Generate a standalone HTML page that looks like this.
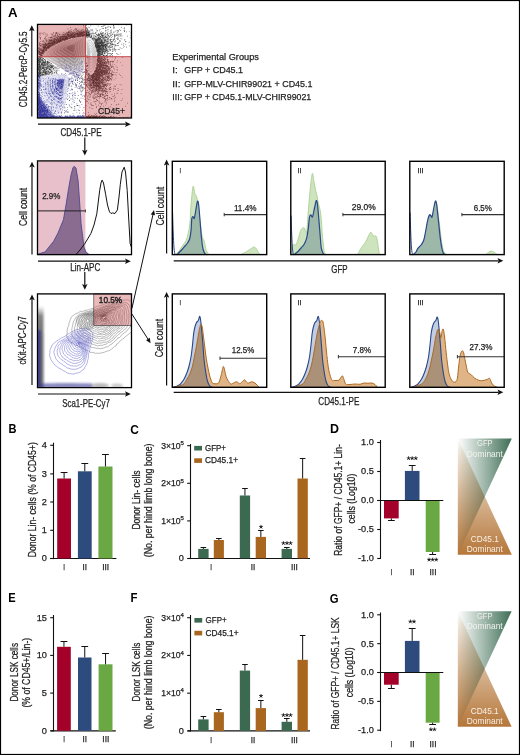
<!DOCTYPE html><html><head><meta charset="utf-8"><style>
html,body{margin:0;padding:0;background:#fff;}
svg{display:block;font-family:"Liberation Sans", sans-serif;}
</style></head><body>
<svg width="520" height="755" viewBox="0 0 520 755">
<defs>
<linearGradient id="gG" x1="0" y1="0" x2="1" y2="0"><stop offset="0" stop-color="#ffffff"/><stop offset="1" stop-color="#3e6e55"/></linearGradient>
<linearGradient id="gO" x1="0" y1="0" x2="0" y2="1"><stop offset="0" stop-color="#ffffff"/><stop offset="0.12" stop-color="#f3e9de"/><stop offset="1" stop-color="#b5773a"/></linearGradient>
<filter id="blur1" x="-20%" y="-20%" width="140%" height="140%"><feGaussianBlur stdDeviation="1.2"/></filter>
<filter id="blur2" x="-20%" y="-20%" width="140%" height="140%"><feGaussianBlur stdDeviation="2.5"/></filter>
</defs>
<rect x="0" y="0" width="520" height="755" fill="#fff"/>

<text x="8.0" y="17.4" font-size="13" text-anchor="start" fill="#000" font-weight="bold" textLength="9.6" lengthAdjust="spacingAndGlyphs" >A</text>
<text x="8.4" y="433.4" font-size="13" text-anchor="start" fill="#000" font-weight="bold" textLength="8.0" lengthAdjust="spacingAndGlyphs" >B</text>
<text x="130.3" y="433.6" font-size="13" text-anchor="start" fill="#000" font-weight="bold" textLength="8.6" lengthAdjust="spacingAndGlyphs" >C</text>
<text x="329.9" y="433.4" font-size="13" text-anchor="start" fill="#000" font-weight="bold" textLength="9.0" lengthAdjust="spacingAndGlyphs" >D</text>
<text x="8.3" y="602.3" font-size="13" text-anchor="start" fill="#000" font-weight="bold" textLength="7.4" lengthAdjust="spacingAndGlyphs" >E</text>
<text x="130.5" y="602.4" font-size="13" text-anchor="start" fill="#000" font-weight="bold" textLength="7.0" lengthAdjust="spacingAndGlyphs" >F</text>
<text x="329.8" y="602.5" font-size="13" text-anchor="start" fill="#000" font-weight="bold" textLength="8.8" lengthAdjust="spacingAndGlyphs" >G</text>
<clipPath id="scClip"><rect x="37.5" y="24.4" width="94.0" height="93.6"/></clipPath>
<g clip-path="url(#scClip)">
<rect x="37.5" y="24.4" width="94.0" height="93.6" fill="#fff"/>
<g filter="url(#blur2)">
<path d="M39,50 C45,40 58,34 75,32 C82,31 88,32 92,34 L88,40 C75,40 60,44 45,54 Z" fill="#000" opacity="0.45"/>
<ellipse cx="99" cy="47" rx="9" ry="8" fill="#000" opacity="0.35"/>
<ellipse cx="97" cy="80" rx="7" ry="11" fill="#000" opacity="0.35"/>
<ellipse cx="48" cy="66" rx="9" ry="6" fill="#000" opacity="0.25"/>
</g>
<radialGradient id="leafG" cx="0.62" cy="0.3" r="0.65"><stop offset="0" stop-color="#766e6e"/><stop offset="0.5" stop-color="#a89c9c"/><stop offset="1" stop-color="#e6e2e2"/></radialGradient>
<path d="M42.8,54.6 L43.7,53.4 L44.7,52.2 L45.7,51.1 L46.9,50.0 L48.1,49.0 L49.4,48.0 L50.8,47.1 L52.2,46.2 L53.8,45.3 L55.2,44.5 L56.8,43.7 L58.2,43.0 L59.8,42.3 L61.2,41.7 L62.8,41.1 L64.2,40.5 L65.8,40.0 L67.2,39.6 L68.8,39.1 L70.2,38.7 L71.8,38.4 L73.2,38.0 L74.8,37.7 L76.2,37.4 L77.8,37.2 L79.2,37.0 L80.6,36.8 L81.9,36.6 L83.1,36.5 L84.2,36.5 L85.0,36.7 L85.7,37.1 L86.1,37.7 L86.5,38.8 L86.7,40.5 L86.8,42.8 L86.8,45.7 L86.8,48.5 L86.6,51.2 L86.5,53.8 L86.3,56.2 L86.1,58.6 L85.8,60.9 L85.4,63.0 L85.1,65.0 L84.6,66.9 L84.1,68.8 L83.6,70.6 L82.9,72.4 L82.3,73.9 L81.6,75.3 L80.9,76.4 L80.1,77.4 L79.3,78.0 L78.5,78.4 L77.7,78.5 L76.8,78.3 L75.8,77.9 L74.7,77.4 L73.4,76.7 L72.1,75.8 L70.5,74.8 L68.8,73.8 L67.0,72.6 L65.0,71.4 L63.0,70.1 L61.0,68.9 L59.0,67.6 L57.0,66.4 L55.1,65.2 L53.2,64.1 L51.4,63.0 L49.6,62.0 L48.1,61.1 L46.7,60.3 L45.5,59.6 L44.5,58.9 L43.7,58.4 L43.0,57.9 L42.4,57.4 L42.1,57.1 L42.0,56.5 L42.2,55.7 Z" fill="url(#leafG)"/>
<path d="M46.0,53.7 L46.8,52.6 L47.7,51.5 L48.6,50.5 L49.6,49.6 L50.8,48.7 L51.9,47.8 L53.1,47.0 L54.4,46.2 L55.8,45.4 L57.1,44.7 L58.4,44.0 L59.8,43.3 L61.1,42.7 L62.4,42.2 L63.8,41.6 L65.1,41.1 L66.4,40.7 L67.8,40.3 L69.1,39.9 L70.4,39.5 L71.8,39.2 L73.1,38.9 L74.4,38.6 L75.8,38.4 L77.1,38.1 L78.4,38.0 L79.6,37.8 L80.8,37.6 L81.9,37.5 L82.8,37.6 L83.6,37.8 L84.2,38.1 L84.6,38.6 L84.9,39.6 L85.1,41.1 L85.2,43.2 L85.2,45.7 L85.1,48.2 L85.0,50.6 L84.9,52.9 L84.7,55.1 L84.5,57.2 L84.3,59.2 L84.0,61.1 L83.6,62.9 L83.2,64.6 L82.8,66.3 L82.3,67.9 L81.7,69.5 L81.2,70.9 L80.5,72.1 L79.9,73.1 L79.2,73.9 L78.5,74.5 L77.8,74.8 L77.1,74.9 L76.3,74.7 L75.4,74.4 L74.4,73.9 L73.3,73.3 L72.1,72.5 L70.7,71.7 L69.2,70.7 L67.5,69.7 L65.8,68.6 L64.0,67.5 L62.2,66.4 L60.4,65.2 L58.6,64.1 L56.9,63.1 L55.3,62.1 L53.6,61.1 L52.1,60.2 L50.7,59.4 L49.5,58.7 L48.4,58.1 L47.5,57.5 L46.8,57.0 L46.2,56.6 L45.7,56.2 L45.4,55.8 L45.3,55.3 L45.5,54.6 Z" fill="none" stroke="#fff" stroke-width="0.5" opacity="0.8"/>
<path d="M49.2,52.7 L49.9,51.8 L50.7,50.8 L51.5,49.9 L52.4,49.1 L53.4,48.3 L54.4,47.6 L55.5,46.9 L56.6,46.1 L57.8,45.5 L58.9,44.8 L60.1,44.2 L61.3,43.7 L62.4,43.1 L63.6,42.6 L64.8,42.2 L66.0,41.7 L67.1,41.4 L68.3,41.0 L69.5,40.7 L70.6,40.3 L71.8,40.0 L73.0,39.8 L74.1,39.5 L75.3,39.3 L76.5,39.1 L77.6,38.9 L78.7,38.8 L79.7,38.7 L80.7,38.6 L81.5,38.6 L82.2,38.8 L82.7,39.1 L83.0,39.5 L83.3,40.4 L83.5,41.7 L83.5,43.5 L83.5,45.8 L83.5,47.9 L83.4,50.0 L83.3,52.0 L83.2,54.0 L83.0,55.8 L82.7,57.6 L82.5,59.3 L82.2,60.8 L81.8,62.3 L81.5,63.8 L81.0,65.2 L80.5,66.6 L80.0,67.8 L79.5,68.8 L78.9,69.7 L78.3,70.5 L77.7,71.0 L77.1,71.3 L76.4,71.3 L75.8,71.2 L75.0,70.9 L74.1,70.5 L73.1,69.9 L72.0,69.3 L70.9,68.5 L69.5,67.7 L68.1,66.8 L66.5,65.8 L65.0,64.8 L63.4,63.8 L61.9,62.9 L60.3,61.9 L58.8,61.0 L57.3,60.1 L55.9,59.3 L54.5,58.5 L53.3,57.8 L52.3,57.1 L51.3,56.6 L50.5,56.1 L49.9,55.7 L49.4,55.3 L48.9,54.9 L48.6,54.6 L48.6,54.2 L48.8,53.5 Z" fill="none" stroke="#fff" stroke-width="0.5" opacity="0.8"/>
<path d="M52.4,51.8 L53.0,50.9 L53.7,50.1 L54.4,49.4 L55.2,48.7 L56.0,48.0 L56.9,47.4 L57.8,46.7 L58.8,46.1 L59.8,45.5 L60.8,45.0 L61.8,44.5 L62.8,44.0 L63.8,43.5 L64.8,43.1 L65.8,42.7 L66.8,42.3 L67.8,42.0 L68.8,41.7 L69.8,41.4 L70.8,41.1 L71.8,40.9 L72.8,40.7 L73.8,40.4 L74.8,40.3 L75.9,40.1 L76.8,39.9 L77.7,39.8 L78.6,39.7 L79.5,39.6 L80.2,39.7 L80.7,39.8 L81.2,40.1 L81.5,40.4 L81.7,41.2 L81.8,42.3 L81.9,43.9 L81.9,45.8 L81.9,47.7 L81.8,49.5 L81.7,51.2 L81.6,52.9 L81.4,54.5 L81.2,56.0 L81.0,57.4 L80.8,58.7 L80.5,60.0 L80.1,61.3 L79.7,62.5 L79.3,63.7 L78.9,64.7 L78.4,65.6 L77.9,66.4 L77.4,67.0 L76.9,67.5 L76.4,67.7 L75.8,67.8 L75.2,67.6 L74.6,67.4 L73.8,67.0 L73.0,66.6 L72.0,66.0 L71.0,65.3 L69.9,64.6 L68.7,63.8 L67.3,63.0 L66.0,62.2 L64.6,61.3 L63.3,60.5 L62.0,59.7 L60.7,58.9 L59.4,58.1 L58.2,57.4 L57.0,56.7 L56.0,56.1 L55.0,55.6 L54.2,55.1 L53.6,54.7 L53.0,54.3 L52.5,54.0 L52.2,53.7 L51.9,53.4 L51.9,53.0 L52.1,52.5 Z" fill="none" stroke="#fff" stroke-width="0.5" opacity="0.8"/>
<path d="M55.7,50.8 L56.1,50.1 L56.7,49.5 L57.3,48.8 L57.9,48.2 L58.6,47.7 L59.4,47.1 L60.1,46.6 L60.9,46.1 L61.8,45.6 L62.6,45.2 L63.5,44.7 L64.3,44.3 L65.1,43.9 L66.0,43.6 L66.8,43.3 L67.7,42.9 L68.5,42.7 L69.3,42.4 L70.2,42.2 L71.0,41.9 L71.9,41.7 L72.7,41.5 L73.5,41.4 L74.4,41.2 L75.2,41.1 L76.0,40.9 L76.8,40.8 L77.5,40.7 L78.2,40.7 L78.8,40.7 L79.3,40.8 L79.7,41.0 L79.9,41.3 L80.1,42.0 L80.2,42.9 L80.3,44.2 L80.3,45.8 L80.3,47.4 L80.2,48.9 L80.1,50.3 L80.0,51.7 L79.9,53.1 L79.7,54.3 L79.5,55.5 L79.3,56.6 L79.1,57.7 L78.8,58.8 L78.5,59.8 L78.1,60.8 L77.8,61.6 L77.4,62.4 L77.0,63.0 L76.5,63.6 L76.1,63.9 L75.7,64.2 L75.2,64.2 L74.7,64.1 L74.1,63.9 L73.5,63.6 L72.8,63.2 L72.0,62.7 L71.2,62.2 L70.2,61.6 L69.2,60.9 L68.1,60.2 L67.0,59.5 L65.8,58.8 L64.7,58.1 L63.6,57.4 L62.5,56.7 L61.5,56.1 L60.5,55.5 L59.5,55.0 L58.6,54.5 L57.8,54.0 L57.2,53.6 L56.6,53.2 L56.1,52.9 L55.7,52.6 L55.4,52.4 L55.2,52.2 L55.2,51.9 L55.3,51.4 Z" fill="none" stroke="#fff" stroke-width="0.5" opacity="0.8"/>
<path d="M58.9,49.9 L59.3,49.3 L59.7,48.8 L60.2,48.3 L60.7,47.8 L61.3,47.4 L61.8,46.9 L62.5,46.5 L63.1,46.1 L63.8,45.7 L64.5,45.3 L65.1,45.0 L65.8,44.6 L66.5,44.3 L67.2,44.1 L67.8,43.8 L68.5,43.5 L69.2,43.3 L69.9,43.1 L70.5,42.9 L71.2,42.7 L71.9,42.6 L72.6,42.4 L73.2,42.3 L73.9,42.1 L74.6,42.0 L75.2,41.9 L75.9,41.8 L76.4,41.8 L77.0,41.7 L77.5,41.7 L77.9,41.8 L78.2,42.0 L78.4,42.3 L78.5,42.8 L78.6,43.5 L78.7,44.6 L78.7,45.9 L78.6,47.1 L78.6,48.3 L78.5,49.5 L78.4,50.6 L78.3,51.7 L78.2,52.7 L78.0,53.6 L77.9,54.5 L77.7,55.4 L77.5,56.3 L77.2,57.1 L76.9,57.9 L76.6,58.6 L76.3,59.2 L76.0,59.7 L75.7,60.1 L75.3,60.4 L74.9,60.6 L74.6,60.6 L74.2,60.5 L73.7,60.4 L73.2,60.1 L72.6,59.8 L72.0,59.4 L71.3,59.0 L70.6,58.5 L69.8,58.0 L68.8,57.4 L68.0,56.9 L67.0,56.3 L66.2,55.7 L65.2,55.2 L64.4,54.6 L63.5,54.1 L62.7,53.6 L61.9,53.2 L61.2,52.8 L60.6,52.4 L60.1,52.1 L59.6,51.8 L59.2,51.6 L58.9,51.3 L58.7,51.1 L58.5,51.0 L58.5,50.7 L58.6,50.3 Z" fill="none" stroke="#fff" stroke-width="0.5" opacity="0.8"/>
<path d="M62.1,48.9 L62.4,48.5 L62.7,48.1 L63.1,47.7 L63.5,47.4 L63.9,47.0 L64.3,46.7 L64.8,46.4 L65.3,46.1 L65.8,45.8 L66.3,45.5 L66.8,45.2 L67.3,45.0 L67.8,44.7 L68.3,44.5 L68.9,44.3 L69.4,44.1 L69.9,44.0 L70.4,43.8 L70.9,43.7 L71.4,43.5 L71.9,43.4 L72.4,43.3 L72.9,43.2 L73.4,43.1 L74.0,43.0 L74.4,42.9 L74.9,42.9 L75.4,42.8 L75.8,42.8 L76.1,42.8 L76.4,42.9 L76.6,43.0 L76.8,43.2 L76.9,43.6 L77.0,44.1 L77.0,44.9 L77.0,45.9 L77.0,46.8 L77.0,47.8 L76.9,48.6 L76.9,49.5 L76.8,50.3 L76.7,51.1 L76.6,51.8 L76.4,52.5 L76.3,53.1 L76.1,53.8 L75.9,54.4 L75.7,55.0 L75.5,55.5 L75.3,56.0 L75.0,56.3 L74.8,56.7 L74.5,56.9 L74.2,57.0 L73.9,57.0 L73.6,57.0 L73.3,56.9 L72.9,56.7 L72.5,56.4 L72.0,56.1 L71.5,55.8 L70.9,55.4 L70.3,55.1 L69.6,54.6 L68.9,54.2 L68.3,53.8 L67.6,53.4 L66.9,52.9 L66.2,52.5 L65.6,52.1 L65.0,51.8 L64.4,51.4 L63.9,51.1 L63.4,50.9 L63.0,50.6 L62.6,50.4 L62.4,50.2 L62.1,50.0 L61.9,49.9 L61.8,49.8 L61.8,49.6 L61.9,49.3 Z" fill="none" stroke="#fff" stroke-width="0.5" opacity="0.8"/>
<path d="M65.3,48.0 L65.5,47.7 L65.7,47.4 L66.0,47.2 L66.2,46.9 L66.5,46.7 L66.8,46.5 L67.1,46.3 L67.5,46.0 L67.8,45.8 L68.1,45.7 L68.5,45.5 L68.8,45.3 L69.2,45.2 L69.5,45.0 L69.9,44.9 L70.2,44.7 L70.6,44.6 L70.9,44.5 L71.3,44.4 L71.6,44.3 L71.9,44.2 L72.3,44.2 L72.6,44.1 L73.0,44.0 L73.3,44.0 L73.7,43.9 L74.0,43.9 L74.3,43.8 L74.6,43.8 L74.8,43.8 L75.0,43.9 L75.1,44.0 L75.2,44.1 L75.3,44.3 L75.4,44.7 L75.4,45.3 L75.4,45.9 L75.4,46.6 L75.4,47.2 L75.3,47.8 L75.3,48.4 L75.2,48.9 L75.2,49.4 L75.1,49.9 L75.0,50.4 L74.9,50.8 L74.8,51.2 L74.7,51.7 L74.5,52.1 L74.4,52.4 L74.2,52.7 L74.0,53.0 L73.9,53.2 L73.7,53.4 L73.5,53.5 L73.3,53.5 L73.1,53.4 L72.9,53.3 L72.6,53.2 L72.3,53.1 L72.0,52.9 L71.7,52.6 L71.3,52.4 L70.8,52.1 L70.4,51.8 L69.9,51.5 L69.5,51.3 L69.0,51.0 L68.5,50.7 L68.1,50.4 L67.7,50.2 L67.3,49.9 L66.9,49.7 L66.5,49.5 L66.2,49.3 L65.9,49.1 L65.7,49.0 L65.5,48.8 L65.3,48.7 L65.2,48.6 L65.1,48.5 L65.1,48.4 L65.2,48.2 Z" fill="none" stroke="#fff" stroke-width="0.5" opacity="0.8"/>
<path d="M42.8,54.6 L43.7,53.4 L44.7,52.2 L45.7,51.1 L46.9,50.0 L48.1,49.0 L49.4,48.0 L50.8,47.1 L52.2,46.2 L53.8,45.3 L55.2,44.5 L56.8,43.7 L58.2,43.0 L59.8,42.3 L61.2,41.7 L62.8,41.1 L64.2,40.5 L65.8,40.0 L67.2,39.6 L68.8,39.1 L70.2,38.7 L71.8,38.4 L73.2,38.0 L74.8,37.7 L76.2,37.4 L77.8,37.2 L79.2,37.0 L80.6,36.8 L81.9,36.6 L83.1,36.5 L84.2,36.5 L85.0,36.7 L85.7,37.1 L86.1,37.7 L86.5,38.8 L86.7,40.5 L86.8,42.8 L86.8,45.7 L86.8,48.5 L86.6,51.2 L86.5,53.8 L86.3,56.2 L86.1,58.6 L85.8,60.9 L85.4,63.0 L85.1,65.0 L84.6,66.9 L84.1,68.8 L83.6,70.6 L82.9,72.4 L82.3,73.9 L81.6,75.3 L80.9,76.4 L80.1,77.4 L79.3,78.0 L78.5,78.4 L77.7,78.5 L76.8,78.3 L75.8,77.9 L74.7,77.4 L73.4,76.7 L72.1,75.8 L70.5,74.8 L68.8,73.8 L67.0,72.6 L65.0,71.4 L63.0,70.1 L61.0,68.9 L59.0,67.6 L57.0,66.4 L55.1,65.2 L53.2,64.1 L51.4,63.0 L49.6,62.0 L48.1,61.1 L46.7,60.3 L45.5,59.6 L44.5,58.9 L43.7,58.4 L43.0,57.9 L42.4,57.4 L42.1,57.1 L42.0,56.5 L42.2,55.7 Z" fill="none" stroke="#fff" stroke-width="1.1"/>
<path d="M87.8,37.6 L88.5,37.5 L89.2,37.6 L89.9,37.8 L90.6,38.3 L91.4,39.0 L92.1,39.8 L92.8,40.8 L93.4,41.9 L94.1,43.1 L94.6,44.4 L95.1,45.8 L95.6,47.2 L95.9,48.8 L96.2,50.3 L96.5,51.9 L96.7,53.6 L96.8,55.4 L96.9,57.1 L96.8,58.9 L96.7,60.6 L96.6,62.4 L96.3,64.1 L96.0,65.7 L95.6,67.2 L95.2,68.8 L94.7,70.1 L94.2,71.3 L93.7,72.3 L93.1,73.2 L92.6,73.9 L92.0,74.4 L91.4,74.7 L90.7,74.8 L90.2,74.7 L89.6,74.2 L89.1,73.5 L88.7,72.5 L88.3,71.2 L88.0,69.8 L87.7,68.0 L87.5,66.0 L87.3,63.8 L87.2,61.4 L87.0,58.9 L87.0,56.1 L86.9,53.2 L86.8,50.0 L86.8,46.7 L86.8,43.1 L87.0,40.4 L87.3,38.6 Z" fill="#f4f4f4"/>
<path d="M88.3,40.2 L88.9,40.1 L89.5,40.2 L90.1,40.4 L90.7,40.8 L91.3,41.4 L91.9,42.1 L92.5,42.9 L93.1,43.8 L93.6,44.9 L94.1,46.0 L94.5,47.2 L94.9,48.4 L95.2,49.7 L95.5,51.0 L95.7,52.4 L95.8,53.8 L95.9,55.3 L96.0,56.8 L96.0,58.3 L95.9,59.8 L95.7,61.3 L95.5,62.7 L95.3,64.1 L94.9,65.4 L94.5,66.7 L94.1,67.8 L93.7,68.8 L93.3,69.7 L92.8,70.5 L92.3,71.0 L91.8,71.5 L91.3,71.7 L90.8,71.8 L90.3,71.7 L89.8,71.3 L89.4,70.7 L89.0,69.9 L88.7,68.8 L88.4,67.5 L88.2,66.0 L88.0,64.3 L87.9,62.5 L87.7,60.5 L87.6,58.3 L87.6,56.0 L87.5,53.4 L87.5,50.8 L87.4,47.9 L87.4,44.9 L87.6,42.6 L87.9,41.1 Z" fill="none" stroke="#999" stroke-width="0.45"/>
<path d="M88.8,42.8 L89.2,42.7 L89.7,42.8 L90.2,43.0 L90.7,43.3 L91.3,43.8 L91.8,44.4 L92.2,45.0 L92.7,45.8 L93.1,46.7 L93.5,47.6 L93.9,48.6 L94.2,49.6 L94.5,50.6 L94.7,51.7 L94.8,52.9 L95.0,54.0 L95.1,55.3 L95.1,56.5 L95.1,57.7 L95.0,58.9 L94.9,60.2 L94.7,61.3 L94.5,62.5 L94.2,63.6 L93.9,64.6 L93.6,65.6 L93.2,66.4 L92.9,67.1 L92.5,67.7 L92.1,68.2 L91.7,68.6 L91.3,68.8 L90.8,68.9 L90.4,68.8 L90.0,68.5 L89.7,68.0 L89.4,67.2 L89.1,66.4 L88.9,65.3 L88.7,64.1 L88.6,62.7 L88.4,61.2 L88.3,59.5 L88.2,57.7 L88.2,55.8 L88.1,53.7 L88.1,51.5 L88.1,49.2 L88.1,46.7 L88.2,44.8 L88.4,43.5 Z" fill="none" stroke="#999" stroke-width="0.45"/>
<path d="M89.2,45.4 L89.6,45.4 L90.0,45.4 L90.4,45.6 L90.8,45.8 L91.2,46.2 L91.6,46.6 L92.0,47.2 L92.3,47.8 L92.7,48.5 L93.0,49.2 L93.3,49.9 L93.5,50.7 L93.7,51.6 L93.9,52.4 L94.0,53.3 L94.1,54.2 L94.2,55.2 L94.2,56.2 L94.2,57.1 L94.2,58.1 L94.1,59.1 L93.9,60.0 L93.8,60.9 L93.5,61.7 L93.3,62.6 L93.0,63.3 L92.8,64.0 L92.5,64.5 L92.2,65.0 L91.9,65.4 L91.5,65.7 L91.2,65.8 L90.9,65.9 L90.5,65.8 L90.2,65.6 L90.0,65.2 L89.7,64.6 L89.5,63.9 L89.3,63.1 L89.2,62.1 L89.1,61.0 L89.0,59.8 L88.9,58.5 L88.8,57.1 L88.8,55.6 L88.7,54.0 L88.7,52.3 L88.7,50.4 L88.7,48.5 L88.8,47.0 L89.0,46.0 Z" fill="none" stroke="#999" stroke-width="0.45"/>
<path d="M89.7,48.0 L90.0,48.0 L90.3,48.0 L90.6,48.1 L90.8,48.3 L91.2,48.6 L91.4,48.9 L91.7,49.3 L92.0,49.8 L92.2,50.2 L92.5,50.8 L92.7,51.3 L92.8,51.9 L93.0,52.5 L93.1,53.1 L93.2,53.8 L93.3,54.5 L93.3,55.1 L93.3,55.9 L93.3,56.5 L93.3,57.2 L93.2,58.0 L93.1,58.6 L93.0,59.3 L92.8,59.9 L92.7,60.5 L92.5,61.0 L92.3,61.5 L92.1,61.9 L91.8,62.3 L91.6,62.5 L91.4,62.8 L91.1,62.9 L90.9,62.9 L90.7,62.9 L90.4,62.7 L90.2,62.4 L90.1,62.0 L89.9,61.5 L89.8,60.9 L89.7,60.2 L89.6,59.4 L89.5,58.5 L89.5,57.6 L89.4,56.5 L89.4,55.5 L89.3,54.3 L89.3,53.0 L89.3,51.7 L89.3,50.2 L89.4,49.2 L89.5,48.4 Z" fill="none" stroke="#999" stroke-width="0.45"/>
<path d="M90.2,50.7 L90.4,50.6 L90.5,50.6 L90.7,50.7 L90.9,50.8 L91.1,51.0 L91.3,51.2 L91.4,51.4 L91.6,51.7 L91.8,52.0 L91.9,52.4 L92.0,52.7 L92.1,53.1 L92.2,53.4 L92.3,53.8 L92.4,54.2 L92.4,54.7 L92.5,55.1 L92.5,55.5 L92.5,56.0 L92.4,56.4 L92.4,56.8 L92.3,57.3 L92.3,57.7 L92.2,58.1 L92.0,58.4 L91.9,58.8 L91.8,59.1 L91.7,59.3 L91.5,59.5 L91.4,59.7 L91.2,59.8 L91.1,59.9 L90.9,60.0 L90.8,59.9 L90.7,59.8 L90.5,59.6 L90.4,59.4 L90.3,59.1 L90.2,58.7 L90.2,58.2 L90.1,57.8 L90.1,57.2 L90.0,56.6 L90.0,56.0 L90.0,55.3 L90.0,54.5 L90.0,53.8 L90.0,52.9 L90.0,52.0 L90.0,51.4 L90.1,50.9 Z" fill="none" stroke="#999" stroke-width="0.45"/>
<radialGradient id="tdG" cx="0.7" cy="0.25" r="0.75"><stop offset="0" stop-color="#2a2a9a" stop-opacity="0.5"/><stop offset="0.6" stop-color="#4a4ab0" stop-opacity="0.3"/><stop offset="1" stop-color="#8888cc" stop-opacity="0.12"/></radialGradient>
<path d="M41.5,75.8 L44.5,75.2 L47.5,75.0 L50.5,74.8 L53.5,74.7 L56.5,74.6 L59.5,74.5 L62.5,74.5 L65.2,75.1 L67.8,76.4 L68.9,78.2 L68.6,80.8 L68.4,83.5 L68.1,86.5 L67.8,89.2 L67.2,91.8 L66.8,94.2 L66.2,96.8 L65.8,99.2 L65.2,101.8 L64.8,104.2 L64.2,106.8 L63.6,109.0 L62.9,111.0 L62.1,112.6 L61.4,113.9 L60.2,114.5 L58.8,114.5 L57.0,114.1 L55.0,113.4 L53.0,112.2 L51.0,110.8 L49.0,109.0 L47.0,107.0 L45.2,105.0 L43.8,103.0 L42.5,101.0 L41.5,99.0 L40.8,96.0 L40.2,92.0 L40.0,86.5 L40.0,79.5 Z" fill="url(#tdG)"/>
<g filter="url(#blur1)"><path d="M38.5,98 C44,104 50,110 56,117.5 L38.5,117.5 Z" fill="#2a2a9a" opacity="0.55"/></g>
<path transform="scale(0.1)" d="M734 366h7v7h-7zM851 290h7v7h-7zM556 423h7v7h-7zM450 456h7v7h-7zM590 409h7v7h-7zM747 365h7v7h-7zM511 451h7v7h-7zM648 391h7v7h-7zM575 415h7v7h-7zM398 502h7v7h-7zM697 352h7v7h-7zM598 407h7v7h-7zM631 359h7v7h-7zM645 360h7v7h-7zM536 424h7v7h-7zM416 489h7v7h-7zM698 359h7v7h-7zM802 340h7v7h-7zM433 497h7v7h-7zM814 322h7v7h-7zM426 496h7v7h-7zM799 361h7v7h-7zM564 392h7v7h-7zM485 394h7v7h-7zM795 358h7v7h-7zM717 360h7v7h-7zM458 502h7v7h-7zM843 347h7v7h-7zM511 429h7v7h-7zM513 404h7v7h-7zM867 346h7v7h-7zM740 351h7v7h-7zM496 456h7v7h-7zM504 412h7v7h-7zM479 464h7v7h-7zM662 359h7v7h-7zM464 446h7v7h-7zM818 325h7v7h-7zM636 384h7v7h-7zM606 392h7v7h-7zM882 359h7v7h-7zM485 482h7v7h-7zM521 452h7v7h-7zM872 348h7v7h-7zM589 392h7v7h-7zM546 377h7v7h-7zM421 507h7v7h-7zM676 286h7v7h-7zM679 356h7v7h-7zM670 332h7v7h-7zM392 513h7v7h-7zM476 458h7v7h-7zM583 398h7v7h-7zM668 335h7v7h-7zM811 307h7v7h-7zM534 395h7v7h-7zM843 319h7v7h-7zM834 334h7v7h-7zM482 455h7v7h-7zM449 463h7v7h-7zM608 407h7v7h-7zM643 396h7v7h-7zM877 306h7v7h-7zM716 342h7v7h-7zM865 322h7v7h-7zM859 286h7v7h-7zM530 447h7v7h-7zM516 448h7v7h-7zM709 339h7v7h-7zM479 459h7v7h-7zM402 494h7v7h-7zM445 468h7v7h-7zM864 352h7v7h-7zM831 360h7v7h-7zM666 372h7v7h-7zM807 335h7v7h-7zM468 467h7v7h-7zM658 377h7v7h-7zM661 319h7v7h-7zM583 359h7v7h-7zM549 427h7v7h-7zM796 333h7v7h-7zM696 383h7v7h-7zM864 349h7v7h-7zM875 347h7v7h-7zM609 389h7v7h-7zM431 501h7v7h-7zM773 327h7v7h-7zM738 332h7v7h-7zM674 337h7v7h-7zM793 364h7v7h-7zM454 431h7v7h-7zM458 498h7v7h-7zM865 316h7v7h-7zM431 533h7v7h-7zM506 432h7v7h-7zM652 388h7v7h-7zM479 428h7v7h-7zM402 553h7v7h-7zM594 421h7v7h-7zM763 296h7v7h-7zM866 353h7v7h-7zM595 401h7v7h-7zM786 296h7v7h-7zM409 553h7v7h-7zM488 454h7v7h-7zM880 355h7v7h-7zM621 397h7v7h-7zM868 286h7v7h-7zM565 394h7v7h-7zM808 347h7v7h-7zM406 548h7v7h-7zM420 530h7v7h-7zM438 442h7v7h-7zM778 358h7v7h-7zM658 388h7v7h-7zM866 353h7v7h-7zM545 438h7v7h-7zM383 480h7v7h-7zM545 388h7v7h-7zM459 488h7v7h-7zM414 518h7v7h-7zM855 300h7v7h-7zM811 337h7v7h-7zM558 408h7v7h-7zM737 348h7v7h-7zM424 524h7v7h-7zM495 432h7v7h-7zM486 448h7v7h-7zM470 473h7v7h-7zM866 299h7v7h-7zM860 275h7v7h-7zM394 521h7v7h-7zM850 298h7v7h-7zM546 388h7v7h-7zM668 347h7v7h-7zM865 333h7v7h-7zM843 351h7v7h-7zM428 505h7v7h-7zM518 445h7v7h-7zM669 388h7v7h-7zM494 472h7v7h-7zM625 372h7v7h-7zM451 477h7v7h-7zM384 514h7v7h-7zM516 459h7v7h-7zM596 407h7v7h-7zM389 487h7v7h-7zM870 357h7v7h-7zM759 368h7v7h-7zM632 362h7v7h-7zM521 440h7v7h-7zM647 398h7v7h-7zM743 364h7v7h-7zM887 335h7v7h-7zM735 355h7v7h-7zM570 410h7v7h-7zM699 383h7v7h-7zM415 504h7v7h-7zM867 351h7v7h-7zM811 344h7v7h-7zM862 342h7v7h-7zM465 500h7v7h-7zM827 336h7v7h-7zM377 518h7v7h-7zM846 345h7v7h-7zM885 333h7v7h-7zM434 459h7v7h-7zM481 467h7v7h-7zM803 363h7v7h-7zM485 424h7v7h-7zM662 360h7v7h-7zM780 356h7v7h-7zM892 350h7v7h-7zM407 549h7v7h-7zM706 349h7v7h-7zM577 388h7v7h-7zM623 383h7v7h-7zM748 368h7v7h-7zM685 354h7v7h-7zM760 367h7v7h-7zM655 371h7v7h-7zM569 417h7v7h-7zM567 417h7v7h-7zM823 328h7v7h-7zM431 501h7v7h-7zM544 407h7v7h-7zM378 516h7v7h-7zM702 297h7v7h-7zM679 361h7v7h-7zM795 345h7v7h-7zM735 358h7v7h-7zM438 458h7v7h-7zM469 487h7v7h-7zM665 382h7v7h-7zM804 325h7v7h-7zM698 376h7v7h-7zM746 346h7v7h-7zM733 299h7v7h-7zM618 362h7v7h-7zM681 338h7v7h-7zM643 365h7v7h-7zM606 406h7v7h-7zM451 507h7v7h-7zM847 338h7v7h-7zM787 337h7v7h-7zM426 518h7v7h-7zM530 437h7v7h-7zM714 342h7v7h-7zM786 366h7v7h-7zM411 523h7v7h-7zM787 337h7v7h-7zM405 429h7v7h-7zM809 336h7v7h-7zM584 388h7v7h-7zM485 474h7v7h-7zM637 400h7v7h-7zM572 428h7v7h-7zM550 346h7v7h-7zM869 350h7v7h-7zM849 326h7v7h-7zM604 405h7v7h-7zM620 360h7v7h-7zM600 365h7v7h-7zM821 352h7v7h-7zM379 527h7v7h-7zM559 430h7v7h-7zM607 400h7v7h-7zM420 502h7v7h-7zM611 368h7v7h-7zM802 334h7v7h-7zM857 308h7v7h-7zM779 342h7v7h-7zM628 347h7v7h-7zM690 323h7v7h-7zM714 351h7v7h-7zM421 531h7v7h-7zM445 472h7v7h-7zM497 450h7v7h-7zM737 348h7v7h-7zM860 347h7v7h-7zM540 411h7v7h-7zM572 423h7v7h-7zM806 322h7v7h-7zM455 437h7v7h-7zM515 422h7v7h-7zM607 404h7v7h-7zM796 346h7v7h-7zM496 452h7v7h-7zM413 499h7v7h-7zM673 351h7v7h-7zM658 386h7v7h-7zM774 331h7v7h-7zM379 532h7v7h-7zM831 352h7v7h-7zM542 433h7v7h-7zM699 351h7v7h-7zM878 341h7v7h-7zM722 365h7v7h-7zM880 324h7v7h-7zM395 483h7v7h-7zM430 471h7v7h-7zM533 443h7v7h-7zM719 379h7v7h-7zM665 365h7v7h-7zM815 359h7v7h-7zM703 372h7v7h-7zM652 379h7v7h-7zM608 359h7v7h-7zM728 334h7v7h-7zM414 447h7v7h-7zM683 339h7v7h-7zM695 362h7v7h-7zM397 525h7v7h-7zM719 377h7v7h-7zM645 359h7v7h-7zM417 547h7v7h-7zM389 537h7v7h-7zM871 352h7v7h-7zM491 439h7v7h-7zM482 455h7v7h-7zM791 316h7v7h-7zM643 400h7v7h-7zM884 321h7v7h-7zM890 359h7v7h-7zM396 540h7v7h-7zM500 468h7v7h-7zM881 348h7v7h-7zM876 308h7v7h-7zM507 413h7v7h-7zM828 291h7v7h-7zM799 351h7v7h-7zM451 492h7v7h-7zM666 390h7v7h-7zM760 284h7v7h-7zM648 373h7v7h-7zM854 357h7v7h-7zM610 410h7v7h-7zM769 365h7v7h-7zM863 330h7v7h-7zM414 533h7v7h-7zM658 358h7v7h-7zM498 451h7v7h-7zM516 454h7v7h-7zM410 547h7v7h-7zM459 448h7v7h-7zM678 344h7v7h-7zM482 475h7v7h-7zM747 368h7v7h-7zM400 483h7v7h-7zM473 463h7v7h-7zM438 496h7v7h-7zM636 396h7v7h-7zM658 335h7v7h-7zM713 345h7v7h-7zM645 362h7v7h-7zM768 336h7v7h-7zM428 524h7v7h-7zM475 481h7v7h-7zM844 351h7v7h-7zM392 513h7v7h-7zM511 372h7v7h-7zM860 331h7v7h-7zM616 408h7v7h-7zM442 456h7v7h-7zM468 469h7v7h-7zM787 364h7v7h-7zM420 533h7v7h-7zM880 305h7v7h-7zM605 380h7v7h-7zM418 535h7v7h-7zM829 359h7v7h-7zM837 359h7v7h-7zM699 362h7v7h-7zM564 427h7v7h-7zM511 397h7v7h-7zM876 351h7v7h-7zM674 387h7v7h-7zM452 494h7v7h-7zM657 373h7v7h-7zM438 477h7v7h-7zM407 530h7v7h-7zM890 358h7v7h-7zM644 350h7v7h-7zM770 323h7v7h-7zM572 379h7v7h-7zM584 395h7v7h-7zM678 362h7v7h-7zM593 404h7v7h-7zM667 385h7v7h-7zM755 330h7v7h-7zM721 346h7v7h-7zM435 494h7v7h-7zM577 387h7v7h-7zM858 353h7v7h-7zM698 309h7v7h-7zM616 393h7v7h-7zM455 452h7v7h-7zM634 399h7v7h-7zM782 328h7v7h-7zM626 395h7v7h-7zM893 269h7v7h-7zM812 320h7v7h-7zM575 401h7v7h-7zM490 422h7v7h-7zM771 357h7v7h-7zM515 390h7v7h-7zM569 411h7v7h-7zM770 303h7v7h-7zM630 385h7v7h-7zM812 327h7v7h-7zM690 375h7v7h-7zM451 437h7v7h-7zM521 429h7v7h-7zM399 531h7v7h-7zM465 477h7v7h-7zM821 317h7v7h-7zM854 321h7v7h-7zM444 446h7v7h-7zM619 390h7v7h-7zM833 347h7v7h-7zM753 345h7v7h-7zM387 507h7v7h-7zM557 359h7v7h-7zM405 535h7v7h-7zM826 341h7v7h-7zM794 354h7v7h-7zM706 332h7v7h-7zM722 343h7v7h-7zM488 461h7v7h-7zM676 370h7v7h-7zM871 335h7v7h-7zM685 321h7v7h-7zM629 371h7v7h-7zM669 378h7v7h-7zM841 344h7v7h-7zM621 392h7v7h-7zM396 518h7v7h-7zM419 534h7v7h-7zM819 326h7v7h-7zM871 322h7v7h-7zM440 487h7v7h-7zM503 464h7v7h-7zM477 460h7v7h-7zM530 421h7v7h-7zM627 398h7v7h-7zM375 494h7v7h-7zM765 334h7v7h-7zM520 442h7v7h-7zM810 359h7v7h-7zM443 480h7v7h-7zM669 392h7v7h-7zM539 404h7v7h-7zM523 408h7v7h-7zM818 336h7v7h-7zM432 521h7v7h-7zM461 481h7v7h-7zM837 325h7v7h-7zM829 314h7v7h-7zM440 473h7v7h-7zM761 362h7v7h-7zM655 367h7v7h-7zM396 506h7v7h-7zM730 375h7v7h-7zM532 438h7v7h-7zM566 408h7v7h-7zM606 414h7v7h-7zM630 361h7v7h-7zM392 515h7v7h-7zM487 428h7v7h-7zM816 323h7v7h-7zM739 371h7v7h-7zM564 397h7v7h-7zM611 407h7v7h-7zM762 314h7v7h-7zM411 449h7v7h-7zM864 335h7v7h-7zM567 409h7v7h-7zM710 342h7v7h-7zM491 430h7v7h-7zM457 485h7v7h-7zM713 356h7v7h-7zM408 540h7v7h-7zM838 342h7v7h-7zM623 345h7v7h-7zM502 442h7v7h-7zM516 450h7v7h-7zM713 294h7v7h-7zM449 436h7v7h-7zM427 464h7v7h-7zM867 339h7v7h-7zM618 407h7v7h-7zM664 350h7v7h-7zM395 482h7v7h-7zM805 326h7v7h-7zM599 404h7v7h-7zM459 473h7v7h-7zM707 369h7v7h-7zM533 412h7v7h-7zM598 380h7v7h-7zM454 435h7v7h-7zM501 375h7v7h-7zM781 338h7v7h-7zM700 382h7v7h-7zM688 384h7v7h-7zM830 316h7v7h-7zM644 400h7v7h-7zM637 382h7v7h-7zM701 362h7v7h-7zM850 316h7v7h-7zM585 412h7v7h-7zM607 386h7v7h-7zM606 389h7v7h-7zM495 465h7v7h-7zM393 511h7v7h-7zM792 342h7v7h-7zM502 428h7v7h-7zM650 383h7v7h-7zM601 412h7v7h-7zM478 470h7v7h-7zM483 427h7v7h-7zM593 417h7v7h-7zM864 357h7v7h-7zM681 345h7v7h-7zM803 312h7v7h-7zM552 438h7v7h-7zM671 375h7v7h-7zM435 495h7v7h-7zM713 346h7v7h-7zM391 516h7v7h-7zM819 317h7v7h-7zM390 520h7v7h-7zM603 372h7v7h-7zM862 328h7v7h-7zM473 469h7v7h-7zM826 359h7v7h-7zM453 471h7v7h-7zM541 383h7v7h-7zM530 394h7v7h-7zM773 360h7v7h-7zM431 513h7v7h-7zM710 353h7v7h-7zM724 370h7v7h-7zM852 345h7v7h-7zM776 350h7v7h-7zM484 435h7v7h-7zM397 527h7v7h-7zM818 333h7v7h-7zM395 545h7v7h-7zM654 393h7v7h-7zM435 472h7v7h-7zM414 533h7v7h-7zM398 448h7v7h-7zM595 340h7v7h-7zM806 343h7v7h-7zM780 359h7v7h-7zM866 306h7v7h-7zM597 403h7v7h-7zM848 346h7v7h-7zM619 397h7v7h-7zM865 354h7v7h-7zM680 357h7v7h-7zM717 359h7v7h-7zM608 365h7v7h-7zM699 350h7v7h-7zM810 358h7v7h-7zM515 448h7v7h-7zM571 383h7v7h-7zM847 308h7v7h-7zM804 328h7v7h-7zM511 431h7v7h-7zM878 267h7v7h-7zM505 443h7v7h-7zM444 466h7v7h-7zM692 350h7v7h-7zM768 308h7v7h-7zM823 348h7v7h-7zM517 440h7v7h-7zM681 347h7v7h-7zM679 317h7v7h-7zM420 554h7v7h-7zM665 384h7v7h-7zM760 315h7v7h-7zM760 317h7v7h-7zM839 339h7v7h-7zM435 454h7v7h-7zM529 405h7v7h-7zM830 321h7v7h-7zM884 331h7v7h-7zM727 355h7v7h-7zM478 478h7v7h-7zM888 342h7v7h-7zM671 373h7v7h-7zM739 339h7v7h-7zM697 342h7v7h-7zM730 318h7v7h-7zM860 335h7v7h-7zM429 518h7v7h-7zM867 307h7v7h-7zM889 327h7v7h-7zM427 472h7v7h-7zM404 540h7v7h-7zM828 356h7v7h-7zM420 515h7v7h-7zM577 414h7v7h-7zM482 467h7v7h-7zM582 415h7v7h-7zM766 331h7v7h-7zM543 356h7v7h-7zM484 414h7v7h-7zM653 399h7v7h-7zM437 467h7v7h-7zM569 383h7v7h-7zM441 521h7v7h-7zM684 311h7v7h-7zM771 335h7v7h-7zM740 318h7v7h-7zM789 349h7v7h-7zM581 404h7v7h-7zM657 385h7v7h-7zM508 461h7v7h-7zM501 397h7v7h-7zM560 400h7v7h-7zM770 341h7v7h-7zM829 355h7v7h-7zM530 396h7v7h-7zM829 342h7v7h-7zM857 346h7v7h-7zM849 324h7v7h-7zM737 369h7v7h-7zM411 528h7v7h-7zM571 419h7v7h-7zM879 340h7v7h-7zM561 425h7v7h-7zM536 419h7v7h-7zM826 307h7v7h-7zM550 425h7v7h-7zM720 321h7v7h-7zM806 343h7v7h-7zM426 458h7v7h-7zM597 408h7v7h-7zM520 455h7v7h-7zM375 496h7v7h-7zM586 415h7v7h-7zM761 293h7v7h-7zM482 474h7v7h-7zM400 488h7v7h-7zM587 389h7v7h-7zM716 331h7v7h-7zM793 345h7v7h-7zM853 323h7v7h-7zM709 374h7v7h-7zM820 350h7v7h-7zM878 353h7v7h-7zM544 417h7v7h-7zM626 375h7v7h-7zM592 421h7v7h-7zM693 342h7v7h-7zM491 454h7v7h-7zM578 366h7v7h-7zM548 423h7v7h-7zM538 448h7v7h-7zM470 488h7v7h-7zM505 399h7v7h-7zM566 425h7v7h-7zM548 413h7v7h-7zM472 470h7v7h-7zM697 356h7v7h-7zM859 247h7v7h-7zM788 343h7v7h-7zM613 370h7v7h-7zM603 401h7v7h-7zM434 440h7v7h-7zM645 346h7v7h-7zM422 512h7v7h-7zM515 372h7v7h-7zM496 462h7v7h-7zM693 363h7v7h-7zM565 396h7v7h-7zM620 361h7v7h-7zM785 325h7v7h-7zM831 311h7v7h-7zM455 504h7v7h-7zM739 336h7v7h-7zM569 424h7v7h-7zM874 348h7v7h-7zM877 350h7v7h-7zM397 505h7v7h-7zM488 402h7v7h-7zM703 337h7v7h-7zM870 282h7v7h-7zM530 395h7v7h-7zM423 509h7v7h-7zM788 313h7v7h-7zM653 344h7v7h-7zM562 427h7v7h-7zM525 419h7v7h-7zM765 368h7v7h-7zM624 376h7v7h-7zM890 348h7v7h-7zM433 483h7v7h-7zM595 415h7v7h-7zM456 451h7v7h-7zM776 361h7v7h-7zM864 346h7v7h-7zM451 454h7v7h-7zM841 342h7v7h-7zM588 418h7v7h-7zM418 533h7v7h-7zM582 411h7v7h-7zM453 461h7v7h-7zM684 385h7v7h-7zM424 505h7v7h-7zM886 359h7v7h-7zM667 327h7v7h-7zM433 492h7v7h-7zM678 323h7v7h-7zM803 346h7v7h-7zM619 378h7v7h-7zM783 342h7v7h-7zM665 359h7v7h-7zM522 446h7v7h-7zM379 531h7v7h-7zM779 312h7v7h-7zM810 327h7v7h-7zM445 473h7v7h-7zM523 432h7v7h-7zM722 359h7v7h-7zM697 363h7v7h-7zM521 342h7v7h-7zM428 527h7v7h-7zM751 343h7v7h-7zM881 324h7v7h-7zM889 341h7v7h-7zM770 345h7v7h-7zM673 388h7v7h-7zM536 430h7v7h-7zM700 360h7v7h-7zM886 332h7v7h-7zM724 367h7v7h-7zM598 395h7v7h-7zM543 411h7v7h-7zM806 350h7v7h-7zM447 502h7v7h-7zM876 346h7v7h-7zM586 402h7v7h-7zM735 336h7v7h-7zM768 307h7v7h-7zM735 371h7v7h-7zM421 512h7v7h-7zM406 535h7v7h-7zM663 378h7v7h-7zM435 506h7v7h-7zM715 350h7v7h-7zM415 515h7v7h-7zM722 336h7v7h-7zM672 345h7v7h-7zM470 470h7v7h-7zM753 365h7v7h-7zM709 368h7v7h-7zM682 362h7v7h-7zM888 304h7v7h-7zM745 340h7v7h-7zM521 426h7v7h-7zM664 384h7v7h-7zM638 345h7v7h-7zM863 274h7v7h-7zM504 449h7v7h-7zM678 362h7v7h-7zM484 464h7v7h-7zM870 338h7v7h-7zM703 320h7v7h-7zM519 424h7v7h-7zM843 308h7v7h-7zM730 357h7v7h-7zM412 551h7v7h-7zM780 352h7v7h-7zM745 295h7v7h-7zM538 384h7v7h-7zM573 414h7v7h-7zM628 379h7v7h-7zM494 406h7v7h-7zM548 437h7v7h-7zM847 359h7v7h-7zM807 303h7v7h-7zM675 382h7v7h-7zM786 335h7v7h-7zM412 493h7v7h-7zM542 410h7v7h-7zM464 454h7v7h-7zM747 321h7v7h-7zM732 349h7v7h-7zM392 539h7v7h-7zM779 365h7v7h-7zM674 320h7v7h-7zM516 431h7v7h-7zM850 356h7v7h-7zM433 453h7v7h-7zM464 481h7v7h-7zM604 413h7v7h-7zM626 381h7v7h-7zM399 519h7v7h-7zM394 519h7v7h-7zM626 362h7v7h-7zM642 386h7v7h-7zM510 433h7v7h-7zM540 424h7v7h-7zM894 359h7v7h-7zM788 340h7v7h-7zM468 465h7v7h-7zM383 507h7v7h-7zM835 322h7v7h-7zM404 521h7v7h-7zM708 354h7v7h-7zM751 281h7v7h-7zM647 383h7v7h-7zM875 305h7v7h-7zM656 337h7v7h-7zM465 441h7v7h-7zM864 323h7v7h-7zM523 399h7v7h-7zM394 514h7v7h-7zM747 357h7v7h-7zM446 479h7v7h-7zM638 370h7v7h-7zM832 321h7v7h-7zM533 417h7v7h-7zM695 355h7v7h-7zM864 354h7v7h-7zM563 433h7v7h-7zM664 390h7v7h-7zM559 392h7v7h-7zM846 348h7v7h-7zM654 389h7v7h-7zM814 304h7v7h-7zM759 348h7v7h-7zM546 360h7v7h-7zM600 384h7v7h-7zM478 480h7v7h-7zM813 320h7v7h-7zM753 296h7v7h-7zM821 322h7v7h-7zM428 526h7v7h-7zM441 510h7v7h-7zM784 347h7v7h-7zM450 456h7v7h-7zM573 374h7v7h-7zM697 331h7v7h-7zM790 342h7v7h-7zM430 506h7v7h-7zM896 343h7v7h-7zM864 348h7v7h-7zM639 362h7v7h-7zM427 543h7v7h-7zM793 364h7v7h-7zM838 308h7v7h-7zM678 347h7v7h-7zM426 516h7v7h-7zM684 381h7v7h-7zM588 402h7v7h-7zM816 358h7v7h-7zM545 391h7v7h-7zM801 322h7v7h-7zM508 432h7v7h-7zM659 373h7v7h-7zM580 400h7v7h-7zM470 438h7v7h-7zM651 361h7v7h-7zM435 507h7v7h-7zM820 357h7v7h-7zM715 372h7v7h-7zM632 392h7v7h-7zM568 394h7v7h-7zM626 390h7v7h-7zM809 350h7v7h-7zM742 364h7v7h-7zM599 372h7v7h-7zM629 340h7v7h-7zM458 499h7v7h-7zM886 348h7v7h-7zM593 407h7v7h-7zM475 435h7v7h-7zM620 389h7v7h-7zM575 417h7v7h-7zM659 386h7v7h-7zM859 340h7v7h-7zM400 546h7v7h-7zM517 450h7v7h-7zM513 451h7v7h-7zM414 501h7v7h-7zM505 444h7v7h-7zM518 439h7v7h-7zM810 353h7v7h-7zM641 390h7v7h-7zM593 365h7v7h-7zM869 355h7v7h-7zM413 528h7v7h-7zM558 404h7v7h-7zM415 530h7v7h-7zM435 490h7v7h-7zM881 335h7v7h-7zM728 327h7v7h-7zM536 412h7v7h-7zM831 348h7v7h-7zM778 304h7v7h-7zM534 438h7v7h-7zM730 354h7v7h-7zM721 376h7v7h-7zM797 332h7v7h-7zM472 469h7v7h-7zM436 517h7v7h-7zM705 366h7v7h-7zM792 323h7v7h-7zM404 504h7v7h-7zM501 431h7v7h-7zM862 316h7v7h-7zM433 498h7v7h-7zM553 393h7v7h-7zM817 292h7v7h-7zM406 531h7v7h-7zM726 364h7v7h-7zM708 348h7v7h-7zM617 402h7v7h-7zM469 448h7v7h-7zM645 387h7v7h-7zM700 374h7v7h-7zM690 380h7v7h-7zM816 336h7v7h-7zM575 358h7v7h-7zM518 449h7v7h-7zM487 430h7v7h-7zM762 340h7v7h-7zM594 381h7v7h-7zM391 533h7v7h-7zM817 328h7v7h-7zM484 467h7v7h-7zM743 372h7v7h-7zM735 345h7v7h-7zM625 376h7v7h-7zM793 360h7v7h-7zM823 359h7v7h-7zM442 445h7v7h-7zM540 446h7v7h-7zM688 299h7v7h-7zM611 368h7v7h-7zM435 499h7v7h-7zM663 393h7v7h-7zM384 506h7v7h-7zM762 335h7v7h-7zM626 382h7v7h-7zM432 514h7v7h-7zM885 332h7v7h-7zM858 354h7v7h-7zM670 384h7v7h-7zM494 434h7v7h-7zM728 331h7v7h-7zM694 315h7v7h-7zM608 364h7v7h-7zM879 320h7v7h-7zM685 380h7v7h-7zM885 348h7v7h-7zM751 332h7v7h-7zM664 365h7v7h-7zM390 542h7v7h-7zM710 317h7v7h-7zM470 445h7v7h-7zM774 346h7v7h-7zM510 405h7v7h-7zM451 428h7v7h-7zM695 351h7v7h-7zM528 415h7v7h-7zM775 351h7v7h-7zM716 367h7v7h-7zM417 504h7v7h-7zM742 363h7v7h-7zM485 441h7v7h-7zM856 357h7v7h-7zM791 327h7v7h-7zM777 365h7v7h-7zM864 353h7v7h-7zM418 444h7v7h-7zM460 494h7v7h-7zM680 328h7v7h-7zM811 326h7v7h-7zM877 316h7v7h-7zM811 355h7v7h-7zM730 349h7v7h-7zM892 343h7v7h-7zM881 356h7v7h-7zM872 296h7v7h-7zM649 364h7v7h-7zM894 316h7v7h-7zM414 502h7v7h-7zM617 389h7v7h-7zM839 322h7v7h-7zM578 414h7v7h-7zM647 329h7v7h-7zM420 526h7v7h-7zM605 398h7v7h-7zM635 321h7v7h-7zM413 553h7v7h-7zM863 346h7v7h-7zM739 370h7v7h-7zM536 440h7v7h-7zM842 321h7v7h-7zM702 272h7v7h-7zM712 313h7v7h-7zM534 418h7v7h-7zM752 371h7v7h-7zM557 330h7v7h-7zM782 363h7v7h-7zM743 348h7v7h-7zM869 292h7v7h-7zM428 436h7v7h-7zM884 340h7v7h-7zM888 309h7v7h-7zM559 427h7v7h-7zM405 459h7v7h-7zM814 317h7v7h-7zM829 308h7v7h-7zM795 321h7v7h-7zM573 350h7v7h-7zM487 436h7v7h-7zM604 412h7v7h-7zM594 418h7v7h-7zM492 475h7v7h-7zM813 358h7v7h-7zM588 375h7v7h-7zM507 419h7v7h-7zM389 432h7v7h-7zM401 354h7v7h-7zM496 467h7v7h-7zM451 442h7v7h-7zM590 411h7v7h-7zM573 337h7v7h-7zM386 475h7v7h-7zM398 454h7v7h-7zM480 480h7v7h-7zM503 370h7v7h-7zM421 441h7v7h-7zM564 370h7v7h-7zM514 340h7v7h-7zM399 377h7v7h-7zM399 385h7v7h-7zM448 390h7v7h-7zM488 458h7v7h-7zM453 366h7v7h-7zM397 330h7v7h-7zM427 412h7v7h-7zM506 370h7v7h-7zM397 325h7v7h-7zM392 495h7v7h-7zM527 352h7v7h-7zM392 468h7v7h-7zM444 381h7v7h-7zM409 509h7v7h-7zM566 326h7v7h-7zM464 358h7v7h-7zM415 547h7v7h-7zM524 433h7v7h-7zM545 398h7v7h-7zM556 323h7v7h-7zM498 401h7v7h-7zM499 405h7v7h-7zM559 320h7v7h-7zM549 377h7v7h-7zM455 339h7v7h-7zM415 328h7v7h-7zM567 422h7v7h-7zM454 335h7v7h-7zM406 429h7v7h-7zM426 332h7v7h-7zM525 378h7v7h-7zM427 501h7v7h-7zM474 348h7v7h-7zM515 359h7v7h-7zM588 388h7v7h-7zM466 402h7v7h-7zM591 342h7v7h-7zM542 354h7v7h-7zM395 336h7v7h-7zM466 338h7v7h-7zM540 448h7v7h-7zM396 337h7v7h-7zM522 442h7v7h-7zM436 414h7v7h-7zM533 361h7v7h-7zM569 430h7v7h-7zM450 369h7v7h-7zM403 370h7v7h-7zM457 400h7v7h-7zM395 341h7v7h-7zM448 383h7v7h-7zM390 435h7v7h-7zM564 333h7v7h-7zM435 341h7v7h-7zM508 334h7v7h-7zM445 384h7v7h-7zM458 450h7v7h-7zM418 408h7v7h-7zM542 408h7v7h-7zM416 479h7v7h-7zM416 502h7v7h-7zM585 327h7v7h-7zM432 534h7v7h-7zM437 321h7v7h-7zM401 410h7v7h-7zM461 387h7v7h-7zM483 436h7v7h-7zM404 453h7v7h-7zM488 417h7v7h-7zM580 422h7v7h-7zM393 365h7v7h-7zM438 426h7v7h-7zM432 401h7v7h-7zM392 442h7v7h-7zM486 371h7v7h-7zM584 410h7v7h-7zM393 423h7v7h-7zM392 445h7v7h-7zM492 395h7v7h-7zM402 434h7v7h-7zM552 351h7v7h-7zM401 387h7v7h-7zM553 336h7v7h-7zM534 433h7v7h-7zM436 442h7v7h-7zM531 327h7v7h-7zM526 353h7v7h-7zM460 412h7v7h-7zM575 397h7v7h-7zM389 525h7v7h-7zM533 323h7v7h-7zM564 393h7v7h-7zM449 367h7v7h-7zM988 460h7v7h-7zM1024 502h7v7h-7zM934 357h7v7h-7zM1053 592h7v7h-7zM1023 521h7v7h-7zM995 659h7v7h-7zM965 441h7v7h-7zM1024 511h7v7h-7zM918 382h7v7h-7zM962 405h7v7h-7zM984 416h7v7h-7zM986 355h7v7h-7zM1013 443h7v7h-7zM1029 508h7v7h-7zM1117 473h7v7h-7zM970 402h7v7h-7zM1073 524h7v7h-7zM1087 391h7v7h-7zM1052 475h7v7h-7zM1011 260h7v7h-7zM990 435h7v7h-7zM958 416h7v7h-7zM996 473h7v7h-7zM987 529h7v7h-7zM1058 276h7v7h-7zM1025 423h7v7h-7zM996 341h7v7h-7zM1094 454h7v7h-7zM1004 514h7v7h-7zM1035 394h7v7h-7zM1120 359h7v7h-7zM1177 343h7v7h-7zM1178 491h7v7h-7zM1083 513h7v7h-7zM838 711h7v7h-7zM1057 487h7v7h-7zM1034 364h7v7h-7zM956 397h7v7h-7zM987 342h7v7h-7zM876 374h7v7h-7zM997 553h7v7h-7zM960 389h7v7h-7zM1014 352h7v7h-7zM991 476h7v7h-7zM966 437h7v7h-7zM1039 371h7v7h-7zM1117 429h7v7h-7zM980 428h7v7h-7zM982 503h7v7h-7zM1086 564h7v7h-7zM968 405h7v7h-7zM1004 452h7v7h-7zM1022 467h7v7h-7zM926 318h7v7h-7zM980 516h7v7h-7zM996 459h7v7h-7zM1010 438h7v7h-7zM1005 395h7v7h-7zM983 333h7v7h-7zM996 381h7v7h-7zM969 473h7v7h-7zM965 489h7v7h-7zM1080 530h7v7h-7zM988 353h7v7h-7zM990 374h7v7h-7zM959 468h7v7h-7zM1015 421h7v7h-7zM998 376h7v7h-7zM946 377h7v7h-7zM1029 457h7v7h-7zM1068 436h7v7h-7zM1031 556h7v7h-7zM1118 612h7v7h-7zM1139 391h7v7h-7zM994 471h7v7h-7zM906 371h7v7h-7zM892 355h7v7h-7zM1046 528h7v7h-7zM975 477h7v7h-7zM898 333h7v7h-7zM965 490h7v7h-7zM979 368h7v7h-7zM1039 403h7v7h-7zM918 387h7v7h-7zM962 340h7v7h-7zM965 484h7v7h-7zM965 428h7v7h-7zM1002 428h7v7h-7zM1053 284h7v7h-7zM956 446h7v7h-7zM898 370h7v7h-7zM963 442h7v7h-7zM1054 366h7v7h-7zM994 527h7v7h-7zM984 340h7v7h-7zM1156 491h7v7h-7zM1076 374h7v7h-7zM1061 555h7v7h-7zM954 388h7v7h-7zM1045 561h7v7h-7zM924 304h7v7h-7zM1068 439h7v7h-7zM990 342h7v7h-7zM1075 404h7v7h-7zM1015 347h7v7h-7zM949 445h7v7h-7zM1028 438h7v7h-7zM975 480h7v7h-7zM1256 415h7v7h-7zM996 517h7v7h-7zM1080 289h7v7h-7zM980 451h7v7h-7zM957 365h7v7h-7zM1075 345h7v7h-7zM948 448h7v7h-7zM999 418h7v7h-7zM1023 493h7v7h-7zM1009 567h7v7h-7zM951 444h7v7h-7zM1001 419h7v7h-7zM1055 277h7v7h-7zM1022 371h7v7h-7zM1071 348h7v7h-7zM1045 251h7v7h-7zM1047 401h7v7h-7zM1009 338h7v7h-7zM1121 512h7v7h-7zM982 445h7v7h-7zM1020 355h7v7h-7zM1032 370h7v7h-7zM1011 336h7v7h-7zM989 435h7v7h-7zM959 467h7v7h-7zM1021 425h7v7h-7zM1020 534h7v7h-7zM1062 375h7v7h-7zM1024 354h7v7h-7zM952 459h7v7h-7zM1222 572h7v7h-7zM1011 503h7v7h-7zM1105 491h7v7h-7zM954 420h7v7h-7zM1064 419h7v7h-7zM1057 411h7v7h-7zM967 449h7v7h-7zM1025 362h7v7h-7zM1001 420h7v7h-7zM1088 427h7v7h-7zM991 425h7v7h-7zM1067 454h7v7h-7zM1074 332h7v7h-7zM911 362h7v7h-7zM1011 528h7v7h-7zM1012 488h7v7h-7zM1036 503h7v7h-7zM1014 451h7v7h-7zM989 506h7v7h-7zM955 327h7v7h-7zM1002 421h7v7h-7zM966 367h7v7h-7zM1023 582h7v7h-7zM987 501h7v7h-7zM1082 265h7v7h-7zM953 429h7v7h-7zM1039 577h7v7h-7zM965 462h7v7h-7zM1050 315h7v7h-7zM1036 375h7v7h-7zM1008 493h7v7h-7zM856 246h7v7h-7zM1032 591h7v7h-7zM1014 331h7v7h-7zM977 549h7v7h-7zM1007 461h7v7h-7zM944 399h7v7h-7zM890 347h7v7h-7zM999 364h7v7h-7zM1114 440h7v7h-7zM912 368h7v7h-7zM1067 391h7v7h-7zM1058 520h7v7h-7zM968 453h7v7h-7zM1032 573h7v7h-7zM1047 512h7v7h-7zM1116 531h7v7h-7zM1075 404h7v7h-7zM979 377h7v7h-7zM978 549h7v7h-7zM1073 433h7v7h-7zM971 393h7v7h-7zM1003 432h7v7h-7zM994 557h7v7h-7zM1116 419h7v7h-7zM1118 462h7v7h-7zM959 455h7v7h-7zM1010 404h7v7h-7zM1034 558h7v7h-7zM1027 490h7v7h-7zM1007 527h7v7h-7zM1160 531h7v7h-7zM996 429h7v7h-7zM1052 506h7v7h-7zM1100 389h7v7h-7zM1091 533h7v7h-7zM1066 446h7v7h-7zM938 391h7v7h-7zM997 486h7v7h-7zM967 491h7v7h-7zM986 472h7v7h-7zM1033 511h7v7h-7zM1019 473h7v7h-7zM992 488h7v7h-7zM1000 394h7v7h-7zM852 356h7v7h-7zM1092 555h7v7h-7zM973 354h7v7h-7zM966 365h7v7h-7zM977 448h7v7h-7zM955 471h7v7h-7zM1114 446h7v7h-7zM941 428h7v7h-7zM1065 367h7v7h-7zM1098 355h7v7h-7zM1017 512h7v7h-7zM1015 436h7v7h-7zM1003 416h7v7h-7zM1024 437h7v7h-7zM1076 422h7v7h-7zM1057 450h7v7h-7zM1052 468h7v7h-7zM966 454h7v7h-7zM1053 333h7v7h-7zM1056 468h7v7h-7zM959 479h7v7h-7zM989 396h7v7h-7zM1032 460h7v7h-7zM967 409h7v7h-7zM978 566h7v7h-7zM856 317h7v7h-7zM1126 443h7v7h-7zM979 396h7v7h-7zM907 301h7v7h-7zM996 403h7v7h-7zM1003 452h7v7h-7zM972 303h7v7h-7zM1019 543h7v7h-7zM987 431h7v7h-7zM968 604h7v7h-7zM978 503h7v7h-7zM1009 414h7v7h-7zM994 407h7v7h-7zM975 485h7v7h-7zM1170 606h7v7h-7zM948 701h7v7h-7zM1050 459h7v7h-7zM1009 523h7v7h-7zM1050 458h7v7h-7zM988 546h7v7h-7zM1033 482h7v7h-7zM1078 309h7v7h-7zM1029 386h7v7h-7zM1053 388h7v7h-7zM1059 479h7v7h-7zM1037 423h7v7h-7zM1057 409h7v7h-7zM972 526h7v7h-7zM961 395h7v7h-7zM956 285h7v7h-7zM1012 422h7v7h-7zM1076 390h7v7h-7zM1005 491h7v7h-7zM1009 505h7v7h-7zM908 365h7v7h-7zM985 483h7v7h-7zM956 408h7v7h-7zM1031 477h7v7h-7zM1020 471h7v7h-7zM1001 657h7v7h-7zM1033 468h7v7h-7zM1048 357h7v7h-7zM921 385h7v7h-7zM1037 526h7v7h-7zM1140 383h7v7h-7zM992 504h7v7h-7zM1065 495h7v7h-7zM907 290h7v7h-7zM988 452h7v7h-7zM1029 379h7v7h-7zM989 455h7v7h-7zM1056 454h7v7h-7zM1123 531h7v7h-7zM1003 485h7v7h-7zM1102 498h7v7h-7zM1030 484h7v7h-7zM937 347h7v7h-7zM984 496h7v7h-7zM976 453h7v7h-7zM1018 397h7v7h-7zM954 320h7v7h-7zM1207 333h7v7h-7zM1214 438h7v7h-7zM977 478h7v7h-7zM1011 421h7v7h-7zM995 583h7v7h-7zM953 395h7v7h-7zM1103 471h7v7h-7zM1109 468h7v7h-7zM1028 510h7v7h-7zM1000 433h7v7h-7zM1098 403h7v7h-7zM925 333h7v7h-7zM970 398h7v7h-7zM995 456h7v7h-7zM1018 515h7v7h-7zM990 504h7v7h-7zM987 538h7v7h-7zM997 536h7v7h-7zM906 374h7v7h-7zM1048 477h7v7h-7zM1055 446h7v7h-7zM980 431h7v7h-7zM997 463h7v7h-7zM1006 502h7v7h-7zM1144 497h7v7h-7zM1078 459h7v7h-7zM995 424h7v7h-7zM1057 461h7v7h-7zM956 450h7v7h-7zM1115 611h7v7h-7zM908 348h7v7h-7zM970 430h7v7h-7zM974 403h7v7h-7zM1053 614h7v7h-7zM976 504h7v7h-7zM991 382h7v7h-7zM981 414h7v7h-7zM1056 499h7v7h-7zM1051 366h7v7h-7zM977 495h7v7h-7zM974 426h7v7h-7zM989 496h7v7h-7zM987 430h7v7h-7zM1018 335h7v7h-7zM966 316h7v7h-7zM1037 554h7v7h-7zM1035 487h7v7h-7zM984 466h7v7h-7zM1038 451h7v7h-7zM1071 495h7v7h-7zM1021 370h7v7h-7zM975 440h7v7h-7zM984 522h7v7h-7zM1027 345h7v7h-7zM864 551h7v7h-7zM986 527h7v7h-7zM1072 431h7v7h-7zM1068 323h7v7h-7zM913 356h7v7h-7zM993 484h7v7h-7zM1065 579h7v7h-7zM1013 454h7v7h-7zM1029 420h7v7h-7zM1005 483h7v7h-7zM1020 451h7v7h-7zM1056 454h7v7h-7zM1079 529h7v7h-7zM980 547h7v7h-7zM1206 364h7v7h-7zM1047 424h7v7h-7zM1056 551h7v7h-7zM956 427h7v7h-7zM1100 437h7v7h-7zM1023 538h7v7h-7zM1090 485h7v7h-7zM992 404h7v7h-7zM993 424h7v7h-7zM983 427h7v7h-7zM980 449h7v7h-7zM997 518h7v7h-7zM1005 556h7v7h-7zM927 390h7v7h-7zM1090 424h7v7h-7zM1043 526h7v7h-7zM1119 567h7v7h-7zM1099 394h7v7h-7zM920 295h7v7h-7zM1007 399h7v7h-7zM1032 350h7v7h-7zM1146 463h7v7h-7zM974 465h7v7h-7zM1025 404h7v7h-7zM1063 480h7v7h-7zM1030 479h7v7h-7zM983 584h7v7h-7zM996 388h7v7h-7zM1081 407h7v7h-7zM1070 510h7v7h-7zM1013 473h7v7h-7zM1145 417h7v7h-7zM972 465h7v7h-7zM1022 439h7v7h-7zM979 503h7v7h-7zM944 424h7v7h-7zM1079 348h7v7h-7zM1049 457h7v7h-7zM1012 399h7v7h-7zM1004 491h7v7h-7zM983 370h7v7h-7zM896 360h7v7h-7zM969 553h7v7h-7zM911 358h7v7h-7zM1029 477h7v7h-7zM965 510h7v7h-7zM1103 387h7v7h-7zM1097 358h7v7h-7zM1007 373h7v7h-7zM1161 454h7v7h-7zM1081 470h7v7h-7zM973 430h7v7h-7zM1104 303h7v7h-7zM1083 433h7v7h-7zM982 487h7v7h-7zM990 376h7v7h-7zM986 502h7v7h-7zM1100 428h7v7h-7zM1097 449h7v7h-7zM958 431h7v7h-7zM1076 610h7v7h-7zM961 460h7v7h-7zM1037 457h7v7h-7zM1019 280h7v7h-7zM997 510h7v7h-7zM1054 401h7v7h-7zM1028 487h7v7h-7zM1006 455h7v7h-7zM948 330h7v7h-7zM929 399h7v7h-7zM1039 510h7v7h-7zM1104 315h7v7h-7zM1073 530h7v7h-7zM1021 430h7v7h-7zM1070 385h7v7h-7zM996 550h7v7h-7zM1011 408h7v7h-7zM974 560h7v7h-7zM993 394h7v7h-7zM989 305h7v7h-7zM1055 502h7v7h-7zM943 424h7v7h-7zM1054 372h7v7h-7zM1206 340h7v7h-7zM1050 315h7v7h-7zM1120 343h7v7h-7zM1199 529h7v7h-7zM1008 541h7v7h-7zM991 458h7v7h-7zM1235 432h7v7h-7zM1118 342h7v7h-7zM1012 391h7v7h-7zM995 345h7v7h-7zM1169 299h7v7h-7zM1212 272h7v7h-7zM1182 423h7v7h-7zM969 348h7v7h-7zM1148 356h7v7h-7zM1047 445h7v7h-7zM1136 445h7v7h-7zM1076 565h7v7h-7zM1093 365h7v7h-7zM1106 448h7v7h-7zM1071 573h7v7h-7zM1073 458h7v7h-7zM1095 461h7v7h-7zM1169 305h7v7h-7zM1230 448h7v7h-7zM1164 380h7v7h-7zM1018 483h7v7h-7zM996 414h7v7h-7zM1009 316h7v7h-7zM1045 578h7v7h-7zM1264 245h7v7h-7zM1089 424h7v7h-7zM1143 596h7v7h-7zM1019 417h7v7h-7zM977 257h7v7h-7zM1065 409h7v7h-7zM1072 506h7v7h-7zM1122 434h7v7h-7zM1140 359h7v7h-7zM1073 406h7v7h-7zM1046 495h7v7h-7zM1052 301h7v7h-7zM1085 431h7v7h-7zM1126 395h7v7h-7zM1176 387h7v7h-7zM1131 250h7v7h-7zM1107 424h7v7h-7zM832 251h7v7h-7zM1016 570h7v7h-7zM1242 275h7v7h-7zM952 357h7v7h-7zM1178 434h7v7h-7zM950 451h7v7h-7zM1294 456h7v7h-7zM1021 460h7v7h-7zM974 510h7v7h-7zM930 382h7v7h-7zM1058 611h7v7h-7zM1148 450h7v7h-7zM992 375h7v7h-7zM1021 386h7v7h-7zM1136 438h7v7h-7zM1112 350h7v7h-7zM1129 387h7v7h-7zM946 357h7v7h-7zM1252 439h7v7h-7zM962 499h7v7h-7zM1103 403h7v7h-7zM1140 275h7v7h-7zM1043 391h7v7h-7zM1002 655h7v7h-7zM960 654h7v7h-7zM1065 434h7v7h-7zM1176 429h7v7h-7zM1004 397h7v7h-7zM1036 347h7v7h-7zM1057 398h7v7h-7zM977 455h7v7h-7zM1026 415h7v7h-7zM971 427h7v7h-7zM1008 481h7v7h-7zM1129 318h7v7h-7zM1047 474h7v7h-7zM1203 303h7v7h-7zM946 376h7v7h-7zM1087 493h7v7h-7zM1180 451h7v7h-7zM1231 467h7v7h-7zM1172 375h7v7h-7zM1047 329h7v7h-7zM1020 452h7v7h-7zM1020 358h7v7h-7zM1104 337h7v7h-7zM987 344h7v7h-7zM1195 338h7v7h-7zM1048 355h7v7h-7zM1002 325h7v7h-7zM1177 356h7v7h-7zM1013 345h7v7h-7zM985 486h7v7h-7zM1171 453h7v7h-7zM999 524h7v7h-7zM1128 392h7v7h-7zM1060 373h7v7h-7zM1011 403h7v7h-7zM1183 302h7v7h-7zM999 532h7v7h-7zM1140 483h7v7h-7zM1102 427h7v7h-7zM1194 292h7v7h-7zM1013 414h7v7h-7zM1068 440h7v7h-7zM1153 569h7v7h-7zM1160 353h7v7h-7zM953 462h7v7h-7zM936 331h7v7h-7zM1006 462h7v7h-7zM968 381h7v7h-7zM1190 415h7v7h-7zM1089 427h7v7h-7zM1052 398h7v7h-7zM937 378h7v7h-7zM866 374h7v7h-7zM1012 427h7v7h-7zM972 455h7v7h-7zM1107 423h7v7h-7zM1289 314h7v7h-7zM1023 348h7v7h-7zM1007 447h7v7h-7zM1035 547h7v7h-7zM1215 386h7v7h-7zM1046 410h7v7h-7zM1074 550h7v7h-7zM1167 346h7v7h-7zM1060 500h7v7h-7zM950 428h7v7h-7zM1240 280h7v7h-7zM1106 430h7v7h-7zM1071 267h7v7h-7zM1057 348h7v7h-7zM1125 514h7v7h-7zM1120 461h7v7h-7zM1060 304h7v7h-7zM1299 376h7v7h-7zM1096 366h7v7h-7zM1037 425h7v7h-7zM1073 295h7v7h-7zM1154 408h7v7h-7zM1104 413h7v7h-7zM987 474h7v7h-7zM995 360h7v7h-7zM1312 388h7v7h-7zM1113 390h7v7h-7zM1110 297h7v7h-7zM1142 639h7v7h-7zM1307 353h7v7h-7zM1041 442h7v7h-7zM1004 479h7v7h-7zM1243 313h7v7h-7zM1123 410h7v7h-7zM1003 336h7v7h-7zM1272 358h7v7h-7zM1138 317h7v7h-7zM981 374h7v7h-7zM933 372h7v7h-7zM1216 356h7v7h-7zM1169 319h7v7h-7zM1024 426h7v7h-7zM967 349h7v7h-7zM1177 392h7v7h-7zM1101 560h7v7h-7zM1133 256h7v7h-7zM975 346h7v7h-7zM1198 476h7v7h-7zM993 611h7v7h-7zM1175 389h7v7h-7zM1045 367h7v7h-7zM1033 280h7v7h-7zM1088 330h7v7h-7zM1140 350h7v7h-7zM1064 550h7v7h-7zM1100 269h7v7h-7zM1216 481h7v7h-7zM1103 354h7v7h-7zM1146 362h7v7h-7zM1176 350h7v7h-7zM978 513h7v7h-7zM1091 367h7v7h-7zM1244 464h7v7h-7zM1307 325h7v7h-7zM997 291h7v7h-7zM1058 437h7v7h-7zM1046 404h7v7h-7zM1261 468h7v7h-7zM1138 443h7v7h-7zM1112 371h7v7h-7zM1159 337h7v7h-7zM1141 345h7v7h-7zM1142 372h7v7h-7zM1154 504h7v7h-7zM1027 449h7v7h-7zM1021 331h7v7h-7zM1136 266h7v7h-7zM1147 491h7v7h-7zM1032 453h7v7h-7zM1071 385h7v7h-7zM1136 338h7v7h-7zM1075 411h7v7h-7zM992 561h7v7h-7zM1238 281h7v7h-7zM1131 277h7v7h-7zM1030 430h7v7h-7zM1018 453h7v7h-7zM1153 577h7v7h-7zM1029 443h7v7h-7zM1042 421h7v7h-7zM1237 303h7v7h-7zM1169 430h7v7h-7zM1128 498h7v7h-7zM978 466h7v7h-7zM970 460h7v7h-7zM1194 400h7v7h-7zM1064 448h7v7h-7zM960 477h7v7h-7zM1173 538h7v7h-7zM1108 316h7v7h-7zM1042 385h7v7h-7zM1111 411h7v7h-7zM961 472h7v7h-7zM959 443h7v7h-7zM1101 531h7v7h-7zM989 346h7v7h-7zM1084 407h7v7h-7zM1187 345h7v7h-7zM983 343h7v7h-7zM1071 365h7v7h-7zM1025 450h7v7h-7zM1026 442h7v7h-7zM978 585h7v7h-7zM1022 596h7v7h-7zM1104 273h7v7h-7zM952 361h7v7h-7zM1122 446h7v7h-7zM1058 407h7v7h-7zM1025 262h7v7h-7zM1057 517h7v7h-7zM1168 302h7v7h-7zM1054 270h7v7h-7zM1058 371h7v7h-7zM835 268h7v7h-7zM1050 466h7v7h-7zM1028 326h7v7h-7zM971 472h7v7h-7zM1095 471h7v7h-7zM1229 448h7v7h-7zM997 328h7v7h-7zM1020 370h7v7h-7zM980 356h7v7h-7zM1187 359h7v7h-7zM1076 376h7v7h-7zM964 298h7v7h-7zM1174 394h7v7h-7zM1153 405h7v7h-7zM978 434h7v7h-7zM1179 312h7v7h-7zM1252 410h7v7h-7zM1118 441h7v7h-7zM1137 409h7v7h-7zM1037 452h7v7h-7zM1022 503h7v7h-7zM1114 414h7v7h-7zM971 595h7v7h-7zM1065 505h7v7h-7zM1189 491h7v7h-7zM1083 350h7v7h-7zM1031 255h7v7h-7zM1083 365h7v7h-7zM1042 493h7v7h-7zM1067 469h7v7h-7zM1135 274h7v7h-7zM1073 413h7v7h-7zM1033 326h7v7h-7zM1002 361h7v7h-7zM1095 455h7v7h-7zM977 348h7v7h-7zM968 448h7v7h-7zM1288 420h7v7h-7zM923 378h7v7h-7zM961 344h7v7h-7zM951 444h7v7h-7zM983 334h7v7h-7zM1166 619h7v7h-7zM984 570h7v7h-7zM1046 340h7v7h-7zM1055 362h7v7h-7zM914 332h7v7h-7zM1049 512h7v7h-7zM1185 544h7v7h-7zM1200 352h7v7h-7zM1179 377h7v7h-7zM1147 347h7v7h-7zM1154 449h7v7h-7zM1054 493h7v7h-7zM818 364h7v7h-7zM1013 565h7v7h-7zM1096 259h7v7h-7zM1176 328h7v7h-7zM905 256h7v7h-7zM1068 340h7v7h-7zM1106 546h7v7h-7zM1107 323h7v7h-7zM973 557h7v7h-7zM1021 361h7v7h-7zM1154 440h7v7h-7zM1008 360h7v7h-7zM953 437h7v7h-7zM1313 428h7v7h-7zM965 438h7v7h-7zM1200 384h7v7h-7zM1013 373h7v7h-7zM1138 476h7v7h-7zM1156 339h7v7h-7zM1070 540h7v7h-7zM1088 464h7v7h-7zM1081 459h7v7h-7zM1017 413h7v7h-7zM1020 324h7v7h-7zM1154 308h7v7h-7zM1245 392h7v7h-7zM1097 502h7v7h-7zM1043 416h7v7h-7zM1051 441h7v7h-7zM999 511h7v7h-7zM1242 309h7v7h-7zM1012 417h7v7h-7zM1007 477h7v7h-7zM986 391h7v7h-7zM1200 408h7v7h-7zM1097 334h7v7h-7zM1083 380h7v7h-7zM1124 486h7v7h-7zM1260 315h7v7h-7zM1112 540h7v7h-7zM1044 455h7v7h-7zM1136 488h7v7h-7zM1008 357h7v7h-7zM1129 403h7v7h-7zM982 413h7v7h-7zM926 335h7v7h-7zM987 447h7v7h-7zM1117 336h7v7h-7zM1115 442h7v7h-7zM991 528h7v7h-7zM1153 509h7v7h-7zM1244 397h7v7h-7zM1140 392h7v7h-7zM943 428h7v7h-7zM1244 297h7v7h-7zM1074 602h7v7h-7zM982 570h7v7h-7zM995 454h7v7h-7zM976 690h7v7h-7zM987 608h7v7h-7zM980 622h7v7h-7zM1000 510h7v7h-7zM953 703h7v7h-7zM994 562h7v7h-7zM950 735h7v7h-7zM977 685h7v7h-7zM969 694h7v7h-7zM984 657h7v7h-7zM980 442h7v7h-7zM960 695h7v7h-7zM995 561h7v7h-7zM968 410h7v7h-7zM988 421h7v7h-7zM968 415h7v7h-7zM967 686h7v7h-7zM982 566h7v7h-7zM985 429h7v7h-7zM985 462h7v7h-7zM974 396h7v7h-7zM990 551h7v7h-7zM958 693h7v7h-7zM953 455h7v7h-7zM984 526h7v7h-7zM955 431h7v7h-7zM966 625h7v7h-7zM975 395h7v7h-7zM988 580h7v7h-7zM987 705h7v7h-7zM974 643h7v7h-7zM983 649h7v7h-7zM980 588h7v7h-7zM974 433h7v7h-7zM976 476h7v7h-7zM956 382h7v7h-7zM965 399h7v7h-7zM979 498h7v7h-7zM976 466h7v7h-7zM976 566h7v7h-7zM980 474h7v7h-7zM969 487h7v7h-7zM972 496h7v7h-7zM965 421h7v7h-7zM975 423h7v7h-7zM963 393h7v7h-7zM968 398h7v7h-7zM997 635h7v7h-7zM957 707h7v7h-7zM976 707h7v7h-7zM1007 541h7v7h-7zM1000 677h7v7h-7zM986 422h7v7h-7zM1004 664h7v7h-7zM967 511h7v7h-7zM1004 633h7v7h-7zM1013 662h7v7h-7zM976 457h7v7h-7zM968 588h7v7h-7zM1002 663h7v7h-7zM966 426h7v7h-7zM997 630h7v7h-7zM985 561h7v7h-7zM1001 638h7v7h-7zM984 538h7v7h-7zM984 458h7v7h-7zM980 600h7v7h-7zM974 684h7v7h-7zM953 728h7v7h-7zM1009 641h7v7h-7zM983 386h7v7h-7zM989 470h7v7h-7zM981 560h7v7h-7zM964 683h7v7h-7zM983 453h7v7h-7zM967 690h7v7h-7zM969 732h7v7h-7zM1000 476h7v7h-7zM972 540h7v7h-7zM975 641h7v7h-7zM1001 456h7v7h-7zM970 598h7v7h-7zM967 695h7v7h-7zM994 641h7v7h-7zM1006 489h7v7h-7zM985 687h7v7h-7zM982 511h7v7h-7zM982 397h7v7h-7zM958 443h7v7h-7zM968 709h7v7h-7zM979 733h7v7h-7zM1000 677h7v7h-7zM994 739h7v7h-7zM957 674h7v7h-7zM974 429h7v7h-7zM1009 611h7v7h-7zM978 475h7v7h-7zM982 622h7v7h-7zM962 726h7v7h-7zM983 412h7v7h-7zM992 559h7v7h-7zM1012 595h7v7h-7zM976 663h7v7h-7zM981 623h7v7h-7zM976 648h7v7h-7zM974 583h7v7h-7zM954 388h7v7h-7zM988 583h7v7h-7zM979 606h7v7h-7zM982 691h7v7h-7zM1001 575h7v7h-7zM990 489h7v7h-7zM972 736h7v7h-7zM964 660h7v7h-7zM973 648h7v7h-7zM984 722h7v7h-7zM965 635h7v7h-7zM979 496h7v7h-7zM1000 464h7v7h-7zM992 660h7v7h-7zM992 586h7v7h-7zM976 615h7v7h-7zM993 605h7v7h-7zM993 691h7v7h-7zM977 486h7v7h-7zM999 587h7v7h-7zM959 391h7v7h-7zM975 512h7v7h-7zM971 722h7v7h-7zM976 530h7v7h-7zM979 514h7v7h-7zM957 411h7v7h-7zM948 389h7v7h-7zM977 401h7v7h-7zM989 675h7v7h-7zM993 692h7v7h-7zM973 436h7v7h-7zM963 701h7v7h-7zM966 486h7v7h-7zM962 443h7v7h-7zM983 444h7v7h-7zM990 489h7v7h-7zM990 466h7v7h-7zM988 513h7v7h-7zM984 544h7v7h-7zM973 650h7v7h-7zM991 599h7v7h-7zM987 691h7v7h-7zM978 386h7v7h-7zM978 717h7v7h-7zM995 531h7v7h-7zM968 399h7v7h-7zM979 649h7v7h-7zM990 505h7v7h-7zM998 614h7v7h-7zM975 614h7v7h-7zM964 395h7v7h-7zM996 416h7v7h-7zM1004 493h7v7h-7zM993 571h7v7h-7zM970 626h7v7h-7zM999 592h7v7h-7zM988 541h7v7h-7zM980 692h7v7h-7zM976 606h7v7h-7zM982 394h7v7h-7zM968 710h7v7h-7zM994 445h7v7h-7zM966 427h7v7h-7zM964 469h7v7h-7zM984 604h7v7h-7zM979 465h7v7h-7zM975 461h7v7h-7zM948 714h7v7h-7zM990 515h7v7h-7zM970 686h7v7h-7zM977 688h7v7h-7zM951 728h7v7h-7zM1007 671h7v7h-7zM980 463h7v7h-7zM964 712h7v7h-7zM964 392h7v7h-7zM986 604h7v7h-7zM958 426h7v7h-7zM970 499h7v7h-7zM973 614h7v7h-7zM982 578h7v7h-7zM984 552h7v7h-7zM962 678h7v7h-7zM982 389h7v7h-7zM999 557h7v7h-7zM965 411h7v7h-7zM986 524h7v7h-7zM1005 613h7v7h-7zM966 715h7v7h-7zM981 555h7v7h-7zM987 685h7v7h-7zM983 535h7v7h-7zM983 575h7v7h-7zM968 711h7v7h-7zM971 465h7v7h-7zM972 466h7v7h-7zM994 483h7v7h-7zM941 385h7v7h-7zM995 663h7v7h-7zM980 520h7v7h-7zM991 607h7v7h-7zM990 688h7v7h-7zM1014 524h7v7h-7zM1003 496h7v7h-7zM980 609h7v7h-7zM981 640h7v7h-7zM980 715h7v7h-7zM975 512h7v7h-7zM973 600h7v7h-7zM976 589h7v7h-7zM954 709h7v7h-7zM988 720h7v7h-7zM963 698h7v7h-7zM999 673h7v7h-7zM977 431h7v7h-7zM973 685h7v7h-7zM992 492h7v7h-7zM978 459h7v7h-7zM979 457h7v7h-7zM983 527h7v7h-7zM998 572h7v7h-7zM950 407h7v7h-7zM978 610h7v7h-7zM951 406h7v7h-7zM975 517h7v7h-7zM1005 587h7v7h-7zM969 504h7v7h-7zM970 388h7v7h-7zM974 397h7v7h-7zM955 401h7v7h-7zM978 545h7v7h-7zM974 593h7v7h-7zM996 471h7v7h-7zM998 415h7v7h-7zM972 662h7v7h-7zM966 685h7v7h-7zM981 444h7v7h-7zM994 637h7v7h-7zM984 470h7v7h-7zM961 410h7v7h-7zM942 732h7v7h-7zM964 400h7v7h-7zM985 667h7v7h-7zM972 526h7v7h-7zM974 684h7v7h-7zM992 625h7v7h-7zM970 676h7v7h-7zM982 539h7v7h-7zM974 593h7v7h-7zM999 734h7v7h-7zM987 495h7v7h-7zM971 401h7v7h-7zM986 418h7v7h-7zM1004 542h7v7h-7zM971 462h7v7h-7zM996 462h7v7h-7zM986 420h7v7h-7zM1019 536h7v7h-7zM977 666h7v7h-7zM992 549h7v7h-7zM997 541h7v7h-7zM982 572h7v7h-7zM978 582h7v7h-7zM994 557h7v7h-7zM983 666h7v7h-7zM996 687h7v7h-7zM995 528h7v7h-7zM965 731h7v7h-7zM981 691h7v7h-7zM996 558h7v7h-7zM969 414h7v7h-7zM1045 716h7v7h-7zM1024 726h7v7h-7zM1060 564h7v7h-7zM1042 700h7v7h-7zM1042 620h7v7h-7zM1042 679h7v7h-7zM1043 727h7v7h-7zM1120 665h7v7h-7zM970 656h7v7h-7zM1074 836h7v7h-7zM1044 655h7v7h-7zM1021 605h7v7h-7zM1004 691h7v7h-7zM1000 622h7v7h-7zM1050 652h7v7h-7zM1117 607h7v7h-7zM1099 656h7v7h-7zM1029 645h7v7h-7zM1015 650h7v7h-7zM987 508h7v7h-7zM1146 721h7v7h-7zM1113 669h7v7h-7zM1018 603h7v7h-7zM1024 652h7v7h-7zM973 583h7v7h-7zM1071 770h7v7h-7zM1007 590h7v7h-7zM1056 620h7v7h-7zM995 775h7v7h-7zM1105 697h7v7h-7zM1068 703h7v7h-7zM1033 592h7v7h-7zM1074 593h7v7h-7zM1107 753h7v7h-7zM1014 717h7v7h-7zM1064 621h7v7h-7zM991 677h7v7h-7zM993 576h7v7h-7zM997 585h7v7h-7zM975 499h7v7h-7zM992 636h7v7h-7zM1015 653h7v7h-7zM1036 703h7v7h-7zM1100 870h7v7h-7zM943 711h7v7h-7zM978 720h7v7h-7zM1033 712h7v7h-7zM1053 671h7v7h-7zM1053 665h7v7h-7zM1021 677h7v7h-7zM993 702h7v7h-7zM1034 802h7v7h-7zM1003 672h7v7h-7zM1069 720h7v7h-7zM1085 727h7v7h-7zM1033 667h7v7h-7zM1093 770h7v7h-7zM987 671h7v7h-7zM979 718h7v7h-7zM990 707h7v7h-7zM1074 675h7v7h-7zM1074 660h7v7h-7zM1041 633h7v7h-7zM1025 712h7v7h-7zM1081 628h7v7h-7zM1013 583h7v7h-7zM1017 636h7v7h-7zM1101 679h7v7h-7zM1035 694h7v7h-7zM973 631h7v7h-7zM1044 604h7v7h-7zM1049 585h7v7h-7zM1036 639h7v7h-7zM1016 712h7v7h-7zM1055 727h7v7h-7zM995 727h7v7h-7zM982 574h7v7h-7zM1069 707h7v7h-7zM993 655h7v7h-7zM1071 652h7v7h-7zM1025 661h7v7h-7zM1045 736h7v7h-7zM1045 743h7v7h-7zM1042 597h7v7h-7zM1001 621h7v7h-7zM989 770h7v7h-7zM1060 715h7v7h-7zM1068 725h7v7h-7zM1134 667h7v7h-7zM1059 665h7v7h-7zM1036 722h7v7h-7zM1058 713h7v7h-7zM1019 721h7v7h-7zM965 677h7v7h-7zM1072 777h7v7h-7zM1063 744h7v7h-7zM1074 757h7v7h-7zM967 468h7v7h-7zM1028 699h7v7h-7zM976 689h7v7h-7zM1004 606h7v7h-7zM1125 745h7v7h-7zM1094 692h7v7h-7zM1020 631h7v7h-7zM939 738h7v7h-7zM963 711h7v7h-7zM1096 681h7v7h-7zM1059 749h7v7h-7zM1095 624h7v7h-7zM1033 655h7v7h-7zM1009 695h7v7h-7zM1045 719h7v7h-7zM1064 638h7v7h-7zM1098 729h7v7h-7zM986 674h7v7h-7zM978 797h7v7h-7zM995 536h7v7h-7zM1015 641h7v7h-7zM1002 625h7v7h-7zM1041 622h7v7h-7zM1000 655h7v7h-7zM1059 628h7v7h-7zM1076 664h7v7h-7zM1012 711h7v7h-7zM979 602h7v7h-7zM1005 637h7v7h-7zM1000 679h7v7h-7zM1027 610h7v7h-7zM961 685h7v7h-7zM1032 632h7v7h-7zM1126 664h7v7h-7zM1027 715h7v7h-7zM1063 729h7v7h-7zM967 607h7v7h-7zM1084 699h7v7h-7zM1038 627h7v7h-7zM990 562h7v7h-7zM1149 893h7v7h-7zM1001 712h7v7h-7zM971 649h7v7h-7zM986 648h7v7h-7zM983 644h7v7h-7zM988 654h7v7h-7zM1017 583h7v7h-7zM1073 653h7v7h-7zM1121 553h7v7h-7zM1019 682h7v7h-7zM1022 633h7v7h-7zM984 651h7v7h-7zM1110 745h7v7h-7zM953 726h7v7h-7zM1042 650h7v7h-7zM1057 589h7v7h-7zM1037 732h7v7h-7zM991 625h7v7h-7zM1019 666h7v7h-7zM955 698h7v7h-7zM1014 615h7v7h-7zM1043 627h7v7h-7zM1052 700h7v7h-7zM1042 630h7v7h-7zM977 581h7v7h-7zM1126 615h7v7h-7zM1024 667h7v7h-7zM1042 768h7v7h-7zM997 693h7v7h-7zM1034 656h7v7h-7zM997 714h7v7h-7zM1024 707h7v7h-7zM1068 761h7v7h-7zM1037 644h7v7h-7zM1022 822h7v7h-7zM1041 784h7v7h-7zM1041 711h7v7h-7zM998 705h7v7h-7zM1032 695h7v7h-7zM1068 657h7v7h-7zM1028 594h7v7h-7zM1039 675h7v7h-7zM1049 667h7v7h-7zM1018 631h7v7h-7zM1024 714h7v7h-7zM970 560h7v7h-7zM1079 661h7v7h-7zM1083 732h7v7h-7zM1030 635h7v7h-7zM963 639h7v7h-7zM1017 545h7v7h-7zM1057 700h7v7h-7zM1063 704h7v7h-7zM1000 691h7v7h-7zM1063 688h7v7h-7zM977 714h7v7h-7zM1050 563h7v7h-7zM1055 658h7v7h-7zM985 652h7v7h-7zM1018 654h7v7h-7zM1076 753h7v7h-7zM973 505h7v7h-7zM1047 685h7v7h-7zM989 632h7v7h-7zM1039 652h7v7h-7zM1000 692h7v7h-7zM1113 674h7v7h-7zM1033 700h7v7h-7zM967 678h7v7h-7zM1042 673h7v7h-7zM1026 679h7v7h-7zM1017 609h7v7h-7zM1014 600h7v7h-7zM974 686h7v7h-7zM1127 718h7v7h-7zM1069 702h7v7h-7zM1090 713h7v7h-7zM972 659h7v7h-7zM978 609h7v7h-7zM1110 724h7v7h-7zM1013 653h7v7h-7zM1079 775h7v7h-7zM1015 732h7v7h-7zM1038 651h7v7h-7zM1039 686h7v7h-7zM1118 711h7v7h-7zM951 712h7v7h-7zM1022 714h7v7h-7zM1047 706h7v7h-7zM999 601h7v7h-7zM995 727h7v7h-7zM1011 647h7v7h-7zM1051 635h7v7h-7zM991 619h7v7h-7zM1005 711h7v7h-7zM1022 686h7v7h-7zM1064 721h7v7h-7zM1046 628h7v7h-7zM984 594h7v7h-7zM1011 662h7v7h-7zM1012 669h7v7h-7zM1134 742h7v7h-7zM985 682h7v7h-7zM1040 659h7v7h-7zM1082 687h7v7h-7zM996 688h7v7h-7zM1046 718h7v7h-7zM985 691h7v7h-7zM1075 726h7v7h-7zM1067 690h7v7h-7zM1010 655h7v7h-7zM1047 712h7v7h-7zM1010 633h7v7h-7zM1025 622h7v7h-7zM1122 496h7v7h-7zM1129 612h7v7h-7zM1059 663h7v7h-7zM1069 659h7v7h-7zM1005 621h7v7h-7zM978 620h7v7h-7zM1106 781h7v7h-7zM1069 589h7v7h-7zM985 615h7v7h-7zM1022 527h7v7h-7zM1083 623h7v7h-7zM1097 612h7v7h-7zM1025 694h7v7h-7zM1089 745h7v7h-7zM977 618h7v7h-7zM924 769h7v7h-7zM972 763h7v7h-7zM1042 556h7v7h-7zM1016 625h7v7h-7zM982 637h7v7h-7zM1009 697h7v7h-7zM998 723h7v7h-7zM1042 709h7v7h-7zM988 694h7v7h-7zM1024 593h7v7h-7zM1114 733h7v7h-7zM1004 633h7v7h-7zM1043 686h7v7h-7zM1063 672h7v7h-7zM1142 696h7v7h-7zM1037 741h7v7h-7zM1070 705h7v7h-7zM998 610h7v7h-7zM1089 753h7v7h-7zM1048 610h7v7h-7zM1104 790h7v7h-7zM978 572h7v7h-7zM991 682h7v7h-7zM1000 652h7v7h-7zM980 698h7v7h-7zM1022 725h7v7h-7zM1042 689h7v7h-7zM1092 673h7v7h-7zM994 757h7v7h-7zM1068 574h7v7h-7zM1021 669h7v7h-7zM976 702h7v7h-7zM1025 583h7v7h-7zM1014 722h7v7h-7zM965 639h7v7h-7zM1038 673h7v7h-7zM1030 680h7v7h-7zM974 545h7v7h-7zM1025 641h7v7h-7zM1089 692h7v7h-7zM1005 603h7v7h-7zM993 627h7v7h-7zM1053 699h7v7h-7zM995 644h7v7h-7zM983 659h7v7h-7zM1114 654h7v7h-7zM1073 604h7v7h-7zM989 624h7v7h-7zM988 566h7v7h-7zM1053 841h7v7h-7zM1002 708h7v7h-7zM1031 607h7v7h-7zM986 638h7v7h-7zM1034 589h7v7h-7zM1011 578h7v7h-7zM987 652h7v7h-7zM1009 587h7v7h-7zM1028 662h7v7h-7zM989 631h7v7h-7zM994 717h7v7h-7zM993 648h7v7h-7zM1052 626h7v7h-7zM1044 653h7v7h-7zM1000 684h7v7h-7zM1106 665h7v7h-7zM1071 704h7v7h-7zM1018 619h7v7h-7zM1072 697h7v7h-7zM1011 579h7v7h-7zM1090 848h7v7h-7zM1007 673h7v7h-7zM1045 789h7v7h-7zM947 416h7v7h-7zM1036 735h7v7h-7zM1063 704h7v7h-7zM1069 691h7v7h-7zM1101 618h7v7h-7zM981 490h7v7h-7zM996 652h7v7h-7zM978 743h7v7h-7zM1030 646h7v7h-7zM1041 533h7v7h-7zM1036 716h7v7h-7zM966 736h7v7h-7zM1069 803h7v7h-7zM1050 648h7v7h-7zM995 645h7v7h-7zM1066 631h7v7h-7zM990 610h7v7h-7zM1030 741h7v7h-7zM977 713h7v7h-7zM1071 665h7v7h-7zM1003 721h7v7h-7zM979 715h7v7h-7zM1083 613h7v7h-7zM1029 777h7v7h-7zM1049 560h7v7h-7zM1018 558h7v7h-7zM1036 676h7v7h-7zM1026 587h7v7h-7zM1013 541h7v7h-7zM1034 680h7v7h-7zM1005 668h7v7h-7zM1055 641h7v7h-7zM1172 697h7v7h-7zM1118 705h7v7h-7zM1115 737h7v7h-7zM1023 719h7v7h-7zM1074 662h7v7h-7zM1046 723h7v7h-7zM1040 635h7v7h-7zM990 686h7v7h-7zM1014 710h7v7h-7zM1062 733h7v7h-7zM991 590h7v7h-7zM1031 710h7v7h-7zM960 676h7v7h-7zM1030 551h7v7h-7zM1011 643h7v7h-7zM1104 736h7v7h-7zM1067 759h7v7h-7zM1047 680h7v7h-7zM1097 642h7v7h-7zM991 603h7v7h-7zM987 647h7v7h-7zM1053 682h7v7h-7zM1058 726h7v7h-7zM1082 669h7v7h-7zM982 704h7v7h-7zM960 794h7v7h-7zM1016 642h7v7h-7zM997 582h7v7h-7zM960 703h7v7h-7zM1030 650h7v7h-7zM1100 645h7v7h-7zM973 561h7v7h-7zM1035 656h7v7h-7zM989 585h7v7h-7zM1085 768h7v7h-7zM1079 672h7v7h-7zM947 711h7v7h-7zM1042 820h7v7h-7zM1068 724h7v7h-7zM991 666h7v7h-7zM1116 564h7v7h-7zM1047 809h7v7h-7zM1042 681h7v7h-7zM1037 588h7v7h-7zM1005 659h7v7h-7zM972 662h7v7h-7zM999 656h7v7h-7zM961 677h7v7h-7zM1005 659h7v7h-7zM979 699h7v7h-7zM1024 731h7v7h-7zM1043 678h7v7h-7zM1057 729h7v7h-7zM1077 683h7v7h-7zM972 590h7v7h-7zM1057 650h7v7h-7zM994 623h7v7h-7zM1056 664h7v7h-7zM971 600h7v7h-7zM1029 674h7v7h-7zM1001 640h7v7h-7zM960 714h7v7h-7zM1098 635h7v7h-7zM1066 683h7v7h-7zM1017 630h7v7h-7zM992 670h7v7h-7zM1051 756h7v7h-7zM1029 599h7v7h-7zM1004 636h7v7h-7zM971 651h7v7h-7zM972 598h7v7h-7zM1022 568h7v7h-7zM981 614h7v7h-7zM987 658h7v7h-7zM1054 723h7v7h-7zM1038 744h7v7h-7zM1056 665h7v7h-7zM1011 657h7v7h-7zM968 671h7v7h-7zM1072 597h7v7h-7zM1024 620h7v7h-7zM969 730h7v7h-7zM1012 692h7v7h-7zM1039 654h7v7h-7zM949 746h7v7h-7zM1043 685h7v7h-7zM986 729h7v7h-7zM1087 879h7v7h-7zM1076 733h7v7h-7zM1087 685h7v7h-7zM1038 604h7v7h-7zM1056 765h7v7h-7zM969 633h7v7h-7zM1090 731h7v7h-7zM1055 730h7v7h-7zM1154 739h7v7h-7zM1025 590h7v7h-7zM1028 654h7v7h-7zM1001 650h7v7h-7zM1033 620h7v7h-7zM1089 723h7v7h-7zM1052 725h7v7h-7zM1022 652h7v7h-7zM1009 561h7v7h-7zM1033 681h7v7h-7zM1014 638h7v7h-7zM1033 708h7v7h-7zM1008 617h7v7h-7zM996 718h7v7h-7zM1057 718h7v7h-7zM1086 747h7v7h-7zM1000 652h7v7h-7zM1001 655h7v7h-7zM1027 750h7v7h-7zM1039 700h7v7h-7zM1077 744h7v7h-7zM1014 669h7v7h-7zM1063 696h7v7h-7zM1063 650h7v7h-7zM993 690h7v7h-7zM932 773h7v7h-7zM1125 625h7v7h-7zM1017 701h7v7h-7zM1057 567h7v7h-7zM1074 765h7v7h-7zM1017 684h7v7h-7zM1080 680h7v7h-7zM1049 667h7v7h-7zM1085 630h7v7h-7zM990 653h7v7h-7zM1019 654h7v7h-7zM1058 661h7v7h-7zM1022 501h7v7h-7zM1008 542h7v7h-7zM983 502h7v7h-7zM991 663h7v7h-7zM993 652h7v7h-7zM1017 688h7v7h-7zM1011 664h7v7h-7zM1032 620h7v7h-7zM1081 692h7v7h-7zM1036 721h7v7h-7zM1125 646h7v7h-7zM1062 660h7v7h-7zM1050 732h7v7h-7zM1087 663h7v7h-7zM1075 656h7v7h-7zM1044 713h7v7h-7zM1016 682h7v7h-7zM999 624h7v7h-7zM1004 717h7v7h-7zM1009 674h7v7h-7zM1007 720h7v7h-7zM1044 708h7v7h-7zM977 612h7v7h-7zM1061 724h7v7h-7zM963 672h7v7h-7zM1015 666h7v7h-7zM1088 730h7v7h-7zM1002 667h7v7h-7zM1042 595h7v7h-7zM1021 565h7v7h-7zM1074 564h7v7h-7zM1017 642h7v7h-7zM1052 692h7v7h-7zM1042 632h7v7h-7zM1079 596h7v7h-7zM991 665h7v7h-7zM1113 760h7v7h-7zM1075 713h7v7h-7zM1075 736h7v7h-7zM1011 756h7v7h-7zM974 728h7v7h-7zM1071 595h7v7h-7zM1005 646h7v7h-7zM986 620h7v7h-7zM1093 681h7v7h-7zM1100 556h7v7h-7zM1085 615h7v7h-7zM1075 739h7v7h-7zM1079 641h7v7h-7zM1115 660h7v7h-7zM1008 712h7v7h-7zM1012 602h7v7h-7zM1022 632h7v7h-7zM1067 620h7v7h-7zM1062 658h7v7h-7zM1081 759h7v7h-7zM998 593h7v7h-7zM998 779h7v7h-7zM979 591h7v7h-7zM1056 678h7v7h-7zM1017 648h7v7h-7zM1056 610h7v7h-7zM1002 699h7v7h-7zM1050 842h7v7h-7zM1046 603h7v7h-7zM1044 652h7v7h-7zM988 535h7v7h-7zM1071 623h7v7h-7zM972 605h7v7h-7zM1025 743h7v7h-7zM1058 710h7v7h-7zM995 657h7v7h-7zM1002 678h7v7h-7zM1048 581h7v7h-7zM974 614h7v7h-7zM1042 570h7v7h-7zM1003 721h7v7h-7zM829 870h7v7h-7zM816 913h7v7h-7zM980 848h7v7h-7zM976 897h7v7h-7zM951 828h7v7h-7zM977 663h7v7h-7zM886 830h7v7h-7zM969 713h7v7h-7zM862 701h7v7h-7zM949 723h7v7h-7zM1079 660h7v7h-7zM948 760h7v7h-7zM972 767h7v7h-7zM865 801h7v7h-7zM913 789h7v7h-7zM988 1019h7v7h-7zM911 762h7v7h-7zM927 865h7v7h-7zM961 679h7v7h-7zM990 665h7v7h-7zM1044 913h7v7h-7zM889 866h7v7h-7zM903 794h7v7h-7zM981 736h7v7h-7zM1004 806h7v7h-7zM1031 709h7v7h-7zM860 735h7v7h-7zM951 769h7v7h-7zM936 939h7v7h-7zM979 921h7v7h-7zM955 861h7v7h-7zM1080 803h7v7h-7zM997 783h7v7h-7zM1059 892h7v7h-7zM960 690h7v7h-7zM995 490h7v7h-7zM979 831h7v7h-7zM1059 882h7v7h-7zM964 740h7v7h-7zM980 766h7v7h-7zM967 794h7v7h-7zM942 719h7v7h-7zM956 755h7v7h-7zM926 954h7v7h-7zM954 732h7v7h-7zM889 845h7v7h-7zM985 622h7v7h-7zM978 801h7v7h-7zM967 631h7v7h-7zM950 700h7v7h-7zM1000 786h7v7h-7zM898 756h7v7h-7zM920 765h7v7h-7zM978 644h7v7h-7zM977 731h7v7h-7zM808 850h7v7h-7zM1109 799h7v7h-7zM981 877h7v7h-7zM983 944h7v7h-7zM1071 835h7v7h-7zM967 697h7v7h-7zM929 747h7v7h-7zM960 806h7v7h-7zM1008 713h7v7h-7zM1036 709h7v7h-7zM928 751h7v7h-7zM963 742h7v7h-7zM1002 952h7v7h-7zM943 809h7v7h-7zM865 625h7v7h-7zM1002 878h7v7h-7zM1048 962h7v7h-7zM944 929h7v7h-7zM965 629h7v7h-7zM1168 671h7v7h-7zM934 848h7v7h-7zM1004 757h7v7h-7zM1097 893h7v7h-7zM902 939h7v7h-7zM935 910h7v7h-7zM1051 883h7v7h-7zM1019 701h7v7h-7zM1026 705h7v7h-7zM848 693h7v7h-7zM1008 960h7v7h-7zM989 844h7v7h-7zM992 763h7v7h-7zM882 846h7v7h-7zM960 722h7v7h-7zM982 787h7v7h-7zM990 745h7v7h-7zM1033 779h7v7h-7zM935 819h7v7h-7zM961 789h7v7h-7zM871 656h7v7h-7zM986 600h7v7h-7zM935 729h7v7h-7zM1014 796h7v7h-7zM959 881h7v7h-7zM996 742h7v7h-7zM1021 799h7v7h-7zM935 742h7v7h-7zM866 846h7v7h-7zM974 801h7v7h-7zM987 651h7v7h-7zM943 855h7v7h-7zM975 769h7v7h-7zM964 891h7v7h-7zM1005 756h7v7h-7zM982 747h7v7h-7zM1072 610h7v7h-7zM1000 829h7v7h-7zM1107 732h7v7h-7zM1029 840h7v7h-7zM962 742h7v7h-7zM987 905h7v7h-7zM930 829h7v7h-7zM964 764h7v7h-7zM896 814h7v7h-7zM805 851h7v7h-7zM930 808h7v7h-7zM976 850h7v7h-7zM1093 726h7v7h-7zM860 654h7v7h-7zM1016 729h7v7h-7zM1057 688h7v7h-7zM949 758h7v7h-7zM987 728h7v7h-7zM992 692h7v7h-7zM999 751h7v7h-7zM951 702h7v7h-7zM1006 688h7v7h-7zM890 798h7v7h-7zM1024 935h7v7h-7zM861 919h7v7h-7zM965 675h7v7h-7zM946 780h7v7h-7zM973 895h7v7h-7zM941 717h7v7h-7zM1079 699h7v7h-7zM883 877h7v7h-7zM951 892h7v7h-7zM960 849h7v7h-7zM975 646h7v7h-7zM963 718h7v7h-7zM957 671h7v7h-7zM915 751h7v7h-7zM1021 676h7v7h-7zM973 831h7v7h-7zM930 837h7v7h-7zM1080 770h7v7h-7zM857 818h7v7h-7zM1038 855h7v7h-7zM903 850h7v7h-7zM910 776h7v7h-7zM929 797h7v7h-7zM981 600h7v7h-7zM922 872h7v7h-7zM872 986h7v7h-7zM1031 864h7v7h-7zM936 812h7v7h-7zM862 654h7v7h-7zM957 940h7v7h-7zM982 867h7v7h-7zM853 820h7v7h-7zM1018 900h7v7h-7zM1059 743h7v7h-7zM989 780h7v7h-7zM867 780h7v7h-7zM1005 764h7v7h-7zM813 763h7v7h-7zM978 714h7v7h-7zM1088 877h7v7h-7zM960 758h7v7h-7zM976 735h7v7h-7zM975 772h7v7h-7zM954 825h7v7h-7zM1019 735h7v7h-7zM1090 803h7v7h-7zM927 817h7v7h-7zM914 850h7v7h-7zM949 724h7v7h-7zM956 795h7v7h-7zM933 797h7v7h-7zM946 759h7v7h-7zM1004 847h7v7h-7zM924 829h7v7h-7zM943 786h7v7h-7zM877 845h7v7h-7zM977 838h7v7h-7zM992 864h7v7h-7zM1041 849h7v7h-7zM1021 749h7v7h-7zM1068 1000h7v7h-7zM997 872h7v7h-7zM1036 887h7v7h-7zM1059 909h7v7h-7zM923 767h7v7h-7zM997 748h7v7h-7zM950 818h7v7h-7zM1021 759h7v7h-7zM885 746h7v7h-7zM893 814h7v7h-7zM933 815h7v7h-7zM986 602h7v7h-7zM1020 920h7v7h-7zM923 773h7v7h-7zM989 825h7v7h-7zM804 857h7v7h-7zM994 797h7v7h-7zM952 733h7v7h-7zM1004 676h7v7h-7zM926 895h7v7h-7zM990 777h7v7h-7zM967 598h7v7h-7zM889 823h7v7h-7zM900 758h7v7h-7zM958 805h7v7h-7zM1037 980h7v7h-7zM945 898h7v7h-7zM975 691h7v7h-7zM989 968h7v7h-7zM945 791h7v7h-7zM980 826h7v7h-7zM1043 958h7v7h-7zM931 831h7v7h-7zM985 832h7v7h-7zM933 844h7v7h-7zM947 741h7v7h-7zM872 739h7v7h-7zM919 749h7v7h-7zM873 649h7v7h-7zM984 767h7v7h-7zM914 762h7v7h-7zM930 824h7v7h-7zM890 826h7v7h-7zM932 758h7v7h-7zM1031 823h7v7h-7zM988 854h7v7h-7zM916 819h7v7h-7zM840 717h7v7h-7zM1045 785h7v7h-7zM1018 794h7v7h-7zM921 754h7v7h-7zM962 873h7v7h-7zM1038 854h7v7h-7zM1017 736h7v7h-7zM962 779h7v7h-7zM928 969h7v7h-7zM1078 1089h7v7h-7zM1070 850h7v7h-7zM994 826h7v7h-7zM1006 763h7v7h-7zM947 800h7v7h-7zM976 673h7v7h-7zM965 699h7v7h-7zM848 757h7v7h-7zM1022 937h7v7h-7zM959 805h7v7h-7zM947 916h7v7h-7zM984 689h7v7h-7zM875 867h7v7h-7zM1052 992h7v7h-7zM978 850h7v7h-7zM916 908h7v7h-7zM964 785h7v7h-7zM907 766h7v7h-7zM1061 805h7v7h-7zM897 893h7v7h-7zM998 881h7v7h-7zM988 860h7v7h-7zM924 869h7v7h-7zM876 751h7v7h-7zM977 913h7v7h-7zM957 751h7v7h-7zM1070 951h7v7h-7zM1035 623h7v7h-7zM864 657h7v7h-7zM939 872h7v7h-7zM1050 712h7v7h-7zM967 856h7v7h-7zM940 772h7v7h-7zM875 777h7v7h-7zM980 886h7v7h-7zM1021 948h7v7h-7zM1059 766h7v7h-7zM976 667h7v7h-7zM910 751h7v7h-7zM956 789h7v7h-7zM1015 615h7v7h-7zM869 647h7v7h-7zM989 815h7v7h-7zM950 777h7v7h-7zM992 805h7v7h-7zM895 747h7v7h-7zM820 792h7v7h-7zM958 942h7v7h-7zM922 968h7v7h-7zM978 823h7v7h-7zM1048 876h7v7h-7zM878 727h7v7h-7zM985 750h7v7h-7zM1002 574h7v7h-7zM978 602h7v7h-7zM1007 864h7v7h-7zM857 726h7v7h-7zM951 789h7v7h-7zM1045 841h7v7h-7zM991 749h7v7h-7zM934 732h7v7h-7zM889 794h7v7h-7zM886 800h7v7h-7zM928 810h7v7h-7zM923 783h7v7h-7zM971 712h7v7h-7zM1060 789h7v7h-7zM993 677h7v7h-7zM963 827h7v7h-7zM1038 898h7v7h-7zM937 836h7v7h-7zM1015 666h7v7h-7zM934 763h7v7h-7zM1001 815h7v7h-7zM972 645h7v7h-7zM938 856h7v7h-7zM926 751h7v7h-7zM984 697h7v7h-7zM930 820h7v7h-7zM970 802h7v7h-7zM877 825h7v7h-7zM1065 713h7v7h-7zM966 745h7v7h-7zM1101 705h7v7h-7zM904 768h7v7h-7zM1092 792h7v7h-7zM988 567h7v7h-7zM924 824h7v7h-7zM1043 632h7v7h-7zM1070 909h7v7h-7zM960 809h7v7h-7zM960 903h7v7h-7zM993 677h7v7h-7zM1066 744h7v7h-7zM1000 747h7v7h-7zM1042 722h7v7h-7zM850 736h7v7h-7zM854 696h7v7h-7zM1024 767h7v7h-7zM1010 705h7v7h-7zM934 912h7v7h-7zM1099 762h7v7h-7zM955 962h7v7h-7zM1080 678h7v7h-7zM971 738h7v7h-7zM1051 745h7v7h-7zM790 782h7v7h-7zM1021 863h7v7h-7zM987 961h7v7h-7zM1058 900h7v7h-7zM980 748h7v7h-7zM1039 836h7v7h-7zM980 710h7v7h-7zM996 943h7v7h-7zM981 796h7v7h-7zM976 921h7v7h-7zM935 731h7v7h-7zM1034 712h7v7h-7zM880 848h7v7h-7zM1050 907h7v7h-7zM1006 764h7v7h-7zM916 847h7v7h-7zM1019 652h7v7h-7zM881 874h7v7h-7zM1071 804h7v7h-7zM1165 721h7v7h-7zM965 717h7v7h-7zM986 754h7v7h-7zM1001 646h7v7h-7zM1121 744h7v7h-7zM995 833h7v7h-7zM964 742h7v7h-7zM923 752h7v7h-7zM981 782h7v7h-7zM952 879h7v7h-7zM988 748h7v7h-7zM977 909h7v7h-7zM958 802h7v7h-7zM856 708h7v7h-7zM933 917h7v7h-7zM1039 964h7v7h-7zM874 730h7v7h-7zM1008 809h7v7h-7zM958 711h7v7h-7zM933 826h7v7h-7zM1074 956h7v7h-7zM830 788h7v7h-7zM989 688h7v7h-7zM1003 936h7v7h-7zM913 797h7v7h-7zM982 695h7v7h-7zM924 796h7v7h-7zM971 568h7v7h-7zM1086 832h7v7h-7zM1023 724h7v7h-7zM908 856h7v7h-7zM1107 886h7v7h-7zM949 785h7v7h-7zM1031 973h7v7h-7zM942 876h7v7h-7zM907 927h7v7h-7zM1063 912h7v7h-7zM1056 853h7v7h-7zM1000 689h7v7h-7zM997 729h7v7h-7zM977 887h7v7h-7zM1043 617h7v7h-7zM1016 801h7v7h-7zM1048 1005h7v7h-7zM960 775h7v7h-7zM863 841h7v7h-7zM1017 836h7v7h-7zM1022 883h7v7h-7zM1078 772h7v7h-7zM861 661h7v7h-7zM890 866h7v7h-7zM926 763h7v7h-7zM1051 986h7v7h-7zM982 701h7v7h-7zM877 799h7v7h-7zM971 794h7v7h-7zM946 781h7v7h-7zM865 792h7v7h-7zM999 872h7v7h-7zM988 931h7v7h-7zM858 850h7v7h-7zM863 856h7v7h-7zM1102 635h7v7h-7zM1030 726h7v7h-7zM972 610h7v7h-7zM897 807h7v7h-7zM843 820h7v7h-7zM912 798h7v7h-7zM963 709h7v7h-7zM951 851h7v7h-7zM1028 784h7v7h-7zM972 848h7v7h-7zM895 747h7v7h-7zM957 680h7v7h-7zM982 879h7v7h-7zM951 774h7v7h-7zM1010 824h7v7h-7zM926 826h7v7h-7zM1066 922h7v7h-7zM967 690h7v7h-7zM1052 1002h7v7h-7zM1037 711h7v7h-7zM901 840h7v7h-7zM1052 948h7v7h-7zM1076 780h7v7h-7zM898 788h7v7h-7zM1021 654h7v7h-7zM1031 704h7v7h-7zM999 889h7v7h-7zM1047 841h7v7h-7zM1027 951h7v7h-7zM1038 872h7v7h-7zM951 848h7v7h-7zM945 976h7v7h-7zM980 815h7v7h-7zM850 817h7v7h-7zM992 770h7v7h-7zM1062 811h7v7h-7zM991 673h7v7h-7zM966 638h7v7h-7zM936 791h7v7h-7zM987 844h7v7h-7zM828 738h7v7h-7zM1022 845h7v7h-7zM972 854h7v7h-7zM896 748h7v7h-7zM977 510h7v7h-7zM953 894h7v7h-7zM961 771h7v7h-7zM1018 755h7v7h-7zM1046 899h7v7h-7zM928 823h7v7h-7zM968 793h7v7h-7zM1051 881h7v7h-7zM960 830h7v7h-7zM989 765h7v7h-7zM1038 686h7v7h-7zM918 760h7v7h-7zM947 913h7v7h-7zM970 822h7v7h-7zM971 749h7v7h-7zM994 681h7v7h-7zM984 781h7v7h-7zM950 831h7v7h-7zM1007 543h7v7h-7zM992 944h7v7h-7zM984 927h7v7h-7zM972 683h7v7h-7zM1126 961h7v7h-7zM879 763h7v7h-7zM934 848h7v7h-7zM847 778h7v7h-7zM1018 831h7v7h-7zM890 796h7v7h-7zM899 808h7v7h-7zM873 799h7v7h-7zM934 805h7v7h-7zM843 791h7v7h-7zM967 756h7v7h-7zM912 794h7v7h-7zM1075 798h7v7h-7zM878 730h7v7h-7zM928 872h7v7h-7zM939 765h7v7h-7zM971 803h7v7h-7zM1010 699h7v7h-7zM894 779h7v7h-7zM1003 627h7v7h-7zM1017 789h7v7h-7zM963 757h7v7h-7zM1053 796h7v7h-7zM999 721h7v7h-7zM976 793h7v7h-7zM985 656h7v7h-7zM1008 817h7v7h-7zM952 713h7v7h-7zM950 826h7v7h-7zM964 843h7v7h-7zM1044 902h7v7h-7zM1021 896h7v7h-7zM976 911h7v7h-7zM946 783h7v7h-7zM904 867h7v7h-7zM906 795h7v7h-7zM963 901h7v7h-7zM999 695h7v7h-7zM989 874h7v7h-7zM858 704h7v7h-7zM896 787h7v7h-7zM1057 787h7v7h-7zM919 744h7v7h-7zM926 796h7v7h-7zM1049 888h7v7h-7zM962 832h7v7h-7zM929 784h7v7h-7zM1027 862h7v7h-7zM944 732h7v7h-7zM914 775h7v7h-7zM1029 904h7v7h-7zM1006 803h7v7h-7zM1015 790h7v7h-7zM937 845h7v7h-7zM970 853h7v7h-7zM1000 859h7v7h-7zM1018 764h7v7h-7zM986 771h7v7h-7zM890 777h7v7h-7zM1040 718h7v7h-7zM854 748h7v7h-7zM861 738h7v7h-7zM1022 826h7v7h-7zM959 867h7v7h-7zM1053 790h7v7h-7zM914 775h7v7h-7zM999 644h7v7h-7zM915 1084h7v7h-7zM919 759h7v7h-7zM1018 818h7v7h-7zM1021 736h7v7h-7zM974 792h7v7h-7zM1002 816h7v7h-7zM966 630h7v7h-7zM975 743h7v7h-7zM940 760h7v7h-7zM982 861h7v7h-7zM844 767h7v7h-7zM847 768h7v7h-7zM924 774h7v7h-7zM977 716h7v7h-7zM967 744h7v7h-7zM934 889h7v7h-7zM938 753h7v7h-7zM875 967h7v7h-7zM1002 679h7v7h-7zM968 803h7v7h-7zM970 950h7v7h-7zM963 714h7v7h-7zM1041 904h7v7h-7zM944 930h7v7h-7zM918 772h7v7h-7zM1026 883h7v7h-7zM993 802h7v7h-7zM1015 878h7v7h-7zM985 830h7v7h-7zM935 768h7v7h-7zM848 880h7v7h-7zM995 740h7v7h-7zM943 712h7v7h-7zM866 948h7v7h-7zM1055 842h7v7h-7zM1049 770h7v7h-7zM930 870h7v7h-7zM868 716h7v7h-7zM1004 934h7v7h-7zM1001 745h7v7h-7zM838 806h7v7h-7zM971 866h7v7h-7zM1019 730h7v7h-7zM854 933h7v7h-7zM914 883h7v7h-7zM920 808h7v7h-7zM872 787h7v7h-7zM981 654h7v7h-7zM958 976h7v7h-7zM1010 732h7v7h-7zM876 920h7v7h-7zM1022 778h7v7h-7zM1124 739h7v7h-7zM994 871h7v7h-7zM854 707h7v7h-7zM1060 984h7v7h-7zM983 763h7v7h-7zM939 751h7v7h-7zM954 706h7v7h-7zM921 819h7v7h-7zM981 720h7v7h-7zM928 851h7v7h-7zM807 768h7v7h-7zM958 780h7v7h-7zM860 693h7v7h-7zM894 774h7v7h-7zM939 813h7v7h-7zM890 797h7v7h-7zM927 803h7v7h-7zM1011 792h7v7h-7zM908 841h7v7h-7zM996 750h7v7h-7zM813 780h7v7h-7zM996 645h7v7h-7zM859 705h7v7h-7zM958 688h7v7h-7zM941 876h7v7h-7zM955 738h7v7h-7zM958 896h7v7h-7zM913 919h7v7h-7zM983 878h7v7h-7zM923 782h7v7h-7zM984 691h7v7h-7zM997 818h7v7h-7zM980 865h7v7h-7zM961 845h7v7h-7zM960 688h7v7h-7zM1030 796h7v7h-7zM993 871h7v7h-7zM911 753h7v7h-7zM984 962h7v7h-7zM1051 914h7v7h-7zM872 682h7v7h-7zM942 798h7v7h-7zM964 883h7v7h-7zM881 741h7v7h-7zM982 867h7v7h-7zM951 782h7v7h-7zM995 1059h7v7h-7zM905 800h7v7h-7zM921 754h7v7h-7zM997 827h7v7h-7zM969 507h7v7h-7zM900 786h7v7h-7zM959 799h7v7h-7zM985 624h7v7h-7zM945 859h7v7h-7zM991 746h7v7h-7zM964 862h7v7h-7zM957 783h7v7h-7zM1035 834h7v7h-7zM997 902h7v7h-7zM990 882h7v7h-7zM973 749h7v7h-7zM940 761h7v7h-7zM1067 849h7v7h-7zM929 777h7v7h-7zM879 805h7v7h-7zM1066 833h7v7h-7zM929 813h7v7h-7zM992 679h7v7h-7zM982 814h7v7h-7zM864 793h7v7h-7zM936 806h7v7h-7zM951 793h7v7h-7zM979 721h7v7h-7zM957 682h7v7h-7zM882 735h7v7h-7zM951 712h7v7h-7zM861 818h7v7h-7zM954 793h7v7h-7zM901 759h7v7h-7zM971 652h7v7h-7zM1032 859h7v7h-7zM902 809h7v7h-7zM1027 848h7v7h-7zM971 757h7v7h-7zM943 715h7v7h-7zM870 865h7v7h-7zM996 729h7v7h-7zM907 904h7v7h-7zM929 778h7v7h-7zM918 795h7v7h-7zM919 912h7v7h-7zM1011 732h7v7h-7zM901 866h7v7h-7zM861 821h7v7h-7zM891 735h7v7h-7zM976 848h7v7h-7zM924 863h7v7h-7zM1079 797h7v7h-7zM901 796h7v7h-7zM957 927h7v7h-7zM927 794h7v7h-7zM977 612h7v7h-7zM895 885h7v7h-7zM1007 743h7v7h-7zM870 903h7v7h-7zM887 744h7v7h-7zM1018 801h7v7h-7zM963 753h7v7h-7zM859 698h7v7h-7zM1047 845h7v7h-7zM996 832h7v7h-7zM942 872h7v7h-7zM932 758h7v7h-7zM995 684h7v7h-7zM960 755h7v7h-7zM1031 705h7v7h-7zM885 776h7v7h-7zM923 803h7v7h-7zM1010 881h7v7h-7zM1128 724h7v7h-7zM852 769h7v7h-7zM850 988h7v7h-7zM929 818h7v7h-7zM899 838h7v7h-7zM948 819h7v7h-7zM967 731h7v7h-7zM906 779h7v7h-7zM876 701h7v7h-7zM907 769h7v7h-7zM1033 802h7v7h-7zM1007 693h7v7h-7zM956 676h7v7h-7zM1030 878h7v7h-7zM1013 750h7v7h-7zM1075 708h7v7h-7zM1000 675h7v7h-7zM982 639h7v7h-7zM983 728h7v7h-7zM920 780h7v7h-7zM950 773h7v7h-7zM886 757h7v7h-7zM920 764h7v7h-7zM1130 897h7v7h-7zM930 759h7v7h-7zM972 931h7v7h-7zM1033 862h7v7h-7zM898 947h7v7h-7zM998 960h7v7h-7zM875 963h7v7h-7zM980 619h7v7h-7zM960 693h7v7h-7zM998 741h7v7h-7zM1043 981h7v7h-7zM861 819h7v7h-7zM931 837h7v7h-7zM920 777h7v7h-7zM1011 823h7v7h-7zM905 830h7v7h-7zM970 777h7v7h-7zM931 823h7v7h-7zM1023 830h7v7h-7zM965 647h7v7h-7zM1031 769h7v7h-7zM1023 791h7v7h-7zM969 775h7v7h-7zM930 739h7v7h-7zM994 738h7v7h-7zM1100 842h7v7h-7zM926 881h7v7h-7zM1032 670h7v7h-7zM993 848h7v7h-7zM1001 720h7v7h-7zM866 858h7v7h-7zM937 836h7v7h-7zM855 744h7v7h-7zM963 850h7v7h-7zM872 707h7v7h-7zM976 813h7v7h-7zM955 852h7v7h-7zM975 669h7v7h-7zM862 632h7v7h-7zM952 780h7v7h-7zM962 647h7v7h-7zM960 804h7v7h-7zM954 902h7v7h-7zM933 740h7v7h-7zM898 753h7v7h-7zM1072 794h7v7h-7zM967 693h7v7h-7zM997 710h7v7h-7zM971 1003h7v7h-7zM930 889h7v7h-7zM988 743h7v7h-7zM1029 911h7v7h-7zM931 735h7v7h-7zM1060 789h7v7h-7zM989 792h7v7h-7zM1023 810h7v7h-7zM977 772h7v7h-7zM985 751h7v7h-7zM981 647h7v7h-7zM907 848h7v7h-7zM864 704h7v7h-7zM933 814h7v7h-7zM949 762h7v7h-7zM958 838h7v7h-7zM967 799h7v7h-7zM898 820h7v7h-7zM963 863h7v7h-7zM1005 584h7v7h-7zM945 781h7v7h-7zM984 853h7v7h-7zM972 830h7v7h-7zM866 720h7v7h-7zM973 832h7v7h-7zM933 799h7v7h-7zM911 869h7v7h-7zM952 912h7v7h-7zM963 759h7v7h-7zM1024 893h7v7h-7zM959 712h7v7h-7zM909 927h7v7h-7zM973 860h7v7h-7zM1015 745h7v7h-7zM1011 705h7v7h-7zM848 723h7v7h-7zM989 828h7v7h-7zM994 672h7v7h-7zM1136 680h7v7h-7zM976 936h7v7h-7zM1033 847h7v7h-7zM935 868h7v7h-7zM939 810h7v7h-7zM883 740h7v7h-7zM851 924h7v7h-7zM1037 939h7v7h-7zM941 811h7v7h-7zM883 794h7v7h-7zM989 798h7v7h-7zM973 728h7v7h-7zM1103 912h7v7h-7zM948 820h7v7h-7zM990 733h7v7h-7zM1015 804h7v7h-7zM932 866h7v7h-7zM1002 856h7v7h-7zM936 819h7v7h-7zM985 725h7v7h-7zM1008 561h7v7h-7zM871 664h7v7h-7zM1037 617h7v7h-7zM958 867h7v7h-7zM915 828h7v7h-7zM994 606h7v7h-7zM925 740h7v7h-7zM940 832h7v7h-7zM885 770h7v7h-7zM790 810h7v7h-7zM976 725h7v7h-7zM997 816h7v7h-7zM890 853h7v7h-7zM1026 644h7v7h-7zM990 888h7v7h-7zM963 1073h7v7h-7zM1166 692h7v7h-7zM979 906h7v7h-7zM1059 1021h7v7h-7zM1007 869h7v7h-7zM1061 947h7v7h-7zM1056 781h7v7h-7zM1018 943h7v7h-7zM1079 757h7v7h-7zM1010 725h7v7h-7zM1002 946h7v7h-7zM1033 917h7v7h-7zM950 912h7v7h-7zM1105 613h7v7h-7zM854 667h7v7h-7zM998 734h7v7h-7zM1085 726h7v7h-7zM893 801h7v7h-7zM975 965h7v7h-7zM1005 1069h7v7h-7zM959 782h7v7h-7zM880 993h7v7h-7zM932 753h7v7h-7zM880 1123h7v7h-7zM1015 1086h7v7h-7zM921 903h7v7h-7zM686 851h7v7h-7zM1087 993h7v7h-7zM912 877h7v7h-7zM1108 980h7v7h-7zM924 1050h7v7h-7zM773 981h7v7h-7zM912 1044h7v7h-7zM904 801h7v7h-7zM892 934h7v7h-7zM868 573h7v7h-7zM856 926h7v7h-7zM900 965h7v7h-7zM1090 891h7v7h-7zM952 856h7v7h-7zM931 733h7v7h-7zM1103 871h7v7h-7zM859 717h7v7h-7zM1060 860h7v7h-7zM898 847h7v7h-7zM916 902h7v7h-7zM1073 931h7v7h-7zM1087 915h7v7h-7zM977 887h7v7h-7zM853 834h7v7h-7zM972 1000h7v7h-7zM824 1104h7v7h-7zM940 983h7v7h-7zM1144 1011h7v7h-7zM895 834h7v7h-7zM955 1039h7v7h-7zM1059 948h7v7h-7zM1030 1104h7v7h-7zM1022 695h7v7h-7zM1022 934h7v7h-7zM1092 970h7v7h-7zM997 746h7v7h-7zM853 1141h7v7h-7zM962 990h7v7h-7zM969 848h7v7h-7zM1111 791h7v7h-7zM1106 834h7v7h-7zM911 775h7v7h-7zM946 827h7v7h-7zM988 864h7v7h-7zM954 820h7v7h-7zM1023 898h7v7h-7zM936 982h7v7h-7zM1020 937h7v7h-7zM1137 866h7v7h-7zM1097 870h7v7h-7zM960 898h7v7h-7zM857 1004h7v7h-7zM1043 969h7v7h-7zM874 752h7v7h-7zM909 916h7v7h-7zM846 834h7v7h-7zM1092 704h7v7h-7zM745 1080h7v7h-7zM842 879h7v7h-7zM976 963h7v7h-7zM996 1158h7v7h-7zM917 833h7v7h-7zM943 1129h7v7h-7zM959 965h7v7h-7zM800 1017h7v7h-7zM1155 778h7v7h-7zM1056 777h7v7h-7zM981 1048h7v7h-7zM1216 890h7v7h-7zM996 951h7v7h-7zM943 849h7v7h-7zM1037 746h7v7h-7zM783 857h7v7h-7zM787 1051h7v7h-7zM891 865h7v7h-7zM1066 988h7v7h-7zM980 824h7v7h-7zM1063 864h7v7h-7zM1052 932h7v7h-7zM1156 657h7v7h-7zM1116 942h7v7h-7zM973 754h7v7h-7zM1038 701h7v7h-7zM935 918h7v7h-7zM1221 649h7v7h-7zM925 1079h7v7h-7zM855 763h7v7h-7zM1023 970h7v7h-7zM996 833h7v7h-7zM1179 1038h7v7h-7zM1065 954h7v7h-7zM965 816h7v7h-7zM1112 748h7v7h-7zM973 770h7v7h-7zM753 949h7v7h-7zM1070 967h7v7h-7zM848 808h7v7h-7zM1058 1035h7v7h-7zM1035 653h7v7h-7zM1141 951h7v7h-7zM919 899h7v7h-7zM987 1008h7v7h-7zM1037 919h7v7h-7zM953 939h7v7h-7zM911 1051h7v7h-7zM972 949h7v7h-7zM921 922h7v7h-7zM999 1027h7v7h-7zM889 745h7v7h-7zM1003 964h7v7h-7zM940 948h7v7h-7zM830 838h7v7h-7zM1004 1067h7v7h-7zM972 966h7v7h-7zM1011 907h7v7h-7zM1079 743h7v7h-7zM873 795h7v7h-7zM996 899h7v7h-7zM848 1089h7v7h-7zM1144 998h7v7h-7zM1201 624h7v7h-7zM1116 759h7v7h-7zM1070 851h7v7h-7zM734 787h7v7h-7zM1082 783h7v7h-7zM951 1029h7v7h-7zM1025 1028h7v7h-7zM1018 821h7v7h-7zM985 724h7v7h-7zM860 687h7v7h-7zM815 815h7v7h-7zM1001 1080h7v7h-7zM1151 973h7v7h-7zM889 888h7v7h-7zM993 904h7v7h-7zM992 1029h7v7h-7zM1196 844h7v7h-7zM966 777h7v7h-7zM1003 382h7v7h-7zM920 789h7v7h-7zM847 962h7v7h-7zM901 897h7v7h-7zM1012 1031h7v7h-7zM848 873h7v7h-7zM1045 1016h7v7h-7zM958 998h7v7h-7zM927 834h7v7h-7zM1087 883h7v7h-7zM879 1027h7v7h-7zM896 781h7v7h-7zM1184 1037h7v7h-7zM952 1014h7v7h-7zM903 1037h7v7h-7zM1051 850h7v7h-7zM1002 961h7v7h-7zM1054 825h7v7h-7zM1033 906h7v7h-7zM895 1070h7v7h-7zM1115 988h7v7h-7zM1057 801h7v7h-7zM988 709h7v7h-7zM1019 906h7v7h-7zM1066 843h7v7h-7zM1085 838h7v7h-7zM1096 1095h7v7h-7zM1008 943h7v7h-7zM827 886h7v7h-7zM1037 1077h7v7h-7zM1104 834h7v7h-7zM1145 855h7v7h-7zM993 877h7v7h-7zM867 847h7v7h-7zM820 870h7v7h-7zM1022 489h7v7h-7zM1032 939h7v7h-7zM971 856h7v7h-7zM1075 894h7v7h-7zM1218 767h7v7h-7zM1164 934h7v7h-7zM1159 1076h7v7h-7zM1096 975h7v7h-7zM1016 863h7v7h-7zM1060 856h7v7h-7zM935 958h7v7h-7zM1114 979h7v7h-7zM887 933h7v7h-7zM1021 824h7v7h-7zM907 1025h7v7h-7zM896 940h7v7h-7zM883 782h7v7h-7zM1071 981h7v7h-7zM1092 764h7v7h-7zM979 768h7v7h-7zM1170 899h7v7h-7zM1011 1046h7v7h-7zM1085 1068h7v7h-7zM999 861h7v7h-7zM1089 751h7v7h-7zM979 786h7v7h-7zM1031 808h7v7h-7zM997 719h7v7h-7zM898 877h7v7h-7zM1043 844h7v7h-7zM896 996h7v7h-7zM1029 949h7v7h-7zM933 784h7v7h-7zM1017 910h7v7h-7zM1157 748h7v7h-7zM1031 650h7v7h-7zM953 975h7v7h-7zM932 986h7v7h-7zM1136 962h7v7h-7zM1079 780h7v7h-7zM865 1007h7v7h-7zM996 753h7v7h-7zM988 588h7v7h-7zM1000 1027h7v7h-7zM1201 753h7v7h-7zM826 802h7v7h-7zM1002 1059h7v7h-7zM951 1157h7v7h-7zM845 954h7v7h-7zM1208 933h7v7h-7zM1053 882h7v7h-7zM1071 789h7v7h-7zM1043 793h7v7h-7zM1042 863h7v7h-7zM934 849h7v7h-7zM988 1010h7v7h-7zM958 809h7v7h-7zM894 884h7v7h-7zM1066 744h7v7h-7zM867 801h7v7h-7zM988 980h7v7h-7zM988 840h7v7h-7zM1149 860h7v7h-7zM972 754h7v7h-7zM889 912h7v7h-7zM870 1013h7v7h-7zM884 948h7v7h-7zM1157 1049h7v7h-7zM1221 985h7v7h-7zM904 841h7v7h-7zM1208 846h7v7h-7zM1143 935h7v7h-7zM891 968h7v7h-7zM1118 784h7v7h-7zM1124 1078h7v7h-7zM819 813h7v7h-7zM1273 1027h7v7h-7zM934 852h7v7h-7zM1104 867h7v7h-7zM1109 1121h7v7h-7zM1139 981h7v7h-7zM999 906h7v7h-7zM1104 1065h7v7h-7zM952 839h7v7h-7zM1093 716h7v7h-7zM1100 780h7v7h-7zM880 775h7v7h-7zM1017 832h7v7h-7zM1126 751h7v7h-7zM972 700h7v7h-7zM1117 770h7v7h-7zM936 1010h7v7h-7zM987 892h7v7h-7zM891 757h7v7h-7zM1046 648h7v7h-7zM1021 934h7v7h-7zM1113 1040h7v7h-7zM1254 1058h7v7h-7zM963 1063h7v7h-7zM1131 611h7v7h-7zM928 1049h7v7h-7zM870 816h7v7h-7zM912 930h7v7h-7zM1048 699h7v7h-7zM950 1174h7v7h-7zM1102 889h7v7h-7zM960 1133h7v7h-7zM921 746h7v7h-7zM907 815h7v7h-7zM994 682h7v7h-7zM1015 894h7v7h-7zM1035 1107h7v7h-7zM1051 926h7v7h-7zM1013 901h7v7h-7zM1050 1054h7v7h-7zM975 918h7v7h-7zM939 1016h7v7h-7zM871 829h7v7h-7zM1121 748h7v7h-7zM1068 911h7v7h-7zM913 875h7v7h-7zM1088 783h7v7h-7zM904 857h7v7h-7zM833 720h7v7h-7zM1009 1043h7v7h-7zM885 919h7v7h-7zM1137 796h7v7h-7zM958 747h7v7h-7zM957 1009h7v7h-7zM1048 854h7v7h-7zM963 818h7v7h-7zM933 868h7v7h-7zM1161 839h7v7h-7zM1173 927h7v7h-7zM881 801h7v7h-7zM1026 772h7v7h-7zM1208 1002h7v7h-7zM1031 1058h7v7h-7zM1014 1105h7v7h-7zM1169 1124h7v7h-7zM1011 934h7v7h-7zM1177 880h7v7h-7zM990 903h7v7h-7zM888 1143h7v7h-7zM935 904h7v7h-7zM1046 804h7v7h-7zM1090 1111h7v7h-7zM980 774h7v7h-7zM990 909h7v7h-7zM926 1052h7v7h-7zM952 914h7v7h-7zM1180 903h7v7h-7zM1031 947h7v7h-7zM935 968h7v7h-7zM973 770h7v7h-7zM954 975h7v7h-7zM929 813h7v7h-7zM1064 761h7v7h-7zM1081 1159h7v7h-7zM1189 738h7v7h-7zM1083 761h7v7h-7zM1013 868h7v7h-7zM1068 707h7v7h-7zM945 854h7v7h-7zM1082 806h7v7h-7zM1096 1137h7v7h-7zM889 825h7v7h-7zM1147 883h7v7h-7zM1003 880h7v7h-7zM965 887h7v7h-7zM995 741h7v7h-7zM1163 1040h7v7h-7zM1131 882h7v7h-7zM1090 781h7v7h-7zM397 715h7v7h-7zM437 683h7v7h-7zM424 647h7v7h-7zM401 616h7v7h-7zM399 741h7v7h-7zM408 663h7v7h-7zM397 595h7v7h-7zM388 678h7v7h-7zM488 731h7v7h-7zM445 591h7v7h-7zM525 656h7v7h-7zM488 688h7v7h-7zM424 726h7v7h-7zM471 624h7v7h-7zM429 725h7v7h-7zM431 699h7v7h-7zM421 578h7v7h-7zM500 724h7v7h-7zM395 739h7v7h-7zM441 622h7v7h-7zM391 595h7v7h-7zM427 674h7v7h-7zM426 742h7v7h-7zM403 733h7v7h-7zM511 699h7v7h-7zM474 705h7v7h-7zM400 728h7v7h-7zM542 674h7v7h-7zM526 728h7v7h-7zM413 640h7v7h-7zM481 725h7v7h-7zM385 610h7v7h-7zM424 750h7v7h-7zM409 664h7v7h-7zM448 637h7v7h-7zM414 632h7v7h-7zM453 619h7v7h-7zM395 629h7v7h-7zM437 717h7v7h-7zM544 728h7v7h-7zM514 673h7v7h-7zM420 637h7v7h-7zM435 650h7v7h-7zM495 646h7v7h-7zM387 664h7v7h-7zM387 685h7v7h-7zM419 599h7v7h-7zM456 640h7v7h-7zM404 607h7v7h-7zM460 688h7v7h-7zM385 575h7v7h-7zM457 656h7v7h-7zM411 726h7v7h-7zM450 622h7v7h-7zM587 699h7v7h-7zM496 623h7v7h-7zM421 609h7v7h-7zM476 675h7v7h-7zM426 728h7v7h-7zM420 703h7v7h-7zM533 688h7v7h-7zM484 616h7v7h-7zM398 735h7v7h-7zM430 677h7v7h-7zM490 720h7v7h-7zM390 602h7v7h-7zM510 660h7v7h-7zM403 611h7v7h-7zM445 628h7v7h-7zM460 712h7v7h-7zM470 669h7v7h-7zM463 693h7v7h-7zM410 617h7v7h-7zM479 710h7v7h-7zM480 707h7v7h-7zM433 622h7v7h-7zM432 677h7v7h-7zM396 733h7v7h-7zM444 643h7v7h-7zM421 648h7v7h-7zM482 747h7v7h-7zM432 628h7v7h-7zM404 648h7v7h-7zM534 680h7v7h-7zM416 568h7v7h-7zM508 720h7v7h-7zM422 626h7v7h-7zM395 759h7v7h-7zM398 755h7v7h-7zM394 737h7v7h-7zM410 726h7v7h-7zM395 767h7v7h-7zM458 738h7v7h-7zM388 744h7v7h-7zM468 612h7v7h-7zM481 749h7v7h-7zM506 718h7v7h-7zM471 681h7v7h-7zM504 720h7v7h-7zM416 602h7v7h-7zM417 629h7v7h-7zM409 587h7v7h-7zM426 673h7v7h-7zM442 635h7v7h-7zM568 685h7v7h-7zM492 687h7v7h-7zM426 585h7v7h-7zM477 679h7v7h-7zM615 732h7v7h-7zM434 678h7v7h-7zM453 607h7v7h-7zM447 596h7v7h-7zM568 664h7v7h-7zM514 663h7v7h-7zM428 711h7v7h-7zM393 644h7v7h-7zM422 627h7v7h-7zM511 744h7v7h-7zM436 705h7v7h-7zM398 657h7v7h-7zM561 726h7v7h-7zM463 679h7v7h-7zM391 768h7v7h-7zM474 716h7v7h-7zM474 638h7v7h-7zM452 738h7v7h-7zM392 697h7v7h-7zM400 684h7v7h-7zM410 587h7v7h-7zM467 733h7v7h-7zM470 607h7v7h-7zM415 744h7v7h-7zM411 668h7v7h-7zM486 737h7v7h-7zM511 669h7v7h-7zM432 606h7v7h-7zM488 730h7v7h-7zM431 741h7v7h-7zM445 731h7v7h-7zM386 716h7v7h-7zM483 625h7v7h-7zM401 567h7v7h-7zM423 717h7v7h-7zM418 744h7v7h-7zM507 704h7v7h-7zM432 649h7v7h-7zM428 752h7v7h-7zM418 649h7v7h-7zM439 689h7v7h-7zM513 675h7v7h-7zM387 695h7v7h-7zM426 599h7v7h-7zM440 720h7v7h-7zM401 734h7v7h-7zM408 585h7v7h-7zM422 592h7v7h-7zM421 606h7v7h-7zM390 732h7v7h-7zM425 641h7v7h-7zM463 733h7v7h-7zM449 615h7v7h-7zM517 661h7v7h-7zM425 618h7v7h-7zM454 731h7v7h-7zM473 680h7v7h-7zM426 685h7v7h-7zM513 747h7v7h-7zM426 747h7v7h-7zM402 668h7v7h-7zM471 645h7v7h-7zM516 739h7v7h-7zM440 719h7v7h-7zM492 691h7v7h-7zM406 576h7v7h-7zM443 729h7v7h-7zM471 667h7v7h-7zM485 747h7v7h-7zM409 638h7v7h-7zM484 666h7v7h-7zM525 729h7v7h-7zM504 688h7v7h-7zM388 617h7v7h-7zM443 639h7v7h-7zM410 592h7v7h-7zM512 649h7v7h-7zM502 648h7v7h-7zM387 631h7v7h-7zM445 707h7v7h-7zM405 752h7v7h-7zM419 703h7v7h-7zM410 634h7v7h-7zM457 634h7v7h-7zM485 660h7v7h-7zM386 758h7v7h-7zM424 663h7v7h-7zM456 720h7v7h-7zM493 661h7v7h-7zM459 725h7v7h-7zM432 611h7v7h-7zM438 740h7v7h-7zM494 678h7v7h-7zM516 710h7v7h-7zM492 723h7v7h-7zM399 567h7v7h-7zM555 671h7v7h-7zM453 720h7v7h-7zM423 597h7v7h-7zM530 685h7v7h-7zM517 714h7v7h-7zM405 680h7v7h-7zM390 614h7v7h-7zM443 688h7v7h-7zM421 751h7v7h-7zM524 657h7v7h-7zM435 673h7v7h-7zM446 650h7v7h-7zM465 673h7v7h-7zM387 578h7v7h-7zM419 683h7v7h-7zM443 619h7v7h-7zM433 581h7v7h-7zM391 657h7v7h-7zM474 639h7v7h-7zM424 670h7v7h-7zM416 631h7v7h-7zM407 569h7v7h-7zM484 658h7v7h-7zM426 718h7v7h-7zM441 697h7v7h-7zM570 699h7v7h-7zM507 653h7v7h-7zM430 642h7v7h-7zM437 624h7v7h-7zM393 592h7v7h-7zM411 750h7v7h-7zM412 716h7v7h-7zM400 675h7v7h-7zM434 617h7v7h-7zM390 744h7v7h-7zM443 654h7v7h-7zM427 643h7v7h-7zM466 726h7v7h-7zM495 660h7v7h-7zM502 689h7v7h-7zM530 657h7v7h-7zM474 630h7v7h-7zM446 752h7v7h-7zM455 696h7v7h-7zM401 648h7v7h-7zM387 695h7v7h-7zM496 658h7v7h-7zM399 568h7v7h-7zM465 735h7v7h-7zM516 672h7v7h-7zM562 729h7v7h-7zM435 697h7v7h-7zM488 622h7v7h-7zM391 718h7v7h-7zM409 693h7v7h-7zM562 719h7v7h-7zM486 621h7v7h-7zM502 673h7v7h-7zM388 740h7v7h-7zM402 581h7v7h-7zM462 711h7v7h-7zM500 722h7v7h-7zM431 752h7v7h-7zM389 721h7v7h-7zM487 688h7v7h-7zM400 585h7v7h-7zM447 653h7v7h-7zM387 746h7v7h-7zM404 725h7v7h-7zM411 685h7v7h-7zM455 700h7v7h-7zM398 688h7v7h-7zM468 617h7v7h-7zM455 747h7v7h-7zM386 716h7v7h-7zM432 653h7v7h-7zM568 735h7v7h-7zM451 725h7v7h-7zM406 719h7v7h-7zM444 710h7v7h-7zM612 744h7v7h-7zM427 623h7v7h-7zM452 746h7v7h-7zM403 591h7v7h-7zM450 711h7v7h-7zM456 672h7v7h-7zM446 694h7v7h-7zM472 611h7v7h-7zM650 731h7v7h-7zM502 668h7v7h-7zM411 619h7v7h-7zM391 670h7v7h-7zM525 650h7v7h-7zM476 635h7v7h-7zM408 665h7v7h-7zM396 717h7v7h-7zM440 721h7v7h-7zM409 606h7v7h-7zM400 624h7v7h-7zM385 641h7v7h-7zM399 621h7v7h-7zM447 719h7v7h-7zM554 715h7v7h-7zM424 677h7v7h-7zM441 593h7v7h-7zM511 710h7v7h-7zM447 705h7v7h-7zM565 711h7v7h-7zM437 615h7v7h-7zM419 633h7v7h-7zM560 702h7v7h-7zM418 731h7v7h-7zM389 607h7v7h-7zM429 681h7v7h-7zM507 709h7v7h-7zM434 662h7v7h-7zM393 590h7v7h-7zM398 670h7v7h-7zM494 744h7v7h-7zM519 665h7v7h-7zM429 652h7v7h-7zM475 630h7v7h-7zM482 742h7v7h-7zM392 607h7v7h-7zM400 621h7v7h-7zM508 632h7v7h-7zM476 616h7v7h-7zM499 704h7v7h-7zM443 633h7v7h-7zM522 730h7v7h-7zM511 633h7v7h-7zM402 759h7v7h-7zM462 635h7v7h-7zM588 675h7v7h-7zM431 582h7v7h-7zM472 729h7v7h-7zM402 751h7v7h-7zM499 694h7v7h-7zM448 670h7v7h-7zM434 723h7v7h-7zM386 653h7v7h-7zM458 724h7v7h-7zM490 693h7v7h-7zM420 674h7v7h-7zM415 738h7v7h-7zM391 769h7v7h-7zM385 718h7v7h-7zM454 714h7v7h-7zM388 598h7v7h-7zM391 612h7v7h-7zM417 574h7v7h-7zM419 755h7v7h-7zM386 747h7v7h-7zM398 745h7v7h-7zM540 721h7v7h-7zM475 654h7v7h-7zM387 570h7v7h-7zM522 669h7v7h-7zM394 616h7v7h-7zM475 637h7v7h-7zM480 678h7v7h-7zM421 739h7v7h-7zM545 703h7v7h-7zM436 743h7v7h-7zM426 637h7v7h-7zM423 728h7v7h-7zM480 654h7v7h-7zM490 731h7v7h-7zM451 602h7v7h-7zM424 593h7v7h-7zM394 652h7v7h-7zM486 716h7v7h-7zM493 678h7v7h-7zM476 724h7v7h-7zM437 667h7v7h-7zM508 731h7v7h-7zM520 717h7v7h-7zM463 732h7v7h-7zM472 621h7v7h-7zM417 648h7v7h-7zM392 714h7v7h-7zM405 666h7v7h-7zM474 635h7v7h-7zM409 590h7v7h-7zM441 745h7v7h-7zM440 749h7v7h-7zM426 676h7v7h-7zM464 636h7v7h-7zM434 711h7v7h-7zM443 617h7v7h-7zM447 724h7v7h-7zM391 690h7v7h-7zM457 678h7v7h-7zM480 712h7v7h-7zM448 732h7v7h-7zM470 742h7v7h-7zM408 745h7v7h-7zM471 646h7v7h-7zM402 713h7v7h-7zM386 642h7v7h-7zM452 734h7v7h-7zM443 641h7v7h-7zM461 745h7v7h-7zM386 675h7v7h-7zM469 660h7v7h-7zM579 679h7v7h-7zM556 677h7v7h-7zM568 666h7v7h-7zM423 621h7v7h-7zM399 701h7v7h-7zM387 689h7v7h-7zM384 609h7v7h-7zM384 589h7v7h-7zM387 717h7v7h-7zM381 679h7v7h-7zM390 724h7v7h-7zM380 748h7v7h-7zM382 719h7v7h-7zM394 745h7v7h-7zM390 689h7v7h-7zM382 626h7v7h-7zM381 607h7v7h-7zM393 711h7v7h-7zM380 580h7v7h-7zM387 677h7v7h-7zM383 592h7v7h-7zM392 561h7v7h-7zM396 592h7v7h-7zM386 585h7v7h-7zM411 647h7v7h-7zM388 572h7v7h-7zM381 596h7v7h-7zM381 733h7v7h-7zM380 597h7v7h-7zM380 681h7v7h-7zM389 707h7v7h-7zM389 623h7v7h-7zM380 692h7v7h-7zM401 674h7v7h-7zM388 686h7v7h-7zM392 745h7v7h-7zM387 693h7v7h-7zM391 722h7v7h-7zM388 662h7v7h-7zM391 640h7v7h-7zM393 704h7v7h-7zM384 718h7v7h-7zM389 684h7v7h-7zM400 601h7v7h-7zM381 725h7v7h-7zM395 706h7v7h-7zM381 679h7v7h-7zM388 616h7v7h-7zM391 738h7v7h-7zM381 748h7v7h-7zM398 584h7v7h-7zM400 725h7v7h-7zM394 575h7v7h-7zM389 716h7v7h-7zM392 564h7v7h-7zM384 683h7v7h-7zM398 655h7v7h-7zM385 623h7v7h-7zM380 646h7v7h-7zM387 581h7v7h-7zM387 560h7v7h-7zM387 619h7v7h-7zM399 745h7v7h-7zM393 676h7v7h-7zM382 717h7v7h-7zM387 644h7v7h-7zM395 575h7v7h-7zM400 568h7v7h-7zM386 595h7v7h-7zM384 737h7v7h-7zM392 670h7v7h-7zM384 593h7v7h-7zM381 606h7v7h-7zM401 693h7v7h-7zM383 704h7v7h-7zM389 606h7v7h-7zM390 665h7v7h-7zM387 647h7v7h-7zM388 631h7v7h-7zM390 596h7v7h-7zM387 600h7v7h-7zM389 661h7v7h-7zM385 596h7v7h-7zM389 706h7v7h-7zM381 595h7v7h-7zM387 617h7v7h-7zM381 692h7v7h-7zM398 667h7v7h-7zM387 616h7v7h-7zM390 675h7v7h-7zM388 629h7v7h-7zM394 588h7v7h-7zM386 615h7v7h-7zM389 672h7v7h-7zM384 622h7v7h-7zM388 569h7v7h-7zM386 702h7v7h-7zM398 663h7v7h-7zM380 598h7v7h-7zM388 624h7v7h-7zM394 635h7v7h-7zM382 645h7v7h-7zM381 749h7v7h-7zM385 658h7v7h-7zM387 602h7v7h-7zM389 667h7v7h-7zM380 726h7v7h-7zM390 725h7v7h-7zM382 749h7v7h-7zM391 616h7v7h-7zM392 725h7v7h-7zM384 719h7v7h-7zM382 662h7v7h-7zM383 686h7v7h-7zM389 738h7v7h-7zM396 591h7v7h-7zM383 671h7v7h-7zM383 600h7v7h-7zM386 627h7v7h-7zM382 638h7v7h-7zM384 588h7v7h-7zM387 606h7v7h-7zM404 700h7v7h-7zM396 589h7v7h-7zM389 674h7v7h-7zM382 741h7v7h-7zM392 649h7v7h-7zM401 716h7v7h-7zM389 601h7v7h-7zM382 639h7v7h-7zM389 669h7v7h-7zM382 678h7v7h-7zM381 601h7v7h-7zM394 610h7v7h-7zM394 597h7v7h-7zM402 566h7v7h-7zM386 710h7v7h-7zM393 626h7v7h-7zM385 586h7v7h-7zM388 698h7v7h-7zM386 715h7v7h-7zM382 619h7v7h-7zM388 715h7v7h-7zM386 616h7v7h-7zM714 858h7v7h-7zM679 1117h7v7h-7zM716 1075h7v7h-7zM712 1070h7v7h-7zM766 1050h7v7h-7zM798 1012h7v7h-7zM695 857h7v7h-7zM826 883h7v7h-7zM749 840h7v7h-7zM824 864h7v7h-7zM786 859h7v7h-7zM766 871h7v7h-7zM761 740h7v7h-7zM736 1103h7v7h-7zM771 1051h7v7h-7zM805 778h7v7h-7zM675 1112h7v7h-7zM723 953h7v7h-7zM766 1036h7v7h-7zM676 986h7v7h-7zM712 857h7v7h-7zM670 1072h7v7h-7zM771 798h7v7h-7zM721 896h7v7h-7zM725 827h7v7h-7zM674 910h7v7h-7zM777 880h7v7h-7zM851 755h7v7h-7zM706 807h7v7h-7zM747 874h7v7h-7zM647 1076h7v7h-7zM748 984h7v7h-7zM723 894h7v7h-7zM849 805h7v7h-7zM752 802h7v7h-7zM669 990h7v7h-7zM841 1166h7v7h-7zM690 784h7v7h-7zM852 1018h7v7h-7zM794 1129h7v7h-7zM817 753h7v7h-7zM707 809h7v7h-7zM781 769h7v7h-7zM809 807h7v7h-7zM819 822h7v7h-7zM793 1127h7v7h-7zM685 843h7v7h-7zM742 936h7v7h-7zM806 914h7v7h-7zM774 1052h7v7h-7zM805 900h7v7h-7zM664 1157h7v7h-7zM793 829h7v7h-7zM661 977h7v7h-7zM721 836h7v7h-7zM717 815h7v7h-7zM779 951h7v7h-7zM815 878h7v7h-7zM841 965h7v7h-7zM730 839h7v7h-7zM720 777h7v7h-7zM688 929h7v7h-7zM849 940h7v7h-7zM718 985h7v7h-7zM768 782h7v7h-7zM757 858h7v7h-7zM728 989h7v7h-7zM691 1002h7v7h-7zM745 1060h7v7h-7zM828 896h7v7h-7zM854 904h7v7h-7zM742 1065h7v7h-7zM671 1094h7v7h-7zM750 833h7v7h-7zM707 789h7v7h-7zM658 1107h7v7h-7zM663 1040h7v7h-7zM793 1103h7v7h-7zM798 887h7v7h-7zM843 836h7v7h-7zM790 1005h7v7h-7zM694 792h7v7h-7zM843 844h7v7h-7zM821 775h7v7h-7zM640 746h7v7h-7zM792 998h7v7h-7zM719 807h7v7h-7zM780 1097h7v7h-7zM668 1123h7v7h-7zM931 1166h7v7h-7zM960 1173h7v7h-7zM888 1157h7v7h-7zM973 1171h7v7h-7zM904 1158h7v7h-7zM901 1167h7v7h-7zM971 1173h7v7h-7zM995 1174h7v7h-7zM918 1169h7v7h-7zM994 1169h7v7h-7zM1065 1169h7v7h-7zM1135 1166h7v7h-7zM1087 1172h7v7h-7zM927 1163h7v7h-7zM1136 1167h7v7h-7zM1186 1169h7v7h-7zM884 1167h7v7h-7zM1035 1172h7v7h-7zM894 1169h7v7h-7zM876 1168h7v7h-7zM1102 1161h7v7h-7zM1006 1154h7v7h-7zM959 1169h7v7h-7zM1056 1169h7v7h-7zM1042 1165h7v7h-7zM977 1169h7v7h-7zM870 1174h7v7h-7zM966 1169h7v7h-7zM1000 1173h7v7h-7zM948 1170h7v7h-7zM952 1142h7v7h-7zM925 1170h7v7h-7zM911 1172h7v7h-7zM995 1170h7v7h-7zM1011 1160h7v7h-7zM955 1164h7v7h-7zM889 1169h7v7h-7zM920 1173h7v7h-7zM919 1152h7v7h-7zM1081 1172h7v7h-7zM1115 1156h7v7h-7zM1037 1173h7v7h-7zM942 1168h7v7h-7zM880 1158h7v7h-7zM1103 1172h7v7h-7zM961 1167h7v7h-7zM1083 1144h7v7h-7zM887 1157h7v7h-7zM914 1162h7v7h-7zM864 1171h7v7h-7zM936 1166h7v7h-7zM860 1166h7v7h-7zM896 1172h7v7h-7zM945 1168h7v7h-7zM960 1158h7v7h-7zM1305 1163h7v7h-7zM1042 1169h7v7h-7zM913 1164h7v7h-7zM967 1166h7v7h-7zM930 1164h7v7h-7zM943 1163h7v7h-7zM962 1171h7v7h-7zM935 1160h7v7h-7zM869 1173h7v7h-7zM915 1166h7v7h-7zM1045 1157h7v7h-7zM954 1159h7v7h-7zM914 1171h7v7h-7zM874 1173h7v7h-7zM956 1165h7v7h-7zM1098 1168h7v7h-7zM908 1169h7v7h-7zM1060 1172h7v7h-7zM887 1160h7v7h-7zM1109 1167h7v7h-7zM951 1168h7v7h-7zM875 1168h7v7h-7zM890 1171h7v7h-7zM1030 1165h7v7h-7zM962 1155h7v7h-7zM1018 1168h7v7h-7zM980 1164h7v7h-7zM880 1168h7v7h-7zM883 1163h7v7h-7zM1030 1173h7v7h-7zM896 1161h7v7h-7zM985 1168h7v7h-7zM906 1166h7v7h-7zM893 1172h7v7h-7zM1207 1174h7v7h-7zM886 1160h7v7h-7zM1100 1164h7v7h-7zM892 1168h7v7h-7zM1047 1164h7v7h-7zM922 1163h7v7h-7zM931 1160h7v7h-7zM946 1170h7v7h-7zM967 1163h7v7h-7zM875 1162h7v7h-7zM927 1171h7v7h-7zM898 1164h7v7h-7zM1038 1172h7v7h-7zM951 1165h7v7h-7zM913 1169h7v7h-7zM869 1157h7v7h-7zM998 1151h7v7h-7zM911 1168h7v7h-7zM979 1172h7v7h-7zM879 1162h7v7h-7zM860 1166h7v7h-7zM1074 1164h7v7h-7zM979 1174h7v7h-7zM893 1172h7v7h-7zM867 1164h7v7h-7zM944 1166h7v7h-7zM984 1173h7v7h-7zM877 1168h7v7h-7zM893 1169h7v7h-7zM880 1156h7v7h-7zM908 1171h7v7h-7zM865 1168h7v7h-7zM996 1166h7v7h-7zM863 1165h7v7h-7zM888 1174h7v7h-7zM1023 1167h7v7h-7zM949 1167h7v7h-7zM963 1167h7v7h-7zM930 1165h7v7h-7zM933 1171h7v7h-7zM902 1162h7v7h-7zM926 1170h7v7h-7zM1031 1173h7v7h-7zM1021 1169h7v7h-7zM1023 1161h7v7h-7zM973 1173h7v7h-7zM944 1170h7v7h-7zM923 1164h7v7h-7zM961 1170h7v7h-7zM860 1163h7v7h-7zM969 1162h7v7h-7zM1097 1169h7v7h-7zM934 1168h7v7h-7zM1129 1163h7v7h-7zM976 1166h7v7h-7zM948 1171h7v7h-7zM1131 1166h7v7h-7zM871 1173h7v7h-7zM1157 1159h7v7h-7zM931 1174h7v7h-7zM938 1172h7v7h-7zM925 1162h7v7h-7zM946 1171h7v7h-7zM983 1174h7v7h-7zM899 1168h7v7h-7zM901 1158h7v7h-7zM942 1174h7v7h-7zM915 1168h7v7h-7zM1121 1170h7v7h-7zM1105 1164h7v7h-7zM926 1159h7v7h-7zM1051 1170h7v7h-7zM894 1166h7v7h-7zM943 1156h7v7h-7zM882 1167h7v7h-7zM934 1153h7v7h-7zM951 1165h7v7h-7zM951 1169h7v7h-7zM978 1171h7v7h-7zM1276 1167h7v7h-7zM1107 1162h7v7h-7zM943 1167h7v7h-7zM1081 1172h7v7h-7zM925 1167h7v7h-7zM929 1174h7v7h-7zM965 1170h7v7h-7zM957 1172h7v7h-7zM966 1152h7v7h-7zM918 1154h7v7h-7zM993 1167h7v7h-7zM872 1164h7v7h-7zM916 1165h7v7h-7zM861 1168h7v7h-7zM931 1162h7v7h-7zM927 1171h7v7h-7zM922 1166h7v7h-7zM1001 1167h7v7h-7zM1142 1173h7v7h-7zM903 1171h7v7h-7zM1037 1163h7v7h-7zM983 1166h7v7h-7zM984 1162h7v7h-7zM944 1168h7v7h-7zM902 1173h7v7h-7zM926 1169h7v7h-7zM1231 1172h7v7h-7zM990 1161h7v7h-7zM886 1153h7v7h-7zM932 1167h7v7h-7zM958 1173h7v7h-7zM948 1174h7v7h-7zM962 1164h7v7h-7zM1027 1170h7v7h-7zM966 1161h7v7h-7zM1182 1169h7v7h-7zM965 1166h7v7h-7zM1033 1165h7v7h-7zM1190 1154h7v7h-7zM1255 1171h7v7h-7zM903 1165h7v7h-7zM979 1166h7v7h-7zM1010 1171h7v7h-7zM1063 1172h7v7h-7zM910 1167h7v7h-7zM951 1167h7v7h-7zM926 1163h7v7h-7zM921 1164h7v7h-7zM1042 1162h7v7h-7zM1032 1174h7v7h-7zM944 1173h7v7h-7zM866 1160h7v7h-7zM914 1174h7v7h-7zM1039 1168h7v7h-7zM1056 1160h7v7h-7zM1034 1166h7v7h-7zM980 1165h7v7h-7zM951 1169h7v7h-7zM899 1169h7v7h-7zM1094 1168h7v7h-7zM886 1173h7v7h-7zM911 1153h7v7h-7zM931 1169h7v7h-7zM940 1161h7v7h-7zM967 1156h7v7h-7zM891 1172h7v7h-7zM991 1160h7v7h-7zM1033 1153h7v7h-7zM1047 1163h7v7h-7zM1018 1161h7v7h-7zM981 1164h7v7h-7zM957 1172h7v7h-7zM1043 1165h7v7h-7zM931 1171h7v7h-7zM929 1172h7v7h-7zM1110 1168h7v7h-7zM1017 1168h7v7h-7zM982 1168h7v7h-7zM881 1164h7v7h-7zM1076 1169h7v7h-7zM936 1174h7v7h-7zM904 1169h7v7h-7z" fill="#111" opacity="0.8"/>
<path transform="scale(0.1)" d="M394 869h7v7h-7zM381 1073h7v7h-7zM380 1135h7v7h-7zM385 899h7v7h-7zM381 1145h7v7h-7zM394 996h7v7h-7zM382 752h7v7h-7zM385 848h7v7h-7zM386 918h7v7h-7zM386 1081h7v7h-7zM383 1173h7v7h-7zM387 806h7v7h-7zM387 774h7v7h-7zM382 916h7v7h-7zM380 941h7v7h-7zM381 1144h7v7h-7zM390 1123h7v7h-7zM390 838h7v7h-7zM383 791h7v7h-7zM390 1134h7v7h-7zM386 857h7v7h-7zM383 834h7v7h-7zM403 1041h7v7h-7zM398 823h7v7h-7zM382 1020h7v7h-7zM381 1023h7v7h-7zM393 782h7v7h-7zM385 944h7v7h-7zM384 1006h7v7h-7zM380 1037h7v7h-7zM398 997h7v7h-7zM382 926h7v7h-7zM396 757h7v7h-7zM380 755h7v7h-7zM386 1095h7v7h-7zM382 897h7v7h-7zM381 1022h7v7h-7zM389 773h7v7h-7zM389 1007h7v7h-7zM380 992h7v7h-7zM386 1089h7v7h-7zM394 1166h7v7h-7zM382 1007h7v7h-7zM391 945h7v7h-7zM389 927h7v7h-7zM387 866h7v7h-7zM388 1146h7v7h-7zM392 783h7v7h-7zM380 1028h7v7h-7zM383 999h7v7h-7zM381 1040h7v7h-7zM395 1015h7v7h-7zM404 805h7v7h-7zM391 1114h7v7h-7zM385 766h7v7h-7zM398 1012h7v7h-7zM380 917h7v7h-7zM382 863h7v7h-7zM387 841h7v7h-7zM393 851h7v7h-7zM395 980h7v7h-7zM383 1079h7v7h-7zM384 1033h7v7h-7zM386 868h7v7h-7zM400 1121h7v7h-7zM385 808h7v7h-7zM392 1136h7v7h-7zM402 1110h7v7h-7zM395 1096h7v7h-7zM382 912h7v7h-7zM389 1064h7v7h-7zM385 865h7v7h-7zM383 952h7v7h-7zM388 938h7v7h-7zM406 951h7v7h-7zM388 754h7v7h-7zM386 1074h7v7h-7zM380 968h7v7h-7zM382 919h7v7h-7zM391 766h7v7h-7zM390 1117h7v7h-7zM385 1011h7v7h-7zM382 764h7v7h-7zM387 847h7v7h-7zM387 1107h7v7h-7zM380 1001h7v7h-7zM396 1004h7v7h-7zM395 882h7v7h-7zM395 805h7v7h-7zM399 835h7v7h-7zM386 823h7v7h-7zM391 784h7v7h-7zM381 1077h7v7h-7zM380 823h7v7h-7zM382 848h7v7h-7zM393 1165h7v7h-7zM382 876h7v7h-7zM387 986h7v7h-7zM381 1045h7v7h-7zM391 849h7v7h-7zM381 963h7v7h-7zM385 768h7v7h-7zM394 929h7v7h-7zM386 1003h7v7h-7zM383 937h7v7h-7zM400 877h7v7h-7zM394 1154h7v7h-7zM384 1081h7v7h-7zM385 872h7v7h-7zM391 1073h7v7h-7zM385 928h7v7h-7zM383 1166h7v7h-7zM386 874h7v7h-7zM395 757h7v7h-7zM383 1167h7v7h-7zM396 784h7v7h-7zM384 752h7v7h-7zM394 806h7v7h-7zM395 1001h7v7h-7zM383 1013h7v7h-7zM382 972h7v7h-7zM388 998h7v7h-7zM385 1002h7v7h-7zM382 1161h7v7h-7zM400 1024h7v7h-7zM380 1051h7v7h-7zM396 956h7v7h-7zM389 1147h7v7h-7zM381 1101h7v7h-7zM391 790h7v7h-7zM388 808h7v7h-7zM391 1094h7v7h-7zM386 1044h7v7h-7zM381 831h7v7h-7zM388 1171h7v7h-7zM383 819h7v7h-7zM396 830h7v7h-7zM392 857h7v7h-7zM389 1094h7v7h-7zM388 843h7v7h-7zM386 1002h7v7h-7zM383 1122h7v7h-7zM389 1031h7v7h-7zM387 1062h7v7h-7zM390 971h7v7h-7zM398 1072h7v7h-7zM386 799h7v7h-7zM389 1063h7v7h-7zM381 757h7v7h-7zM388 963h7v7h-7zM398 944h7v7h-7zM401 852h7v7h-7zM382 789h7v7h-7zM383 1166h7v7h-7zM388 806h7v7h-7zM401 1140h7v7h-7zM383 1134h7v7h-7zM382 795h7v7h-7zM403 948h7v7h-7zM394 925h7v7h-7zM381 996h7v7h-7zM385 847h7v7h-7zM393 1097h7v7h-7zM382 1158h7v7h-7zM388 955h7v7h-7zM383 997h7v7h-7zM381 982h7v7h-7zM390 941h7v7h-7zM380 757h7v7h-7zM395 926h7v7h-7zM385 1164h7v7h-7zM392 876h7v7h-7zM387 1101h7v7h-7zM404 949h7v7h-7zM388 888h7v7h-7zM384 1049h7v7h-7zM380 859h7v7h-7zM383 811h7v7h-7zM394 938h7v7h-7zM392 1033h7v7h-7zM391 1156h7v7h-7zM383 977h7v7h-7zM393 990h7v7h-7zM391 884h7v7h-7zM394 867h7v7h-7zM383 1166h7v7h-7zM387 925h7v7h-7zM387 888h7v7h-7zM394 1083h7v7h-7zM386 1015h7v7h-7zM403 861h7v7h-7zM397 842h7v7h-7zM389 823h7v7h-7zM381 969h7v7h-7zM388 929h7v7h-7zM386 754h7v7h-7zM384 843h7v7h-7zM380 889h7v7h-7zM380 981h7v7h-7zM385 858h7v7h-7zM384 1088h7v7h-7zM388 928h7v7h-7zM391 931h7v7h-7zM381 1005h7v7h-7zM390 972h7v7h-7zM385 1125h7v7h-7zM392 1111h7v7h-7zM382 1163h7v7h-7zM395 836h7v7h-7zM382 751h7v7h-7zM404 835h7v7h-7zM381 1170h7v7h-7zM393 968h7v7h-7zM389 817h7v7h-7zM381 1064h7v7h-7zM401 789h7v7h-7zM387 978h7v7h-7zM390 1119h7v7h-7zM380 1022h7v7h-7zM387 1154h7v7h-7zM396 1046h7v7h-7zM389 988h7v7h-7zM395 832h7v7h-7zM388 830h7v7h-7zM402 1144h7v7h-7zM392 946h7v7h-7zM384 926h7v7h-7zM384 1083h7v7h-7zM397 1027h7v7h-7zM389 804h7v7h-7zM385 914h7v7h-7zM383 927h7v7h-7zM389 1173h7v7h-7zM380 1095h7v7h-7zM385 858h7v7h-7zM380 787h7v7h-7zM382 949h7v7h-7zM382 750h7v7h-7zM380 1088h7v7h-7zM380 939h7v7h-7zM394 1122h7v7h-7zM392 938h7v7h-7zM384 1009h7v7h-7zM388 920h7v7h-7zM389 1135h7v7h-7zM381 1127h7v7h-7zM383 856h7v7h-7zM384 888h7v7h-7zM392 858h7v7h-7zM383 1047h7v7h-7zM380 822h7v7h-7zM381 1069h7v7h-7zM387 768h7v7h-7zM393 845h7v7h-7zM394 826h7v7h-7zM385 803h7v7h-7zM390 925h7v7h-7zM385 1034h7v7h-7zM380 786h7v7h-7zM385 974h7v7h-7zM388 964h7v7h-7zM382 947h7v7h-7zM392 787h7v7h-7zM392 1057h7v7h-7zM387 789h7v7h-7zM389 1131h7v7h-7zM385 890h7v7h-7zM381 884h7v7h-7zM384 969h7v7h-7zM390 958h7v7h-7zM399 775h7v7h-7zM386 757h7v7h-7zM381 983h7v7h-7zM389 1026h7v7h-7zM382 773h7v7h-7zM388 926h7v7h-7zM384 1044h7v7h-7zM381 968h7v7h-7zM388 924h7v7h-7zM384 863h7v7h-7zM382 1075h7v7h-7zM392 897h7v7h-7zM382 801h7v7h-7zM389 950h7v7h-7zM387 1135h7v7h-7zM381 954h7v7h-7zM390 1062h7v7h-7zM392 977h7v7h-7zM391 1032h7v7h-7zM384 1050h7v7h-7zM389 901h7v7h-7zM382 801h7v7h-7zM381 1053h7v7h-7zM384 806h7v7h-7zM382 1099h7v7h-7zM387 786h7v7h-7zM382 1098h7v7h-7zM383 800h7v7h-7zM391 761h7v7h-7zM389 826h7v7h-7zM387 750h7v7h-7zM390 1065h7v7h-7zM389 1016h7v7h-7zM383 810h7v7h-7zM388 909h7v7h-7zM381 971h7v7h-7zM394 819h7v7h-7zM394 800h7v7h-7zM386 1108h7v7h-7zM391 824h7v7h-7zM687 780h7v7h-7zM617 762h7v7h-7zM574 986h7v7h-7zM568 825h7v7h-7zM608 846h7v7h-7zM534 1079h7v7h-7zM495 759h7v7h-7zM577 748h7v7h-7zM617 804h7v7h-7zM433 890h7v7h-7zM614 867h7v7h-7zM401 832h7v7h-7zM634 797h7v7h-7zM592 789h7v7h-7zM656 855h7v7h-7zM631 903h7v7h-7zM629 824h7v7h-7zM641 935h7v7h-7zM665 816h7v7h-7zM485 978h7v7h-7zM648 986h7v7h-7zM570 1105h7v7h-7zM655 911h7v7h-7zM591 788h7v7h-7zM622 923h7v7h-7zM511 788h7v7h-7zM574 827h7v7h-7zM606 857h7v7h-7zM408 889h7v7h-7zM663 874h7v7h-7zM647 1015h7v7h-7zM543 825h7v7h-7zM635 1021h7v7h-7zM429 805h7v7h-7zM486 886h7v7h-7zM598 953h7v7h-7zM462 1043h7v7h-7zM622 860h7v7h-7zM587 810h7v7h-7zM564 959h7v7h-7zM421 911h7v7h-7zM582 777h7v7h-7zM659 826h7v7h-7zM590 891h7v7h-7zM614 874h7v7h-7zM615 866h7v7h-7zM558 957h7v7h-7zM661 837h7v7h-7zM644 896h7v7h-7zM576 749h7v7h-7zM474 822h7v7h-7zM644 777h7v7h-7zM628 754h7v7h-7zM506 963h7v7h-7zM680 844h7v7h-7zM649 895h7v7h-7zM520 862h7v7h-7zM648 791h7v7h-7zM572 847h7v7h-7zM503 949h7v7h-7zM517 891h7v7h-7zM636 922h7v7h-7zM683 786h7v7h-7zM579 971h7v7h-7zM645 752h7v7h-7zM522 932h7v7h-7zM613 746h7v7h-7zM658 796h7v7h-7zM567 904h7v7h-7zM552 779h7v7h-7zM559 933h7v7h-7zM513 1067h7v7h-7zM521 1003h7v7h-7zM474 763h7v7h-7zM666 821h7v7h-7zM608 754h7v7h-7zM576 1026h7v7h-7zM480 776h7v7h-7zM455 849h7v7h-7zM586 767h7v7h-7zM646 893h7v7h-7zM430 860h7v7h-7zM435 955h7v7h-7zM604 755h7v7h-7zM638 878h7v7h-7zM580 987h7v7h-7zM617 836h7v7h-7zM640 865h7v7h-7zM562 883h7v7h-7zM549 878h7v7h-7zM642 774h7v7h-7zM647 764h7v7h-7zM587 925h7v7h-7zM652 897h7v7h-7zM617 869h7v7h-7zM459 925h7v7h-7zM519 1038h7v7h-7zM488 852h7v7h-7zM680 805h7v7h-7zM539 1026h7v7h-7zM586 922h7v7h-7zM505 932h7v7h-7zM633 814h7v7h-7zM556 974h7v7h-7zM679 796h7v7h-7zM538 928h7v7h-7zM445 1001h7v7h-7zM584 880h7v7h-7zM523 872h7v7h-7zM612 1017h7v7h-7zM613 910h7v7h-7zM615 819h7v7h-7zM554 883h7v7h-7zM520 756h7v7h-7zM593 1001h7v7h-7zM618 948h7v7h-7zM677 801h7v7h-7zM672 889h7v7h-7zM586 770h7v7h-7zM482 778h7v7h-7zM653 910h7v7h-7zM677 812h7v7h-7zM495 932h7v7h-7zM545 897h7v7h-7zM654 847h7v7h-7zM486 858h7v7h-7zM588 756h7v7h-7zM604 831h7v7h-7zM559 797h7v7h-7zM527 750h7v7h-7zM646 1037h7v7h-7zM681 848h7v7h-7zM599 778h7v7h-7zM412 847h7v7h-7zM614 1121h7v7h-7zM584 805h7v7h-7zM629 1015h7v7h-7zM655 912h7v7h-7zM602 815h7v7h-7zM495 798h7v7h-7zM511 890h7v7h-7zM594 830h7v7h-7zM539 897h7v7h-7zM641 785h7v7h-7zM598 847h7v7h-7zM532 778h7v7h-7zM605 989h7v7h-7zM474 914h7v7h-7zM681 801h7v7h-7zM587 863h7v7h-7zM614 1136h7v7h-7zM598 891h7v7h-7zM508 834h7v7h-7zM578 848h7v7h-7zM502 1027h7v7h-7zM519 1031h7v7h-7zM507 1075h7v7h-7zM575 886h7v7h-7zM612 880h7v7h-7zM561 796h7v7h-7zM563 841h7v7h-7zM603 803h7v7h-7zM533 809h7v7h-7zM641 1066h7v7h-7zM583 867h7v7h-7zM580 986h7v7h-7zM511 810h7v7h-7zM602 920h7v7h-7zM445 820h7v7h-7zM519 916h7v7h-7zM621 1095h7v7h-7zM632 895h7v7h-7zM648 932h7v7h-7zM645 868h7v7h-7zM503 958h7v7h-7zM611 1015h7v7h-7zM523 753h7v7h-7zM677 884h7v7h-7zM602 880h7v7h-7zM646 759h7v7h-7zM526 1065h7v7h-7zM550 756h7v7h-7zM551 964h7v7h-7zM607 898h7v7h-7zM550 865h7v7h-7zM620 823h7v7h-7zM670 823h7v7h-7zM627 748h7v7h-7zM403 786h7v7h-7zM652 840h7v7h-7zM590 954h7v7h-7zM562 907h7v7h-7zM593 817h7v7h-7zM564 831h7v7h-7zM626 748h7v7h-7zM513 1034h7v7h-7zM633 1036h7v7h-7zM503 763h7v7h-7zM629 868h7v7h-7zM620 761h7v7h-7zM507 827h7v7h-7zM606 980h7v7h-7zM487 1016h7v7h-7zM614 806h7v7h-7zM674 773h7v7h-7zM517 808h7v7h-7zM467 821h7v7h-7zM606 1000h7v7h-7zM599 779h7v7h-7zM572 817h7v7h-7zM658 872h7v7h-7zM625 750h7v7h-7zM584 754h7v7h-7zM553 802h7v7h-7zM547 890h7v7h-7zM626 1026h7v7h-7zM638 867h7v7h-7zM424 869h7v7h-7zM543 960h7v7h-7zM468 838h7v7h-7zM592 948h7v7h-7zM576 802h7v7h-7zM434 981h7v7h-7zM643 808h7v7h-7zM577 837h7v7h-7zM426 857h7v7h-7zM537 753h7v7h-7zM512 987h7v7h-7zM637 775h7v7h-7zM596 811h7v7h-7zM557 1074h7v7h-7zM567 914h7v7h-7zM481 1062h7v7h-7zM642 866h7v7h-7zM585 801h7v7h-7zM660 854h7v7h-7zM549 843h7v7h-7zM593 1073h7v7h-7zM628 815h7v7h-7zM669 829h7v7h-7zM596 820h7v7h-7zM612 825h7v7h-7zM648 755h7v7h-7zM400 811h7v7h-7zM625 799h7v7h-7zM642 790h7v7h-7zM598 980h7v7h-7zM578 888h7v7h-7zM499 845h7v7h-7zM462 930h7v7h-7zM496 815h7v7h-7zM571 1072h7v7h-7zM579 1119h7v7h-7zM590 762h7v7h-7zM681 807h7v7h-7zM623 753h7v7h-7zM505 861h7v7h-7zM581 844h7v7h-7zM523 782h7v7h-7zM647 934h7v7h-7zM649 1019h7v7h-7zM667 848h7v7h-7zM606 1063h7v7h-7zM664 829h7v7h-7zM654 811h7v7h-7zM571 852h7v7h-7zM509 908h7v7h-7zM652 957h7v7h-7zM509 1089h7v7h-7zM664 869h7v7h-7zM632 902h7v7h-7zM526 880h7v7h-7zM603 778h7v7h-7zM629 852h7v7h-7zM487 898h7v7h-7zM655 769h7v7h-7zM487 913h7v7h-7zM583 765h7v7h-7zM549 841h7v7h-7zM553 835h7v7h-7zM629 893h7v7h-7zM455 893h7v7h-7zM673 882h7v7h-7zM480 827h7v7h-7zM674 862h7v7h-7zM664 807h7v7h-7zM612 904h7v7h-7zM619 1027h7v7h-7zM560 799h7v7h-7zM494 1060h7v7h-7zM618 787h7v7h-7zM623 788h7v7h-7zM590 969h7v7h-7zM609 1114h7v7h-7zM601 793h7v7h-7zM602 1002h7v7h-7zM620 1016h7v7h-7zM598 757h7v7h-7zM629 927h7v7h-7zM560 891h7v7h-7zM652 921h7v7h-7zM662 827h7v7h-7zM540 813h7v7h-7zM615 780h7v7h-7zM530 1071h7v7h-7zM641 812h7v7h-7zM554 1101h7v7h-7zM638 894h7v7h-7zM473 949h7v7h-7zM678 817h7v7h-7zM419 929h7v7h-7zM520 933h7v7h-7zM624 897h7v7h-7zM449 915h7v7h-7zM406 845h7v7h-7zM492 966h7v7h-7zM569 879h7v7h-7zM561 790h7v7h-7zM532 789h7v7h-7zM583 1117h7v7h-7zM657 794h7v7h-7zM644 823h7v7h-7zM596 818h7v7h-7zM621 814h7v7h-7zM442 792h7v7h-7zM628 1024h7v7h-7zM506 883h7v7h-7zM496 861h7v7h-7zM567 789h7v7h-7zM604 814h7v7h-7zM582 861h7v7h-7zM629 1057h7v7h-7zM533 790h7v7h-7zM677 798h7v7h-7zM663 914h7v7h-7zM609 970h7v7h-7zM540 786h7v7h-7zM615 841h7v7h-7zM641 929h7v7h-7zM472 808h7v7h-7zM589 921h7v7h-7zM597 884h7v7h-7zM534 779h7v7h-7zM587 899h7v7h-7zM629 914h7v7h-7zM577 1015h7v7h-7zM513 1044h7v7h-7zM544 924h7v7h-7zM626 847h7v7h-7zM569 871h7v7h-7zM681 832h7v7h-7zM627 784h7v7h-7zM527 1104h7v7h-7zM562 881h7v7h-7zM445 949h7v7h-7zM634 871h7v7h-7zM633 830h7v7h-7zM527 761h7v7h-7zM595 882h7v7h-7zM525 821h7v7h-7zM626 909h7v7h-7zM516 1100h7v7h-7zM640 796h7v7h-7zM662 808h7v7h-7zM634 825h7v7h-7zM594 770h7v7h-7zM637 854h7v7h-7zM456 844h7v7h-7zM521 854h7v7h-7zM580 820h7v7h-7zM558 855h7v7h-7zM585 1104h7v7h-7zM403 847h7v7h-7zM553 782h7v7h-7zM603 1028h7v7h-7zM552 775h7v7h-7zM455 885h7v7h-7zM587 854h7v7h-7zM471 864h7v7h-7zM648 886h7v7h-7zM632 922h7v7h-7zM567 1040h7v7h-7zM651 960h7v7h-7zM442 1025h7v7h-7zM511 789h7v7h-7zM550 870h7v7h-7zM563 846h7v7h-7zM562 759h7v7h-7zM613 813h7v7h-7zM683 818h7v7h-7zM607 821h7v7h-7zM683 833h7v7h-7zM558 881h7v7h-7zM593 847h7v7h-7zM675 787h7v7h-7zM518 813h7v7h-7zM513 1076h7v7h-7zM553 1133h7v7h-7zM650 821h7v7h-7zM587 979h7v7h-7zM613 788h7v7h-7zM610 807h7v7h-7zM537 978h7v7h-7zM607 758h7v7h-7zM507 859h7v7h-7zM467 996h7v7h-7zM558 1079h7v7h-7zM550 890h7v7h-7zM556 832h7v7h-7zM614 910h7v7h-7zM658 766h7v7h-7zM598 795h7v7h-7zM557 894h7v7h-7zM662 933h7v7h-7zM641 785h7v7h-7zM679 856h7v7h-7zM649 802h7v7h-7zM657 800h7v7h-7zM637 1076h7v7h-7zM523 757h7v7h-7zM607 877h7v7h-7zM606 866h7v7h-7zM589 1026h7v7h-7zM543 1123h7v7h-7zM454 782h7v7h-7zM637 922h7v7h-7zM610 808h7v7h-7zM605 826h7v7h-7zM416 846h7v7h-7zM659 827h7v7h-7zM587 867h7v7h-7zM588 786h7v7h-7zM659 842h7v7h-7zM562 840h7v7h-7zM561 897h7v7h-7zM520 804h7v7h-7zM641 787h7v7h-7zM611 879h7v7h-7zM410 967h7v7h-7zM631 758h7v7h-7zM604 1082h7v7h-7zM606 982h7v7h-7zM570 752h7v7h-7zM504 1027h7v7h-7zM565 1059h7v7h-7zM634 752h7v7h-7zM534 934h7v7h-7zM523 822h7v7h-7zM548 818h7v7h-7zM616 925h7v7h-7zM623 813h7v7h-7zM537 907h7v7h-7zM581 903h7v7h-7zM536 774h7v7h-7zM597 916h7v7h-7zM582 979h7v7h-7zM648 814h7v7h-7zM626 846h7v7h-7zM412 892h7v7h-7zM496 842h7v7h-7zM505 897h7v7h-7zM417 811h7v7h-7zM566 890h7v7h-7zM481 976h7v7h-7zM649 875h7v7h-7zM652 795h7v7h-7zM593 767h7v7h-7zM626 971h7v7h-7zM603 867h7v7h-7zM456 756h7v7h-7zM678 788h7v7h-7zM549 765h7v7h-7zM447 827h7v7h-7zM664 894h7v7h-7zM625 888h7v7h-7zM662 830h7v7h-7zM595 878h7v7h-7zM585 1010h7v7h-7zM595 917h7v7h-7zM531 912h7v7h-7zM614 869h7v7h-7zM595 965h7v7h-7zM614 986h7v7h-7zM523 848h7v7h-7zM441 1032h7v7h-7zM632 751h7v7h-7zM643 996h7v7h-7zM604 832h7v7h-7zM477 1057h7v7h-7zM647 849h7v7h-7zM622 1072h7v7h-7zM595 966h7v7h-7zM634 770h7v7h-7zM604 982h7v7h-7zM583 745h7v7h-7zM606 999h7v7h-7zM656 800h7v7h-7zM587 854h7v7h-7zM478 996h7v7h-7zM615 929h7v7h-7zM456 955h7v7h-7zM506 1060h7v7h-7zM544 751h7v7h-7zM605 859h7v7h-7zM633 961h7v7h-7zM635 751h7v7h-7zM644 800h7v7h-7zM565 939h7v7h-7zM530 857h7v7h-7zM656 911h7v7h-7zM584 816h7v7h-7zM575 866h7v7h-7zM657 835h7v7h-7zM585 938h7v7h-7zM426 869h7v7h-7zM662 870h7v7h-7zM513 859h7v7h-7zM576 799h7v7h-7zM583 988h7v7h-7zM496 870h7v7h-7zM569 830h7v7h-7zM415 787h7v7h-7zM635 853h7v7h-7zM448 892h7v7h-7zM449 921h7v7h-7zM631 802h7v7h-7zM467 1017h7v7h-7zM577 900h7v7h-7zM638 761h7v7h-7zM656 794h7v7h-7zM638 953h7v7h-7zM533 938h7v7h-7zM654 934h7v7h-7zM565 960h7v7h-7zM599 1090h7v7h-7zM541 749h7v7h-7zM571 803h7v7h-7zM595 777h7v7h-7zM604 928h7v7h-7zM581 942h7v7h-7zM620 856h7v7h-7zM682 793h7v7h-7zM445 867h7v7h-7zM418 961h7v7h-7zM567 749h7v7h-7zM563 1052h7v7h-7zM532 758h7v7h-7zM612 892h7v7h-7zM521 920h7v7h-7zM544 893h7v7h-7zM413 860h7v7h-7zM482 933h7v7h-7zM651 954h7v7h-7zM663 856h7v7h-7zM610 857h7v7h-7zM528 917h7v7h-7zM538 816h7v7h-7zM508 882h7v7h-7zM515 856h7v7h-7zM624 931h7v7h-7zM632 747h7v7h-7zM563 767h7v7h-7zM589 830h7v7h-7zM603 951h7v7h-7zM592 805h7v7h-7zM603 764h7v7h-7zM657 852h7v7h-7zM419 869h7v7h-7zM649 753h7v7h-7zM612 803h7v7h-7zM609 1051h7v7h-7zM468 1040h7v7h-7zM650 816h7v7h-7zM471 895h7v7h-7zM575 959h7v7h-7zM559 914h7v7h-7zM563 904h7v7h-7zM587 765h7v7h-7zM568 827h7v7h-7zM535 1089h7v7h-7zM478 936h7v7h-7zM610 837h7v7h-7zM403 902h7v7h-7zM611 858h7v7h-7zM500 798h7v7h-7zM626 1066h7v7h-7zM617 811h7v7h-7zM458 1007h7v7h-7zM646 841h7v7h-7zM535 923h7v7h-7zM560 933h7v7h-7zM552 1107h7v7h-7zM637 987h7v7h-7zM566 969h7v7h-7zM443 865h7v7h-7zM600 876h7v7h-7zM533 990h7v7h-7zM425 923h7v7h-7zM599 818h7v7h-7zM592 996h7v7h-7zM621 948h7v7h-7zM521 800h7v7h-7zM630 919h7v7h-7zM564 880h7v7h-7zM561 838h7v7h-7zM538 837h7v7h-7zM424 780h7v7h-7zM628 880h7v7h-7zM548 1112h7v7h-7zM573 928h7v7h-7zM571 804h7v7h-7zM411 903h7v7h-7zM646 803h7v7h-7zM410 921h7v7h-7zM555 892h7v7h-7zM556 798h7v7h-7zM547 916h7v7h-7zM596 799h7v7h-7zM607 1124h7v7h-7zM629 768h7v7h-7zM659 837h7v7h-7zM647 983h7v7h-7zM635 991h7v7h-7zM629 757h7v7h-7zM574 919h7v7h-7zM454 879h7v7h-7zM514 1019h7v7h-7zM629 794h7v7h-7zM458 878h7v7h-7zM637 750h7v7h-7zM513 998h7v7h-7zM538 990h7v7h-7zM593 1057h7v7h-7zM633 934h7v7h-7zM640 768h7v7h-7zM550 811h7v7h-7zM617 934h7v7h-7zM511 829h7v7h-7zM427 803h7v7h-7zM423 939h7v7h-7zM518 755h7v7h-7zM488 801h7v7h-7zM639 763h7v7h-7zM614 816h7v7h-7zM605 855h7v7h-7zM609 1125h7v7h-7zM673 811h7v7h-7zM626 940h7v7h-7zM499 909h7v7h-7zM593 755h7v7h-7zM526 832h7v7h-7zM510 1020h7v7h-7zM490 938h7v7h-7zM564 936h7v7h-7zM567 848h7v7h-7zM675 799h7v7h-7zM551 787h7v7h-7zM454 1018h7v7h-7zM646 764h7v7h-7zM581 828h7v7h-7zM644 1040h7v7h-7zM613 801h7v7h-7zM654 903h7v7h-7zM528 824h7v7h-7zM485 776h7v7h-7zM620 826h7v7h-7zM400 802h7v7h-7zM508 961h7v7h-7zM561 833h7v7h-7zM644 841h7v7h-7zM519 894h7v7h-7zM485 846h7v7h-7zM459 1047h7v7h-7zM481 1073h7v7h-7zM644 814h7v7h-7zM641 893h7v7h-7zM538 784h7v7h-7zM681 797h7v7h-7zM636 750h7v7h-7zM577 1129h7v7h-7zM514 1081h7v7h-7zM642 935h7v7h-7zM483 927h7v7h-7zM536 911h7v7h-7zM452 831h7v7h-7zM628 865h7v7h-7zM543 887h7v7h-7zM541 841h7v7h-7zM645 824h7v7h-7zM569 834h7v7h-7zM616 925h7v7h-7zM581 760h7v7h-7zM616 971h7v7h-7zM553 784h7v7h-7zM447 925h7v7h-7zM611 789h7v7h-7zM606 949h7v7h-7zM595 922h7v7h-7zM614 1038h7v7h-7zM626 891h7v7h-7zM685 794h7v7h-7zM415 766h7v7h-7zM596 772h7v7h-7zM651 927h7v7h-7zM622 772h7v7h-7zM579 867h7v7h-7zM543 962h7v7h-7zM618 844h7v7h-7zM667 807h7v7h-7zM430 777h7v7h-7zM543 815h7v7h-7zM554 1106h7v7h-7zM624 876h7v7h-7zM639 837h7v7h-7zM469 843h7v7h-7zM439 842h7v7h-7zM435 1009h7v7h-7zM593 837h7v7h-7zM546 888h7v7h-7zM631 846h7v7h-7zM682 808h7v7h-7zM645 764h7v7h-7zM440 896h7v7h-7zM545 815h7v7h-7zM600 934h7v7h-7zM639 810h7v7h-7zM648 766h7v7h-7zM640 794h7v7h-7zM587 829h7v7h-7zM418 925h7v7h-7zM628 927h7v7h-7zM617 953h7v7h-7zM610 842h7v7h-7zM424 857h7v7h-7zM392 972h7v7h-7zM408 1008h7v7h-7zM388 984h7v7h-7zM399 1001h7v7h-7zM420 1113h7v7h-7zM459 1138h7v7h-7zM408 1055h7v7h-7zM422 1092h7v7h-7zM390 1016h7v7h-7zM387 1141h7v7h-7zM391 1132h7v7h-7zM442 1117h7v7h-7zM532 1154h7v7h-7zM418 1073h7v7h-7zM439 1080h7v7h-7zM470 1105h7v7h-7zM445 1097h7v7h-7zM445 1170h7v7h-7zM398 978h7v7h-7zM448 1100h7v7h-7zM415 1138h7v7h-7zM394 1071h7v7h-7zM410 1112h7v7h-7zM453 1156h7v7h-7zM393 960h7v7h-7zM461 1120h7v7h-7zM445 1166h7v7h-7zM455 1162h7v7h-7zM439 1157h7v7h-7zM451 1061h7v7h-7zM418 1126h7v7h-7zM402 1100h7v7h-7zM536 1161h7v7h-7zM392 995h7v7h-7zM431 1034h7v7h-7zM439 1142h7v7h-7zM540 1132h7v7h-7zM585 1166h7v7h-7zM384 1083h7v7h-7zM394 967h7v7h-7zM446 1066h7v7h-7zM469 1072h7v7h-7zM407 980h7v7h-7zM448 1103h7v7h-7zM457 1142h7v7h-7zM417 1053h7v7h-7zM409 980h7v7h-7zM576 1171h7v7h-7zM398 1156h7v7h-7zM415 1140h7v7h-7zM428 1043h7v7h-7zM414 1102h7v7h-7zM434 1086h7v7h-7zM413 1158h7v7h-7zM408 1071h7v7h-7zM432 1066h7v7h-7zM391 1068h7v7h-7zM395 979h7v7h-7zM397 1059h7v7h-7zM411 1087h7v7h-7zM400 1082h7v7h-7zM420 1151h7v7h-7zM396 1027h7v7h-7zM496 1140h7v7h-7zM456 1157h7v7h-7zM415 1107h7v7h-7zM418 1071h7v7h-7zM428 1061h7v7h-7zM439 1116h7v7h-7zM445 1117h7v7h-7zM428 1105h7v7h-7zM496 1143h7v7h-7zM384 1058h7v7h-7zM427 1016h7v7h-7zM427 1137h7v7h-7zM413 1080h7v7h-7zM468 1096h7v7h-7zM426 1114h7v7h-7zM461 1165h7v7h-7zM461 1101h7v7h-7zM424 1022h7v7h-7zM401 1116h7v7h-7zM438 1088h7v7h-7zM422 1088h7v7h-7zM397 1033h7v7h-7zM562 1145h7v7h-7zM387 1141h7v7h-7zM440 1168h7v7h-7zM445 1129h7v7h-7zM406 1048h7v7h-7zM504 1150h7v7h-7zM428 1038h7v7h-7zM414 1069h7v7h-7zM386 1094h7v7h-7zM473 1159h7v7h-7zM400 1001h7v7h-7zM475 1102h7v7h-7zM387 1126h7v7h-7zM391 1030h7v7h-7zM397 994h7v7h-7zM465 1125h7v7h-7zM432 1072h7v7h-7zM401 1167h7v7h-7zM397 1173h7v7h-7zM433 1145h7v7h-7zM409 1154h7v7h-7zM383 1096h7v7h-7zM425 1101h7v7h-7zM640 1125h7v7h-7zM419 1096h7v7h-7zM387 1001h7v7h-7zM407 977h7v7h-7zM426 1029h7v7h-7zM453 1110h7v7h-7zM423 1158h7v7h-7zM412 1057h7v7h-7zM387 1081h7v7h-7zM406 1142h7v7h-7zM408 1013h7v7h-7zM408 1123h7v7h-7zM431 1131h7v7h-7zM388 1108h7v7h-7zM399 1170h7v7h-7zM424 1113h7v7h-7zM395 1048h7v7h-7zM402 1099h7v7h-7zM392 1156h7v7h-7zM430 1115h7v7h-7zM398 1086h7v7h-7zM413 1062h7v7h-7zM444 1170h7v7h-7zM414 1016h7v7h-7zM424 1097h7v7h-7zM507 1164h7v7h-7zM406 970h7v7h-7zM400 1038h7v7h-7zM406 1015h7v7h-7zM415 1105h7v7h-7zM467 1110h7v7h-7zM400 993h7v7h-7zM410 1173h7v7h-7zM422 1117h7v7h-7zM396 1082h7v7h-7zM414 1071h7v7h-7zM384 961h7v7h-7zM435 1042h7v7h-7zM494 1100h7v7h-7zM405 1025h7v7h-7zM446 1105h7v7h-7zM460 1158h7v7h-7zM438 1041h7v7h-7zM459 1134h7v7h-7zM401 973h7v7h-7zM451 1133h7v7h-7zM441 1039h7v7h-7zM411 1073h7v7h-7zM451 1080h7v7h-7zM536 1131h7v7h-7zM411 1085h7v7h-7zM470 1152h7v7h-7zM461 1143h7v7h-7zM442 1114h7v7h-7zM393 967h7v7h-7zM396 1040h7v7h-7zM493 1093h7v7h-7zM402 1063h7v7h-7zM442 1172h7v7h-7zM462 1061h7v7h-7zM446 1121h7v7h-7zM416 1055h7v7h-7zM408 1008h7v7h-7zM416 1148h7v7h-7zM439 1099h7v7h-7zM449 1056h7v7h-7zM418 1091h7v7h-7zM446 1077h7v7h-7zM388 1026h7v7h-7zM404 1164h7v7h-7zM406 1153h7v7h-7zM405 1039h7v7h-7zM454 1144h7v7h-7zM404 992h7v7h-7zM408 992h7v7h-7zM430 1074h7v7h-7zM385 1104h7v7h-7zM476 1109h7v7h-7zM404 1127h7v7h-7zM497 1121h7v7h-7zM438 1168h7v7h-7zM396 1012h7v7h-7zM391 1135h7v7h-7zM443 1070h7v7h-7zM410 1060h7v7h-7zM439 1125h7v7h-7zM427 1053h7v7h-7zM396 1147h7v7h-7zM426 1013h7v7h-7zM471 1174h7v7h-7zM409 1164h7v7h-7zM394 1005h7v7h-7zM442 1037h7v7h-7zM383 1025h7v7h-7zM478 1085h7v7h-7zM414 1027h7v7h-7zM439 1101h7v7h-7zM421 1011h7v7h-7zM397 1122h7v7h-7zM466 1134h7v7h-7zM465 1085h7v7h-7zM387 1027h7v7h-7zM386 1004h7v7h-7zM415 1053h7v7h-7zM388 1119h7v7h-7zM454 1154h7v7h-7zM394 1080h7v7h-7zM421 1056h7v7h-7zM392 1018h7v7h-7zM511 1115h7v7h-7zM409 1157h7v7h-7zM404 1144h7v7h-7zM459 1148h7v7h-7zM405 1060h7v7h-7zM470 1088h7v7h-7zM392 1007h7v7h-7zM411 1122h7v7h-7zM397 1171h7v7h-7zM410 1061h7v7h-7zM411 1038h7v7h-7zM387 1167h7v7h-7zM453 1079h7v7h-7zM464 1115h7v7h-7zM395 963h7v7h-7zM447 1143h7v7h-7zM387 978h7v7h-7zM455 1169h7v7h-7zM404 1106h7v7h-7zM413 1006h7v7h-7zM449 1137h7v7h-7zM383 1118h7v7h-7zM402 1123h7v7h-7zM522 1155h7v7h-7zM420 1142h7v7h-7zM392 1014h7v7h-7zM439 1073h7v7h-7zM395 1142h7v7h-7zM408 1038h7v7h-7zM436 1162h7v7h-7zM434 1068h7v7h-7zM384 1062h7v7h-7zM477 1126h7v7h-7zM392 984h7v7h-7zM395 1169h7v7h-7zM440 1097h7v7h-7zM421 1081h7v7h-7zM406 1041h7v7h-7zM447 1056h7v7h-7zM404 1114h7v7h-7zM432 1026h7v7h-7zM411 992h7v7h-7zM438 1083h7v7h-7zM392 1032h7v7h-7zM424 1142h7v7h-7zM392 970h7v7h-7zM423 1147h7v7h-7zM388 1063h7v7h-7zM523 1162h7v7h-7zM467 1170h7v7h-7zM411 1073h7v7h-7zM469 1114h7v7h-7zM523 1169h7v7h-7zM393 982h7v7h-7zM553 1162h7v7h-7zM399 1116h7v7h-7zM590 1168h7v7h-7zM485 1174h7v7h-7zM501 1131h7v7h-7zM458 1147h7v7h-7zM398 1123h7v7h-7zM403 973h7v7h-7zM452 1171h7v7h-7zM384 1147h7v7h-7zM451 1083h7v7h-7zM403 1089h7v7h-7zM419 1119h7v7h-7zM393 1172h7v7h-7zM459 1105h7v7h-7zM427 1050h7v7h-7zM466 1156h7v7h-7zM395 1086h7v7h-7zM465 1103h7v7h-7zM450 1068h7v7h-7zM447 1117h7v7h-7zM421 1100h7v7h-7zM449 1082h7v7h-7zM483 1143h7v7h-7zM438 1112h7v7h-7zM428 1088h7v7h-7zM414 1029h7v7h-7zM391 960h7v7h-7zM411 1149h7v7h-7zM385 985h7v7h-7zM415 1078h7v7h-7zM485 1168h7v7h-7zM446 1049h7v7h-7zM482 1168h7v7h-7zM537 1157h7v7h-7zM475 1163h7v7h-7zM406 994h7v7h-7zM384 1077h7v7h-7zM463 1069h7v7h-7zM400 1099h7v7h-7zM383 1093h7v7h-7zM387 1107h7v7h-7zM437 1152h7v7h-7zM477 1101h7v7h-7zM401 1155h7v7h-7zM439 1114h7v7h-7zM384 1152h7v7h-7zM388 1126h7v7h-7zM424 1017h7v7h-7zM442 1095h7v7h-7zM433 1096h7v7h-7zM385 1138h7v7h-7zM468 1152h7v7h-7zM449 1104h7v7h-7zM394 1037h7v7h-7zM401 1103h7v7h-7zM399 1089h7v7h-7zM441 1132h7v7h-7zM415 1029h7v7h-7zM391 978h7v7h-7zM389 1078h7v7h-7zM430 1155h7v7h-7zM410 1053h7v7h-7zM452 1097h7v7h-7zM401 1121h7v7h-7zM407 1092h7v7h-7zM387 970h7v7h-7zM440 1047h7v7h-7zM487 1125h7v7h-7zM427 1140h7v7h-7zM400 974h7v7h-7zM384 1089h7v7h-7zM391 1111h7v7h-7zM498 1106h7v7h-7zM404 1133h7v7h-7zM449 1094h7v7h-7zM390 1115h7v7h-7zM405 1012h7v7h-7zM393 1079h7v7h-7zM475 1118h7v7h-7zM396 1047h7v7h-7zM451 1149h7v7h-7zM418 1103h7v7h-7zM394 997h7v7h-7zM488 1147h7v7h-7zM489 1171h7v7h-7zM454 1153h7v7h-7zM515 1126h7v7h-7zM435 1148h7v7h-7zM479 1083h7v7h-7zM406 1078h7v7h-7zM387 1039h7v7h-7zM404 1125h7v7h-7zM389 1060h7v7h-7zM418 998h7v7h-7zM415 1150h7v7h-7zM398 1108h7v7h-7zM469 1119h7v7h-7zM432 1163h7v7h-7zM421 1167h7v7h-7zM426 1167h7v7h-7zM452 1098h7v7h-7zM479 1084h7v7h-7zM416 998h7v7h-7zM440 1146h7v7h-7zM402 1028h7v7h-7zM452 1149h7v7h-7zM476 1091h7v7h-7zM399 1099h7v7h-7zM395 1148h7v7h-7zM500 1141h7v7h-7zM413 1169h7v7h-7zM396 1096h7v7h-7zM405 1125h7v7h-7zM394 1020h7v7h-7zM393 1015h7v7h-7zM399 1057h7v7h-7zM436 1105h7v7h-7zM409 1007h7v7h-7zM643 1103h7v7h-7zM391 1006h7v7h-7zM432 1147h7v7h-7zM405 1021h7v7h-7zM432 1108h7v7h-7zM450 1105h7v7h-7zM399 994h7v7h-7zM473 1102h7v7h-7zM398 1138h7v7h-7zM407 1163h7v7h-7zM384 1013h7v7h-7zM395 1074h7v7h-7zM388 1101h7v7h-7zM383 1052h7v7h-7zM416 1082h7v7h-7zM448 1047h7v7h-7zM451 1082h7v7h-7zM426 1014h7v7h-7zM396 1117h7v7h-7zM441 1125h7v7h-7zM417 1019h7v7h-7zM438 1073h7v7h-7zM412 1122h7v7h-7zM422 1168h7v7h-7zM395 1152h7v7h-7zM422 1118h7v7h-7zM408 984h7v7h-7zM476 1114h7v7h-7zM495 1165h7v7h-7zM390 1035h7v7h-7zM424 1150h7v7h-7zM385 1114h7v7h-7zM500 1110h7v7h-7zM388 1059h7v7h-7zM515 1139h7v7h-7zM394 995h7v7h-7zM442 1164h7v7h-7zM428 1173h7v7h-7zM385 1035h7v7h-7zM385 1044h7v7h-7zM394 1050h7v7h-7zM386 1169h7v7h-7zM405 1098h7v7h-7zM438 1057h7v7h-7zM406 1125h7v7h-7zM411 996h7v7h-7zM438 1159h7v7h-7zM427 1049h7v7h-7zM393 1016h7v7h-7zM416 1051h7v7h-7zM406 1140h7v7h-7zM399 972h7v7h-7zM398 1057h7v7h-7zM416 1107h7v7h-7zM458 1074h7v7h-7zM452 1100h7v7h-7zM439 1136h7v7h-7zM404 1163h7v7h-7zM579 1169h7v7h-7zM432 1107h7v7h-7zM387 992h7v7h-7zM411 982h7v7h-7zM390 1165h7v7h-7zM415 1015h7v7h-7zM403 1162h7v7h-7zM399 1126h7v7h-7zM396 983h7v7h-7zM391 1069h7v7h-7zM388 1035h7v7h-7zM449 1067h7v7h-7zM468 1154h7v7h-7zM396 1023h7v7h-7zM408 1138h7v7h-7zM421 1048h7v7h-7zM383 1039h7v7h-7zM397 989h7v7h-7zM399 1082h7v7h-7zM426 1144h7v7h-7zM419 1106h7v7h-7zM465 1165h7v7h-7zM424 1032h7v7h-7zM412 1057h7v7h-7zM386 1043h7v7h-7zM389 1103h7v7h-7zM469 1174h7v7h-7zM397 1122h7v7h-7zM412 997h7v7h-7zM438 1041h7v7h-7zM796 860h7v7h-7zM804 1017h7v7h-7zM779 770h7v7h-7zM674 958h7v7h-7zM733 805h7v7h-7zM774 796h7v7h-7zM687 949h7v7h-7zM690 967h7v7h-7zM789 883h7v7h-7zM793 875h7v7h-7zM849 1055h7v7h-7zM658 747h7v7h-7zM645 1126h7v7h-7zM794 750h7v7h-7zM657 1105h7v7h-7zM715 1038h7v7h-7zM706 986h7v7h-7zM690 845h7v7h-7zM761 743h7v7h-7zM671 941h7v7h-7zM773 822h7v7h-7zM681 744h7v7h-7zM746 974h7v7h-7zM853 792h7v7h-7zM731 1147h7v7h-7zM842 994h7v7h-7zM856 1010h7v7h-7zM836 953h7v7h-7zM737 999h7v7h-7zM680 878h7v7h-7zM697 1169h7v7h-7zM740 1021h7v7h-7zM745 762h7v7h-7zM814 817h7v7h-7zM827 983h7v7h-7zM753 928h7v7h-7zM650 1114h7v7h-7zM795 787h7v7h-7zM802 820h7v7h-7zM686 904h7v7h-7zM805 941h7v7h-7zM840 1069h7v7h-7zM694 1001h7v7h-7zM744 765h7v7h-7zM695 744h7v7h-7zM827 1135h7v7h-7zM750 787h7v7h-7zM703 827h7v7h-7zM855 945h7v7h-7zM721 889h7v7h-7zM715 884h7v7h-7zM796 1068h7v7h-7zM691 965h7v7h-7zM694 793h7v7h-7zM839 1127h7v7h-7zM736 1017h7v7h-7zM806 977h7v7h-7zM765 1119h7v7h-7zM745 950h7v7h-7zM808 925h7v7h-7zM852 993h7v7h-7zM739 918h7v7h-7zM819 901h7v7h-7zM750 800h7v7h-7zM764 843h7v7h-7zM821 957h7v7h-7zM720 926h7v7h-7zM833 1119h7v7h-7zM752 853h7v7h-7zM754 766h7v7h-7zM846 789h7v7h-7zM749 766h7v7h-7zM712 768h7v7h-7zM699 1066h7v7h-7zM717 815h7v7h-7zM770 803h7v7h-7zM723 813h7v7h-7zM696 1148h7v7h-7zM757 1097h7v7h-7zM809 873h7v7h-7zM813 842h7v7h-7zM727 1134h7v7h-7zM762 856h7v7h-7zM726 968h7v7h-7zM761 848h7v7h-7zM688 1046h7v7h-7zM823 1149h7v7h-7zM714 784h7v7h-7zM740 1098h7v7h-7zM723 955h7v7h-7zM739 753h7v7h-7zM692 836h7v7h-7zM834 1076h7v7h-7zM724 1014h7v7h-7zM756 795h7v7h-7zM728 941h7v7h-7zM742 819h7v7h-7zM752 1165h7v7h-7zM804 875h7v7h-7zM686 778h7v7h-7zM857 928h7v7h-7zM813 946h7v7h-7zM691 1056h7v7h-7zM688 836h7v7h-7zM712 891h7v7h-7zM706 930h7v7h-7zM722 815h7v7h-7zM798 744h7v7h-7zM812 859h7v7h-7zM815 1043h7v7h-7zM705 780h7v7h-7zM712 807h7v7h-7zM705 898h7v7h-7zM834 824h7v7h-7zM773 1155h7v7h-7zM821 786h7v7h-7zM855 919h7v7h-7zM858 1051h7v7h-7zM694 815h7v7h-7zM790 835h7v7h-7zM812 846h7v7h-7zM691 930h7v7h-7zM771 914h7v7h-7zM689 799h7v7h-7zM408 1165h7v7h-7zM836 1170h7v7h-7zM603 1166h7v7h-7zM655 1173h7v7h-7zM589 1151h7v7h-7zM552 1171h7v7h-7zM776 1164h7v7h-7zM503 1169h7v7h-7zM838 1172h7v7h-7zM478 1167h7v7h-7zM490 1173h7v7h-7zM553 1170h7v7h-7zM422 1167h7v7h-7zM617 1172h7v7h-7zM535 1167h7v7h-7zM799 1174h7v7h-7zM472 1170h7v7h-7zM714 1171h7v7h-7zM674 1154h7v7h-7zM831 1166h7v7h-7zM387 1171h7v7h-7zM457 1171h7v7h-7zM702 1161h7v7h-7zM599 1173h7v7h-7zM484 1160h7v7h-7zM512 1174h7v7h-7zM405 1171h7v7h-7zM579 1170h7v7h-7zM689 1158h7v7h-7zM389 1169h7v7h-7zM536 1169h7v7h-7zM779 1163h7v7h-7zM427 1163h7v7h-7zM617 1171h7v7h-7zM665 1173h7v7h-7zM664 1171h7v7h-7zM728 1174h7v7h-7zM623 1167h7v7h-7zM440 1154h7v7h-7zM615 1173h7v7h-7zM657 1168h7v7h-7zM500 1174h7v7h-7zM820 1165h7v7h-7zM568 1161h7v7h-7zM817 1169h7v7h-7zM676 1163h7v7h-7zM382 1161h7v7h-7zM474 1173h7v7h-7zM836 1168h7v7h-7zM730 1159h7v7h-7zM511 1161h7v7h-7zM795 1168h7v7h-7zM460 1168h7v7h-7zM594 1159h7v7h-7zM786 1167h7v7h-7zM688 1171h7v7h-7zM523 1166h7v7h-7zM520 1173h7v7h-7zM613 1172h7v7h-7zM830 1169h7v7h-7zM756 1168h7v7h-7zM404 1168h7v7h-7zM520 1166h7v7h-7zM427 1167h7v7h-7zM744 1164h7v7h-7zM467 1172h7v7h-7zM651 1164h7v7h-7zM393 1166h7v7h-7zM456 1174h7v7h-7zM518 1170h7v7h-7zM466 1170h7v7h-7zM832 1171h7v7h-7zM531 1170h7v7h-7zM574 1171h7v7h-7zM796 1156h7v7h-7zM474 1164h7v7h-7zM505 1173h7v7h-7zM832 1164h7v7h-7zM806 1172h7v7h-7zM637 1171h7v7h-7zM670 1171h7v7h-7zM751 1169h7v7h-7zM571 1165h7v7h-7zM567 1172h7v7h-7zM514 1155h7v7h-7zM660 1165h7v7h-7zM701 1169h7v7h-7zM821 1152h7v7h-7zM636 1169h7v7h-7zM487 1167h7v7h-7zM410 1172h7v7h-7zM462 1168h7v7h-7zM670 1165h7v7h-7zM504 1163h7v7h-7zM732 1167h7v7h-7zM502 1168h7v7h-7zM399 1172h7v7h-7zM703 1168h7v7h-7zM463 1173h7v7h-7zM767 1171h7v7h-7zM618 1169h7v7h-7zM769 1169h7v7h-7zM647 1172h7v7h-7zM490 1174h7v7h-7zM512 1171h7v7h-7zM396 1158h7v7h-7zM699 1156h7v7h-7zM504 1170h7v7h-7zM559 1164h7v7h-7zM672 1169h7v7h-7zM787 1174h7v7h-7zM713 1163h7v7h-7zM483 1170h7v7h-7zM805 1158h7v7h-7zM535 1160h7v7h-7zM576 1152h7v7h-7zM805 1171h7v7h-7zM533 1155h7v7h-7zM511 1172h7v7h-7zM838 1160h7v7h-7zM470 1166h7v7h-7zM753 1166h7v7h-7zM395 1168h7v7h-7zM556 1166h7v7h-7zM732 1170h7v7h-7zM546 1162h7v7h-7zM545 1149h7v7h-7zM482 1170h7v7h-7zM783 1172h7v7h-7zM739 1167h7v7h-7zM477 1168h7v7h-7zM685 1167h7v7h-7zM438 1174h7v7h-7zM630 1167h7v7h-7zM531 1161h7v7h-7zM789 1173h7v7h-7zM693 1163h7v7h-7zM475 1142h7v7h-7zM410 1169h7v7h-7zM594 1169h7v7h-7zM707 1169h7v7h-7zM682 1168h7v7h-7zM761 1173h7v7h-7zM473 1167h7v7h-7zM524 1168h7v7h-7zM739 1165h7v7h-7zM407 1164h7v7h-7zM673 1160h7v7h-7zM510 1165h7v7h-7zM442 1166h7v7h-7zM442 1161h7v7h-7zM550 1174h7v7h-7zM725 1172h7v7h-7zM618 1163h7v7h-7zM549 1174h7v7h-7zM821 1173h7v7h-7zM821 1172h7v7h-7zM400 1167h7v7h-7zM510 1160h7v7h-7zM711 1163h7v7h-7zM743 1158h7v7h-7zM646 1163h7v7h-7zM743 1172h7v7h-7zM418 1166h7v7h-7zM805 1169h7v7h-7zM806 1173h7v7h-7zM393 1173h7v7h-7zM632 1171h7v7h-7zM822 1163h7v7h-7zM681 1173h7v7h-7zM597 1164h7v7h-7zM800 1163h7v7h-7zM602 1174h7v7h-7zM792 1172h7v7h-7zM614 1173h7v7h-7zM831 1166h7v7h-7zM697 1172h7v7h-7zM643 1173h7v7h-7zM557 1169h7v7h-7zM524 1166h7v7h-7zM451 1169h7v7h-7zM835 1169h7v7h-7zM716 1167h7v7h-7zM770 1173h7v7h-7zM494 1166h7v7h-7zM605 1172h7v7h-7zM600 1168h7v7h-7zM612 1165h7v7h-7zM667 1171h7v7h-7zM588 1161h7v7h-7zM692 1172h7v7h-7zM488 1153h7v7h-7zM722 1173h7v7h-7zM485 1171h7v7h-7zM831 1163h7v7h-7zM600 1160h7v7h-7zM601 1169h7v7h-7zM514 1158h7v7h-7zM829 1169h7v7h-7zM768 1159h7v7h-7zM797 1158h7v7h-7zM548 1170h7v7h-7zM430 1168h7v7h-7zM671 1167h7v7h-7zM783 1166h7v7h-7zM717 1155h7v7h-7zM408 1174h7v7h-7zM679 1173h7v7h-7zM491 1171h7v7h-7zM392 1167h7v7h-7zM504 1165h7v7h-7zM728 1157h7v7h-7zM672 1174h7v7h-7zM406 1174h7v7h-7zM415 1173h7v7h-7zM455 1166h7v7h-7zM659 1169h7v7h-7zM405 1159h7v7h-7zM506 1160h7v7h-7zM812 1173h7v7h-7zM777 1170h7v7h-7zM392 1167h7v7h-7zM563 1172h7v7h-7zM431 1172h7v7h-7zM386 1165h7v7h-7zM736 1166h7v7h-7zM415 1173h7v7h-7zM624 1168h7v7h-7zM772 1158h7v7h-7zM738 1168h7v7h-7zM588 1165h7v7h-7zM803 1173h7v7h-7zM502 1163h7v7h-7zM687 1174h7v7h-7zM740 1169h7v7h-7zM834 1167h7v7h-7zM789 1172h7v7h-7zM500 1167h7v7h-7zM604 1157h7v7h-7zM554 1163h7v7h-7zM795 1156h7v7h-7zM595 1165h7v7h-7zM702 1167h7v7h-7zM447 1173h7v7h-7zM516 1168h7v7h-7zM579 1166h7v7h-7zM761 1172h7v7h-7zM444 1168h7v7h-7zM410 1149h7v7h-7zM747 1167h7v7h-7zM824 1155h7v7h-7zM793 1168h7v7h-7zM820 1167h7v7h-7zM548 1162h7v7h-7zM833 1167h7v7h-7zM783 1157h7v7h-7zM581 1169h7v7h-7zM507 1165h7v7h-7zM832 1155h7v7h-7zM463 1173h7v7h-7zM539 1163h7v7h-7zM665 1171h7v7h-7zM724 1162h7v7h-7zM606 1169h7v7h-7zM832 1157h7v7h-7zM494 1169h7v7h-7zM480 1167h7v7h-7zM629 1173h7v7h-7zM761 1171h7v7h-7zM500 1167h7v7h-7zM407 1166h7v7h-7zM598 1171h7v7h-7zM490 1167h7v7h-7zM789 1163h7v7h-7zM839 1154h7v7h-7zM808 1174h7v7h-7zM759 1165h7v7h-7zM395 1169h7v7h-7zM568 1165h7v7h-7zM832 1174h7v7h-7zM624 1172h7v7h-7zM777 1162h7v7h-7zM800 1170h7v7h-7zM426 1165h7v7h-7zM720 1169h7v7h-7zM648 1155h7v7h-7zM649 1163h7v7h-7zM766 1174h7v7h-7zM404 1174h7v7h-7zM626 1169h7v7h-7zM610 1172h7v7h-7zM459 1170h7v7h-7zM671 1168h7v7h-7zM812 1171h7v7h-7zM668 1167h7v7h-7zM821 1171h7v7h-7zM560 1171h7v7h-7zM537 1169h7v7h-7zM440 1165h7v7h-7zM611 1152h7v7h-7zM443 1173h7v7h-7zM388 1168h7v7h-7zM682 1169h7v7h-7zM500 1169h7v7h-7zM540 1172h7v7h-7zM457 1166h7v7h-7zM802 1154h7v7h-7zM813 1165h7v7h-7zM794 1174h7v7h-7zM742 1173h7v7h-7zM767 1167h7v7h-7zM561 1174h7v7h-7zM539 1163h7v7h-7zM837 1168h7v7h-7zM647 1174h7v7h-7zM388 1170h7v7h-7zM813 1165h7v7h-7zM637 1174h7v7h-7zM410 1169h7v7h-7zM616 1172h7v7h-7zM768 1169h7v7h-7zM751 1165h7v7h-7zM468 1162h7v7h-7zM634 1168h7v7h-7zM711 1172h7v7h-7zM421 1170h7v7h-7zM415 1169h7v7h-7zM529 1172h7v7h-7zM784 1152h7v7h-7zM498 1169h7v7h-7zM610 1173h7v7h-7zM403 1163h7v7h-7zM461 1168h7v7h-7zM418 1174h7v7h-7zM449 1166h7v7h-7zM654 1164h7v7h-7zM510 1167h7v7h-7zM450 1167h7v7h-7zM777 1170h7v7h-7zM808 1173h7v7h-7zM525 1155h7v7h-7zM385 1164h7v7h-7zM492 1167h7v7h-7zM525 1162h7v7h-7zM497 1171h7v7h-7zM829 1167h7v7h-7zM786 1174h7v7h-7zM525 1167h7v7h-7zM682 1170h7v7h-7zM718 1166h7v7h-7zM438 1167h7v7h-7zM658 1170h7v7h-7zM488 1165h7v7h-7zM785 1165h7v7h-7zM484 1165h7v7h-7zM695 1168h7v7h-7zM422 1167h7v7h-7zM459 1166h7v7h-7zM581 1174h7v7h-7zM834 1167h7v7h-7zM619 1166h7v7h-7zM397 1163h7v7h-7zM586 1163h7v7h-7zM761 1169h7v7h-7zM405 1153h7v7h-7zM721 1162h7v7h-7zM616 1162h7v7h-7zM560 1161h7v7h-7zM637 1168h7v7h-7zM773 1171h7v7h-7zM602 1165h7v7h-7zM684 1174h7v7h-7zM664 1168h7v7h-7zM492 1173h7v7h-7zM550 1171h7v7h-7zM761 1174h7v7h-7zM645 1169h7v7h-7zM406 1171h7v7h-7zM831 1168h7v7h-7zM460 1171h7v7h-7zM554 1172h7v7h-7zM445 1165h7v7h-7zM770 1174h7v7h-7zM769 1166h7v7h-7zM532 1162h7v7h-7zM740 1166h7v7h-7zM564 1169h7v7h-7zM731 1168h7v7h-7zM813 1159h7v7h-7zM593 1169h7v7h-7zM709 1173h7v7h-7zM434 1168h7v7h-7zM758 1174h7v7h-7zM704 1167h7v7h-7zM527 1159h7v7h-7zM656 1158h7v7h-7zM807 1157h7v7h-7zM429 1167h7v7h-7zM779 1163h7v7h-7zM565 1174h7v7h-7z" fill="#1c1d8a" opacity="0.8"/>
<path transform="scale(0.1)" d="M780 753h6v6h-6zM678 665h6v6h-6zM740 715h6v6h-6zM638 658h6v6h-6zM767 721h6v6h-6zM774 592h6v6h-6zM776 757h6v6h-6zM811 632h6v6h-6zM798 724h6v6h-6zM779 689h6v6h-6zM811 635h6v6h-6zM658 656h6v6h-6zM769 775h6v6h-6zM685 708h6v6h-6zM810 696h6v6h-6zM812 710h6v6h-6zM819 666h6v6h-6zM795 698h6v6h-6zM717 736h6v6h-6zM731 734h6v6h-6zM736 737h6v6h-6zM655 684h6v6h-6zM706 704h6v6h-6zM781 654h6v6h-6zM826 679h6v6h-6zM820 693h6v6h-6zM834 697h6v6h-6zM663 676h6v6h-6zM813 643h6v6h-6zM746 735h6v6h-6zM796 638h6v6h-6zM765 757h6v6h-6zM693 673h6v6h-6zM612 640h6v6h-6zM719 717h6v6h-6zM767 753h6v6h-6zM778 762h6v6h-6zM735 597h6v6h-6zM817 624h6v6h-6zM741 639h6v6h-6zM786 748h6v6h-6zM666 711h6v6h-6zM787 664h6v6h-6zM701 698h6v6h-6zM767 698h6v6h-6zM646 699h6v6h-6zM615 669h6v6h-6zM789 702h6v6h-6zM697 729h6v6h-6zM779 715h6v6h-6zM702 703h6v6h-6zM715 696h6v6h-6zM649 671h6v6h-6zM779 749h6v6h-6zM747 686h6v6h-6zM766 742h6v6h-6zM673 710h6v6h-6zM736 728h6v6h-6zM780 756h6v6h-6zM769 753h6v6h-6zM747 647h6v6h-6zM727 717h6v6h-6zM792 679h6v6h-6zM730 755h6v6h-6zM727 725h6v6h-6zM741 738h6v6h-6zM795 684h6v6h-6zM690 656h6v6h-6zM734 716h6v6h-6zM659 699h6v6h-6zM707 665h6v6h-6zM760 758h6v6h-6zM757 726h6v6h-6zM779 766h6v6h-6zM662 707h6v6h-6zM812 633h6v6h-6zM804 715h6v6h-6zM738 739h6v6h-6zM678 683h6v6h-6zM738 674h6v6h-6zM703 726h6v6h-6zM795 729h6v6h-6zM689 667h6v6h-6zM791 714h6v6h-6zM724 617h6v6h-6zM705 729h6v6h-6zM668 689h6v6h-6zM731 698h6v6h-6zM650 683h6v6h-6zM812 614h6v6h-6zM701 692h6v6h-6zM835 687h6v6h-6zM777 753h6v6h-6zM817 611h6v6h-6zM581 586h6v6h-6zM739 769h6v6h-6zM712 731h6v6h-6zM826 660h6v6h-6zM725 654h6v6h-6zM676 711h6v6h-6zM642 677h6v6h-6zM699 681h6v6h-6zM642 614h6v6h-6zM730 715h6v6h-6zM729 727h6v6h-6zM750 723h6v6h-6zM704 663h6v6h-6zM773 740h6v6h-6zM588 648h6v6h-6zM771 745h6v6h-6zM695 736h6v6h-6zM740 637h6v6h-6zM617 666h6v6h-6zM743 691h6v6h-6zM650 702h6v6h-6zM669 713h6v6h-6zM671 710h6v6h-6zM810 680h6v6h-6zM797 673h6v6h-6zM799 700h6v6h-6zM773 782h6v6h-6zM716 690h6v6h-6zM731 737h6v6h-6zM734 627h6v6h-6zM823 720h6v6h-6zM677 711h6v6h-6zM629 619h6v6h-6zM763 733h6v6h-6zM824 616h6v6h-6zM616 655h6v6h-6zM761 668h6v6h-6zM784 742h6v6h-6zM812 711h6v6h-6zM707 640h6v6h-6zM741 658h6v6h-6zM684 655h6v6h-6zM713 725h6v6h-6zM675 683h6v6h-6zM664 668h6v6h-6zM591 613h6v6h-6zM631 684h6v6h-6zM712 667h6v6h-6zM777 723h6v6h-6zM607 653h6v6h-6zM782 698h6v6h-6zM795 620h6v6h-6zM771 774h6v6h-6zM752 679h6v6h-6zM754 715h6v6h-6zM765 644h6v6h-6zM722 756h6v6h-6zM744 709h6v6h-6zM650 708h6v6h-6zM712 727h6v6h-6zM771 642h6v6h-6zM823 727h6v6h-6zM817 715h6v6h-6zM786 771h6v6h-6zM658 707h6v6h-6zM659 643h6v6h-6zM851 629h6v6h-6zM815 691h6v6h-6zM701 631h6v6h-6zM743 713h6v6h-6zM706 737h6v6h-6zM839 688h6v6h-6zM720 728h6v6h-6zM716 687h6v6h-6zM696 673h6v6h-6zM839 666h6v6h-6zM587 616h6v6h-6zM759 677h6v6h-6zM808 623h6v6h-6zM764 685h6v6h-6zM785 667h6v6h-6zM679 699h6v6h-6zM666 652h6v6h-6zM839 687h6v6h-6zM623 681h6v6h-6zM766 776h6v6h-6zM672 702h6v6h-6zM804 654h6v6h-6zM644 605h6v6h-6zM713 685h6v6h-6zM824 724h6v6h-6zM793 632h6v6h-6z" fill="#3a3aa0" opacity="0.7"/>
<path d="M43.6,76.2 L46.3,75.7 L49.0,75.5 L51.8,75.4 L54.5,75.3 L57.1,75.1 L59.9,75.0 L62.5,75.0 L65.0,75.6 L67.3,76.7 L68.3,78.4 L68.1,80.7 L67.8,83.2 L67.6,85.8 L67.3,88.3 L66.8,90.6 L66.4,92.8 L65.9,95.1 L65.5,97.3 L65.0,99.6 L64.6,101.8 L64.1,104.1 L63.6,106.1 L62.9,107.9 L62.2,109.4 L61.5,110.5 L60.5,111.0 L59.2,111.0 L57.6,110.7 L55.8,110.0 L54.0,109.0 L52.2,107.7 L50.4,106.1 L48.6,104.3 L47.0,102.5 L45.7,100.7 L44.5,98.9 L43.6,97.1 L43.0,94.4 L42.5,90.8 L42.3,85.8 L42.3,79.5 Z" fill="none" stroke="#fff" stroke-width="0.8" opacity="0.8"/>
<path d="M45.8,76.6 L48.2,76.2 L50.6,76.0 L53.0,75.9 L55.4,75.8 L57.8,75.7 L60.2,75.6 L62.6,75.6 L64.8,76.1 L66.8,77.1 L67.7,78.6 L67.5,80.6 L67.3,82.8 L67.1,85.2 L66.8,87.4 L66.4,89.4 L66.0,91.4 L65.6,93.4 L65.2,95.4 L64.8,97.4 L64.4,99.4 L64.0,101.4 L63.5,103.2 L62.9,104.8 L62.3,106.1 L61.7,107.1 L60.8,107.6 L59.6,107.6 L58.2,107.3 L56.6,106.7 L55.0,105.8 L53.4,104.6 L51.8,103.2 L50.2,101.6 L48.8,100.0 L47.6,98.4 L46.6,96.8 L45.8,95.2 L45.2,92.8 L44.8,89.6 L44.6,85.2 L44.6,79.6 Z" fill="none" stroke="#fff" stroke-width="0.8" opacity="0.8"/>
<path d="M48.0,77.0 L50.0,76.7 L52.1,76.5 L54.2,76.4 L56.4,76.3 L58.5,76.2 L60.5,76.2 L62.6,76.2 L64.6,76.6 L66.3,77.5 L67.1,78.8 L66.9,80.5 L66.8,82.5 L66.6,84.5 L66.3,86.5 L66.0,88.2 L65.6,90.0 L65.3,91.7 L64.9,93.5 L64.6,95.2 L64.2,97.0 L63.9,98.7 L63.4,100.3 L62.9,101.7 L62.4,102.8 L61.9,103.7 L61.1,104.2 L60.0,104.2 L58.8,103.9 L57.4,103.4 L56.0,102.6 L54.6,101.5 L53.2,100.3 L51.8,98.9 L50.6,97.5 L49.5,96.1 L48.6,94.7 L48.0,93.3 L47.4,91.2 L47.1,88.4 L46.9,84.5 L46.9,79.7 Z" fill="none" stroke="#fff" stroke-width="0.8" opacity="0.8"/>
<path d="M50.1,77.5 L51.9,77.2 L53.7,77.0 L55.5,76.9 L57.3,76.8 L59.1,76.7 L60.9,76.7 L62.7,76.7 L64.3,77.1 L65.8,77.8 L66.5,79.0 L66.4,80.5 L66.2,82.1 L66.1,83.9 L65.8,85.5 L65.5,87.0 L65.2,88.5 L65.0,90.0 L64.7,91.5 L64.3,93.0 L64.0,94.5 L63.8,96.0 L63.4,97.4 L62.9,98.6 L62.5,99.6 L62.0,100.3 L61.4,100.7 L60.5,100.7 L59.4,100.5 L58.2,100.0 L57.0,99.3 L55.8,98.5 L54.6,97.4 L53.4,96.2 L52.4,95.0 L51.5,93.8 L50.7,92.6 L50.1,91.4 L49.6,89.6 L49.4,87.2 L49.2,83.9 L49.2,79.7 Z" fill="none" stroke="#fff" stroke-width="0.8" opacity="0.8"/>
<path d="M52.2,77.9 L53.8,77.6 L55.2,77.5 L56.8,77.4 L58.2,77.4 L59.8,77.3 L61.2,77.2 L62.8,77.2 L64.1,77.6 L65.4,78.2 L65.9,79.1 L65.8,80.4 L65.7,81.8 L65.6,83.2 L65.4,84.6 L65.1,85.9 L64.9,87.1 L64.6,88.4 L64.4,89.6 L64.1,90.9 L63.9,92.1 L63.6,93.4 L63.3,94.5 L62.9,95.5 L62.6,96.3 L62.2,96.9 L61.6,97.2 L60.9,97.2 L60.0,97.1 L59.0,96.7 L58.0,96.1 L57.0,95.4 L56.0,94.5 L55.0,93.5 L54.1,92.5 L53.4,91.5 L52.8,90.5 L52.2,89.5 L51.9,88.0 L51.6,86.0 L51.5,83.2 L51.5,79.8 Z" fill="none" stroke="#fff" stroke-width="0.8" opacity="0.8"/>
<path d="M54.4,78.3 L55.6,78.1 L56.8,78.0 L58.0,77.9 L59.2,77.9 L60.4,77.8 L61.6,77.8 L62.8,77.8 L63.9,78.0 L64.9,78.5 L65.3,79.3 L65.2,80.3 L65.2,81.4 L65.0,82.6 L64.9,83.7 L64.7,84.7 L64.5,85.7 L64.3,86.7 L64.1,87.7 L63.9,88.7 L63.7,89.7 L63.5,90.7 L63.2,91.6 L63.0,92.4 L62.6,93.0 L62.4,93.5 L61.9,93.8 L61.3,93.8 L60.6,93.6 L59.8,93.3 L59.0,92.9 L58.2,92.3 L57.4,91.6 L56.6,90.8 L55.9,90.0 L55.3,89.2 L54.8,88.4 L54.4,87.6 L54.1,86.4 L53.9,84.8 L53.8,82.6 L53.8,79.8 Z" fill="none" stroke="#fff" stroke-width="0.8" opacity="0.8"/>
<path d="M56.6,78.7 L57.5,78.6 L58.4,78.5 L59.2,78.5 L60.1,78.4 L61.0,78.4 L62.0,78.3 L62.9,78.3 L63.7,78.5 L64.4,78.9 L64.8,79.5 L64.7,80.2 L64.6,81.0 L64.5,82.0 L64.4,82.8 L64.3,83.5 L64.1,84.3 L64.0,85.0 L63.8,85.8 L63.7,86.5 L63.5,87.3 L63.4,88.0 L63.2,88.7 L63.0,89.3 L62.7,89.8 L62.5,90.2 L62.2,90.3 L61.7,90.3 L61.2,90.2 L60.6,90.0 L60.0,89.7 L59.4,89.2 L58.8,88.7 L58.2,88.1 L57.7,87.5 L57.2,86.9 L56.9,86.3 L56.6,85.7 L56.3,84.8 L56.2,83.6 L56.1,82.0 L56.1,79.8 Z" fill="none" stroke="#fff" stroke-width="0.8" opacity="0.8"/>
<path d="M41.5,75.8 L44.5,75.2 L47.5,75.0 L50.5,74.8 L53.5,74.7 L56.5,74.6 L59.5,74.5 L62.5,74.5 L65.2,75.1 L67.8,76.4 L68.9,78.2 L68.6,80.8 L68.4,83.5 L68.1,86.5 L67.8,89.2 L67.2,91.8 L66.8,94.2 L66.2,96.8 L65.8,99.2 L65.2,101.8 L64.8,104.2 L64.2,106.8 L63.6,109.0 L62.9,111.0 L62.1,112.6 L61.4,113.9 L60.2,114.5 L58.8,114.5 L57.0,114.1 L55.0,113.4 L53.0,112.2 L51.0,110.8 L49.0,109.0 L47.0,107.0 L45.2,105.0 L43.8,103.0 L42.5,101.0 L41.5,99.0 L40.8,96.0 L40.2,92.0 L40.0,86.5 L40.0,79.5 Z" fill="none" stroke="#fff" stroke-width="0.6" opacity="0.5"/>
<rect x="37.5" y="24.4" width="48.099999999999994" height="32.300000000000004" fill="#be2d2d" opacity="0.35"/>
<rect x="85.6" y="56.7" width="45.900000000000006" height="61.3" fill="#be2d2d" opacity="0.35"/>
</g>
<line x1="85.6" y1="24.4" x2="85.6" y2="118" stroke="#c0393b" stroke-width="0.9"/>
<line x1="37.5" y1="56.7" x2="131.5" y2="56.7" stroke="#c0393b" stroke-width="0.9"/>
<rect x="37.5" y="24.4" width="94.0" height="93.6" fill="none" stroke="#000" stroke-width="1.3"/>
<text x="111.5" y="114.2" font-size="8.6" text-anchor="middle" fill="#222" stroke="#222" stroke-width="0.25" textLength="27" lengthAdjust="spacingAndGlyphs" >CD45+</text>
<line x1="31.8" y1="116.5" x2="31.8" y2="29.900000000000002" stroke="#111" stroke-width="1.2"/>
<path d="M31.8,25.3 L29.05,31.1 L31.8,29.900000000000002 L34.55,31.1 Z" fill="#111"/>
<text x="27.3" y="69.3" font-size="10.4" text-anchor="middle" fill="#222" stroke="#222" stroke-width="0.25" textLength="75.8" lengthAdjust="spacingAndGlyphs" transform="rotate(-90 27.3 69.3)" >CD45.2-PercP-Cy5.5</text>
<line x1="38" y1="124.2" x2="126.20000000000002" y2="124.2" stroke="#111" stroke-width="1.2"/>
<path d="M130.8,124.2 L125.00000000000001,121.45 L126.20000000000002,124.2 L125.00000000000001,126.95 Z" fill="#111"/>
<text x="81" y="135.7" font-size="10.4" text-anchor="middle" fill="#222" stroke="#222" stroke-width="0.25" textLength="41.2" lengthAdjust="spacingAndGlyphs" >CD45.1-PE</text>
<line x1="84.8" y1="137.5" x2="84.8" y2="150.89999999999998" stroke="#111" stroke-width="1.2"/>
<path d="M84.8,155.5 L82.05,149.7 L84.8,150.89999999999998 L87.55,149.7 Z" fill="#111"/>
<rect x="37.5" y="160.9" width="47.900000000000006" height="93.69999999999999" fill="#e8c0cb" />
<path d="M38.0,254.6 L38.0,254.0 L45.0,252.0 L53.6,241.3 L58.0,233.0 L63.4,219.7 L66.0,205.0 L68.3,190.3 L71.0,175.0 L73.0,167.5 L74.2,166.4 L76.0,168.0 L78.1,180.5 L79.5,200.0 L81.1,223.7 L84.0,247.2 L86.0,252.0 L88.9,254.3 L88.9,254.6 Z" fill="#8a6c90" stroke="#40408a" stroke-width="0.8" stroke-linejoin="round"/>
<polyline points="76.2,254.3 80.0,250.0 85.0,243.3 90.9,233.5 94.0,225.0 96.8,213.8 98.5,200.0 99.7,190.3 101.0,183.0 102.1,180.1 103.5,183.0 105.6,194.2 107.5,205.0 109.5,211.9 111.0,213.5 112.5,212.9 115.0,213.5 117.4,209.9 119.0,197.0 120.3,184.4 122.0,172.0 124.2,167.2 125.5,172.0 127.2,190.3 128.5,215.0 130.1,243.3 131.3,247.0" fill="none" stroke="#111" stroke-width="1"/>
<line x1="37.5" y1="210.9" x2="85.4" y2="210.9" stroke="#222" stroke-width="1.0"/>
<line x1="85.4" y1="209.4" x2="85.4" y2="212.4" stroke="#222" stroke-width="0.8"/>
<text x="51.3" y="199.2" font-size="8.6" text-anchor="middle" fill="#222" stroke="#222" stroke-width="0.25" textLength="18.3" lengthAdjust="spacingAndGlyphs" >2.9%</text>
<rect x="37.5" y="160.9" width="94.0" height="93.69999999999999" fill="none" stroke="#000" stroke-width="1.3"/>
<line x1="32.0" y1="254.6" x2="32.0" y2="166.3" stroke="#111" stroke-width="1.2"/>
<path d="M32.0,161.7 L29.25,167.5 L32.0,166.3 L34.75,167.5 Z" fill="#111"/>
<text x="26.7" y="206.9" font-size="10.4" text-anchor="middle" fill="#222" stroke="#222" stroke-width="0.25" textLength="38.1" lengthAdjust="spacingAndGlyphs" transform="rotate(-90 26.7 206.9)" >Cell count</text>
<line x1="38" y1="261.2" x2="126.20000000000002" y2="261.2" stroke="#111" stroke-width="1.2"/>
<path d="M130.8,261.2 L125.00000000000001,258.45 L126.20000000000002,261.2 L125.00000000000001,263.95 Z" fill="#111"/>
<text x="85.3" y="271.3" font-size="10.4" text-anchor="middle" fill="#222" stroke="#222" stroke-width="0.25" textLength="30.0" lengthAdjust="spacingAndGlyphs" >Lin-APC</text>
<line x1="84.8" y1="272" x2="84.8" y2="285.2" stroke="#111" stroke-width="1.2"/>
<path d="M84.8,289.8 L82.05,284.0 L84.8,285.2 L87.55,284.0 Z" fill="#111"/>
<clipPath id="lskClip"><rect x="37.5" y="293.9" width="94.0" height="93.70000000000005"/></clipPath>
<g clip-path="url(#lskClip)">
<rect x="37.5" y="293.9" width="94.0" height="93.70000000000005" fill="#fff"/>
<linearGradient id="lbG" x1="0" y1="0" x2="0" y2="1"><stop offset="0" stop-color="#555" stop-opacity="0"/><stop offset="0.12" stop-color="#333" stop-opacity="0.8"/><stop offset="0.4" stop-color="#222" stop-opacity="0.9"/><stop offset="1" stop-color="#222" stop-opacity="0.9"/></linearGradient>
<g filter="url(#blur1)">
<rect x="37" y="306" width="6.5" height="82" fill="url(#lbG)" opacity="0.75"/>
<rect x="37" y="330" width="3.2" height="58" fill="#23238f" opacity="0.75"/>
<path d="M40,388 L40,383.5 C60,382.5 80,383 92,383.5 L92,388 Z" fill="#3a3a9a" opacity="0.6"/>
<ellipse cx="100" cy="385.5" rx="9" ry="2.4" fill="#555" opacity="0.4"/>
<ellipse cx="117" cy="385.5" rx="6" ry="2.0" fill="#666" opacity="0.35"/>
</g>
<path d="M67.1,332.4 L67.2,329.9 L67.8,327.3 L68.8,325.3 L68.8,323.6 L69.6,321.6 L70.2,319.8 L70.8,318.4 L71.6,316.7 L72.8,315.8 L74.4,314.7 L75.8,313.6 L77.1,313.3 L78.8,312.5 L79.9,311.7 L81.4,311.1 L82.7,311.5 L84.1,310.9 L86.3,310.2 L87.9,310.0 L89.5,309.4 L90.7,308.9 L92.1,308.6 L93.8,308.4 L95.2,307.3 L97.2,306.4 L99.7,305.7 L101.0,305.5 L103.4,304.4 L105.3,303.9 L107.0,303.3 L109.2,302.5 L111.0,302.3 L113.5,301.1 L115.4,301.5 L116.9,301.0 L118.9,301.0 L121.1,300.3 L123.1,300.2 L125.3,300.0 L128.3,299.9 L129.3,300.6 L132.2,302.0 L133.7,304.1 L134.8,307.6 L135.1,311.5 L136.0,315.7 L135.3,319.8 L135.4,322.4 L134.5,325.6 L133.8,327.8 L132.7,330.0 L132.0,331.6 L129.9,333.0 L128.8,334.1 L127.8,334.9 L126.2,336.0 L124.7,337.2 L124.1,338.1 L122.6,339.0 L121.2,340.0 L120.2,341.1 L119.0,342.0 L118.1,343.5 L116.6,344.0 L115.9,346.0 L114.5,346.6 L113.1,348.0 L111.4,349.2 L109.8,350.3 L108.0,350.9 L105.6,351.6 L103.8,352.5 L101.8,352.7 L99.7,353.4 L97.6,353.1 L95.6,353.4 L94.1,352.7 L92.3,352.4 L90.2,352.3 L88.8,351.1 L86.9,350.5 L84.8,349.5 L83.2,348.2 L81.0,347.9 L78.8,346.5 L76.7,345.6 L74.8,344.9 L72.8,343.3 L70.8,342.4 L69.3,341.0 L68.5,339.6 L68.2,338.6 L67.7,336.9 L66.4,336.3 L67.1,334.2 Z" fill="none" stroke="#5a5a5a" stroke-width="0.45" opacity="0.9"/>
<path d="M71.8,329.7 L72.0,327.8 L72.5,326.3 L72.9,324.3 L73.2,322.4 L73.8,321.0 L74.7,319.4 L75.6,318.1 L76.4,316.9 L77.6,316.1 L78.4,315.3 L79.3,314.1 L80.1,314.0 L81.7,313.1 L83.1,313.3 L84.0,312.4 L85.7,312.1 L86.7,311.4 L88.7,311.5 L90.3,310.6 L91.2,310.4 L92.2,309.7 L94.1,309.8 L95.3,309.6 L96.5,308.9 L98.3,308.2 L99.9,307.7 L101.5,307.1 L103.6,306.4 L105.1,305.9 L106.5,305.4 L108.1,304.9 L109.9,304.0 L111.9,303.9 L113.8,303.6 L115.3,302.8 L117.2,302.8 L118.6,302.8 L120.7,302.2 L122.7,302.1 L124.5,302.6 L126.5,302.8 L128.3,304.0 L129.7,305.8 L130.4,308.5 L131.4,312.4 L131.0,316.0 L131.6,318.8 L131.6,321.5 L130.8,324.7 L130.4,326.9 L129.0,328.0 L128.3,329.4 L126.8,330.4 L125.9,331.9 L124.6,332.6 L123.3,333.5 L122.4,334.5 L121.4,335.2 L120.7,336.3 L119.5,337.5 L117.9,337.7 L117.5,339.0 L116.2,340.0 L115.3,340.7 L114.3,341.9 L113.3,342.3 L112.2,343.9 L110.2,344.6 L109.1,345.9 L107.5,346.9 L105.7,347.0 L103.7,348.0 L101.8,348.4 L100.4,348.6 L98.7,348.5 L96.8,348.3 L95.1,347.9 L93.6,347.7 L91.8,347.5 L90.7,346.8 L89.4,346.3 L87.7,345.2 L85.3,344.7 L84.0,344.0 L82.1,343.3 L80.1,342.3 L78.2,340.6 L76.7,340.5 L74.8,339.2 L73.8,337.7 L73.0,336.8 L72.1,335.8 L72.0,335.0 L71.5,333.9 L72.2,332.6 Z" fill="none" stroke="#5a5a5a" stroke-width="0.45" opacity="0.9"/>
<path d="M74.5,329.0 L74.7,327.1 L75.6,324.9 L75.4,323.6 L76.3,321.8 L76.5,320.0 L77.0,319.4 L77.9,318.6 L78.4,316.5 L79.8,316.0 L80.7,315.4 L81.8,314.9 L83.1,313.6 L83.9,314.1 L85.0,313.4 L86.2,312.7 L87.9,312.7 L88.6,312.3 L89.6,311.5 L91.4,311.4 L92.1,311.1 L93.7,311.1 L95.1,310.3 L96.0,310.0 L97.4,309.9 L99.2,309.4 L100.3,308.5 L101.9,307.9 L103.3,307.0 L104.7,307.2 L106.1,305.9 L107.9,306.2 L109.9,305.3 L111.0,304.9 L112.5,304.6 L114.2,303.9 L115.7,304.0 L117.2,303.6 L119.3,304.2 L120.8,303.7 L122.9,303.8 L124.5,304.4 L126.1,304.9 L127.3,306.6 L128.2,309.5 L129.0,312.9 L128.9,315.6 L128.9,318.5 L128.7,321.6 L128.3,323.7 L127.5,325.7 L126.9,327.1 L125.8,328.8 L124.3,329.4 L123.3,330.7 L122.7,331.3 L121.6,332.1 L120.7,332.4 L119.7,333.8 L118.3,334.7 L117.9,334.9 L116.7,336.1 L115.8,337.2 L114.7,337.9 L114.3,339.0 L113.4,339.6 L112.6,340.0 L111.5,341.3 L109.7,342.1 L108.2,342.6 L107.1,343.7 L105.8,344.2 L103.6,344.7 L102.6,345.3 L100.4,345.3 L98.7,345.6 L97.6,345.9 L96.4,345.5 L94.5,344.9 L92.7,344.4 L92.0,344.0 L90.6,343.1 L89.2,342.8 L87.4,342.1 L85.2,341.1 L83.8,341.0 L82.3,339.7 L81.0,338.6 L79.7,337.8 L77.9,336.7 L77.0,335.3 L76.1,334.7 L75.3,333.7 L75.0,333.2 L74.9,332.1 L74.8,330.9 Z" fill="none" stroke="#5a5a5a" stroke-width="0.45" opacity="0.9"/>
<path d="M77.3,327.6 L77.3,326.3 L77.8,324.8 L78.3,322.7 L78.8,322.1 L78.9,320.1 L79.3,319.4 L80.0,318.0 L81.1,317.1 L81.8,316.1 L82.5,315.5 L83.7,314.9 L84.5,314.4 L85.8,313.9 L86.9,313.8 L87.8,313.2 L88.7,312.9 L90.0,312.4 L91.0,312.3 L92.9,311.9 L93.4,311.7 L94.3,311.3 L95.5,310.8 L96.9,310.7 L98.0,310.0 L99.3,309.5 L100.7,309.2 L101.9,309.0 L103.4,307.9 L104.7,307.8 L105.9,306.6 L107.6,306.8 L109.2,306.4 L110.5,306.1 L112.3,305.8 L113.5,305.3 L115.1,305.1 L116.4,304.5 L117.8,304.9 L119.3,305.2 L121.2,305.0 L122.8,305.7 L124.6,306.3 L125.3,308.0 L126.3,310.0 L126.5,312.7 L126.9,315.7 L126.9,318.5 L126.4,321.1 L126.2,322.8 L125.6,325.1 L124.8,326.1 L123.9,327.3 L122.8,328.4 L121.9,329.1 L120.5,330.0 L120.0,330.6 L119.2,331.9 L118.0,331.8 L117.6,332.7 L116.9,333.5 L115.6,334.7 L115.1,335.4 L114.2,336.1 L113.2,336.9 L112.9,337.9 L111.7,338.5 L110.9,339.5 L109.5,340.0 L108.3,341.5 L106.9,341.8 L105.1,342.3 L103.6,342.2 L102.2,342.8 L100.9,343.1 L99.5,343.0 L98.7,343.2 L96.9,343.4 L95.7,342.8 L94.3,342.7 L92.7,341.5 L91.7,340.6 L90.1,340.7 L88.7,339.9 L87.5,338.9 L85.8,338.4 L84.0,337.7 L82.8,336.9 L81.3,336.3 L80.5,335.3 L79.1,334.0 L78.1,333.1 L77.8,332.8 L77.7,331.7 L77.2,330.7 L77.3,329.6 Z" fill="none" stroke="#5a5a5a" stroke-width="0.45" opacity="0.9"/>
<path d="M80.0,326.8 L80.4,324.8 L79.8,323.5 L80.2,322.4 L81.3,321.0 L81.4,320.0 L81.7,318.7 L82.8,318.0 L82.7,317.6 L83.7,316.4 L84.5,315.3 L85.0,314.9 L86.7,314.6 L87.2,314.4 L88.0,314.2 L89.2,313.3 L90.4,313.3 L91.2,312.9 L92.5,312.9 L93.1,311.6 L94.8,312.0 L95.2,311.9 L96.2,311.7 L97.1,311.1 L98.2,311.2 L99.6,310.6 L101.2,309.6 L102.0,309.7 L103.4,309.0 L104.9,308.7 L105.8,308.0 L107.5,307.7 L108.6,307.0 L110.4,306.9 L111.3,306.7 L112.6,306.5 L113.7,306.3 L115.5,306.2 L116.8,306.1 L118.1,306.4 L119.5,306.1 L121.5,306.3 L122.3,306.8 L124.0,308.3 L124.3,310.8 L124.6,313.0 L124.3,316.0 L124.6,318.4 L124.6,320.7 L123.9,322.2 L124.0,324.1 L122.8,325.1 L122.4,326.4 L121.0,327.6 L120.4,328.3 L119.1,328.1 L118.4,329.4 L117.7,330.4 L117.1,330.6 L116.4,331.5 L115.4,332.6 L114.3,333.3 L114.2,333.2 L113.2,334.4 L112.2,335.0 L111.6,335.9 L110.9,336.1 L110.4,337.5 L108.8,338.3 L108.4,338.4 L106.5,339.3 L105.5,339.8 L103.6,340.6 L102.4,340.8 L101.7,340.6 L99.7,341.1 L98.5,340.9 L97.4,341.4 L96.4,340.5 L95.1,340.1 L93.5,339.5 L92.9,338.7 L91.5,338.4 L90.0,338.5 L89.0,337.3 L87.1,336.7 L85.9,336.0 L84.7,335.9 L83.7,334.9 L82.6,334.3 L81.1,332.4 L80.6,332.0 L80.1,331.0 L79.9,330.9 L79.6,329.5 L79.9,328.3 Z" fill="none" stroke="#5a5a5a" stroke-width="0.45" opacity="0.9"/>
<path d="M81.7,326.2 L81.5,325.1 L82.3,323.4 L82.6,322.1 L82.5,321.3 L83.3,319.9 L84.4,318.5 L84.3,317.9 L84.4,317.6 L85.1,316.4 L86.2,315.7 L86.8,315.5 L87.9,314.4 L88.4,314.5 L89.3,314.2 L90.6,313.7 L90.9,313.2 L92.5,313.1 L93.8,312.8 L94.3,312.9 L95.2,312.5 L96.3,312.2 L97.1,311.9 L98.5,311.7 L99.2,310.6 L99.9,310.7 L101.1,310.4 L102.0,310.1 L103.6,310.0 L104.5,309.5 L105.6,309.0 L106.8,308.7 L108.8,308.1 L109.7,307.5 L110.5,308.2 L111.8,307.5 L112.6,307.2 L114.0,307.3 L115.4,307.6 L116.6,307.0 L117.8,306.9 L120.1,307.1 L120.7,308.0 L122.1,309.4 L122.7,310.9 L123.2,313.9 L122.4,316.6 L122.8,318.4 L122.3,320.1 L122.0,322.3 L122.0,323.4 L121.3,325.1 L120.5,326.0 L119.5,326.1 L118.8,327.1 L118.2,328.0 L117.2,328.3 L116.8,329.1 L115.9,329.7 L114.6,330.1 L114.1,330.8 L114.0,331.2 L113.3,332.1 L112.4,332.8 L111.9,333.4 L110.6,334.3 L110.4,335.0 L109.7,335.2 L108.6,336.2 L107.5,336.9 L106.5,337.3 L105.2,338.1 L103.7,338.2 L102.4,338.3 L101.3,338.7 L100.5,338.7 L99.3,338.9 L98.0,337.8 L96.9,338.4 L95.6,338.1 L95.1,337.3 L93.6,337.3 L92.1,336.3 L91.5,336.3 L90.4,335.7 L89.4,335.0 L87.2,334.3 L86.5,333.8 L84.7,333.0 L83.9,332.1 L83.6,331.3 L82.4,330.6 L82.0,330.5 L82.1,329.5 L81.6,328.3 L81.8,326.8 Z" fill="none" stroke="#5a5a5a" stroke-width="0.45" opacity="0.9"/>
<path d="M84.1,324.9 L84.0,324.0 L84.0,322.8 L84.7,322.0 L84.9,320.9 L85.2,319.5 L85.6,318.5 L85.9,318.0 L86.8,317.1 L86.8,316.7 L87.9,315.7 L88.4,315.5 L89.4,315.1 L90.1,315.0 L90.8,314.5 L91.8,314.4 L92.4,313.7 L93.4,313.4 L94.1,313.0 L95.3,313.5 L95.7,313.1 L96.5,312.5 L97.6,312.5 L98.7,311.7 L99.1,311.9 L100.3,312.0 L101.3,311.0 L102.7,310.1 L103.0,311.1 L104.4,310.0 L105.6,309.4 L106.7,308.9 L108.1,309.1 L109.1,308.4 L109.5,308.3 L110.8,308.3 L111.8,307.8 L113.3,308.0 L114.5,307.5 L115.5,308.3 L117.2,307.7 L118.8,308.0 L119.4,308.5 L120.6,310.0 L120.8,311.5 L120.8,314.1 L121.2,316.6 L121.0,318.1 L121.3,320.2 L120.6,322.0 L120.5,323.3 L119.9,324.4 L119.1,325.0 L118.6,325.7 L117.7,326.5 L116.9,326.9 L115.6,327.3 L115.7,327.7 L114.8,328.6 L114.1,329.3 L113.6,329.6 L113.2,330.2 L112.1,331.0 L111.8,331.5 L110.8,332.0 L110.5,332.8 L110.3,333.2 L109.0,333.3 L108.5,334.7 L107.2,334.9 L105.5,335.8 L104.9,336.4 L104.1,336.7 L102.7,336.9 L101.2,337.1 L100.5,336.5 L99.4,336.5 L98.6,336.5 L97.2,336.3 L96.5,336.2 L95.8,336.1 L94.7,335.7 L93.0,334.8 L92.8,334.0 L91.3,333.9 L89.8,333.2 L89.2,332.7 L88.3,332.7 L86.9,331.2 L85.9,330.6 L84.8,330.0 L84.4,329.3 L84.3,329.0 L84.0,328.1 L83.8,327.4 L83.8,326.2 Z" fill="none" stroke="#5a5a5a" stroke-width="0.45" opacity="0.9"/>
<path d="M85.0,324.7 L85.8,323.1 L86.1,322.1 L86.3,321.5 L86.6,320.2 L86.6,319.3 L87.3,318.5 L87.7,317.5 L88.2,316.8 L88.6,316.3 L89.4,316.2 L90.1,315.3 L90.7,315.4 L91.6,315.0 L91.9,314.5 L92.7,314.2 L93.7,314.1 L94.3,314.0 L95.0,313.6 L96.0,313.1 L96.5,312.9 L97.2,313.0 L98.2,312.9 L99.1,312.3 L100.3,312.7 L100.4,311.8 L101.5,311.7 L102.7,311.4 L102.9,311.7 L104.7,310.8 L105.3,310.3 L106.7,309.9 L107.7,309.7 L108.8,309.5 L109.8,308.8 L110.8,309.2 L111.3,309.2 L112.3,309.0 L113.7,309.0 L115.1,309.1 L116.4,308.9 L117.0,309.0 L118.0,309.2 L118.8,310.3 L119.1,312.2 L119.3,314.1 L119.6,316.3 L119.9,318.2 L119.7,319.6 L119.1,320.9 L118.6,322.6 L118.3,323.4 L117.6,324.7 L117.0,325.1 L116.3,325.6 L115.4,325.6 L115.3,326.3 L114.5,327.1 L114.0,327.5 L112.9,327.8 L112.6,328.6 L112.2,329.1 L111.3,329.6 L111.2,329.9 L110.3,330.9 L110.3,331.3 L109.3,331.5 L108.5,332.1 L107.8,333.0 L107.0,333.7 L105.7,333.5 L105.3,334.5 L103.7,334.5 L102.6,334.7 L101.9,335.1 L100.6,334.6 L100.1,334.8 L99.4,334.5 L98.0,333.9 L97.6,334.7 L96.5,333.9 L95.0,333.2 L94.5,333.6 L93.8,332.5 L92.7,332.4 L91.6,331.5 L90.3,331.5 L89.6,330.6 L89.1,330.2 L87.5,329.7 L87.1,328.8 L86.8,328.5 L86.0,327.8 L85.9,327.1 L85.8,326.3 L85.6,325.7 Z" fill="none" stroke="#5a5a5a" stroke-width="0.45" opacity="0.9"/>
<path d="M87.2,323.7 L87.5,322.8 L87.8,322.1 L88.5,320.5 L88.4,319.8 L88.5,319.2 L89.2,318.9 L89.7,317.4 L89.6,317.0 L90.2,316.5 L91.0,315.9 L91.3,316.2 L92.2,315.9 L92.5,315.4 L93.7,315.2 L93.8,314.8 L94.5,314.1 L95.4,314.3 L96.0,314.0 L96.9,313.6 L97.6,313.8 L98.3,313.6 L98.6,313.2 L99.4,313.2 L99.9,312.8 L100.7,312.7 L101.7,312.2 L102.9,312.3 L103.3,311.6 L104.0,311.2 L105.2,311.1 L106.2,310.7 L106.8,310.4 L107.7,310.2 L108.5,310.1 L110.1,310.5 L111.1,310.0 L111.8,310.0 L112.5,309.6 L113.1,309.4 L114.9,309.2 L115.8,309.7 L116.5,310.3 L117.3,311.0 L117.7,312.3 L118.3,314.6 L118.3,316.1 L118.5,318.2 L118.0,319.5 L117.8,320.6 L117.3,321.9 L117.0,323.2 L116.7,323.6 L115.9,324.0 L114.9,324.1 L114.1,324.7 L113.9,325.4 L113.5,326.2 L113.0,326.3 L112.2,326.8 L111.9,327.1 L110.9,327.8 L111.0,328.6 L110.4,328.3 L109.7,329.5 L109.6,330.2 L108.5,330.4 L107.7,330.7 L107.3,331.4 L106.7,331.3 L105.7,332.2 L105.3,332.3 L103.7,332.6 L103.2,332.9 L102.1,333.2 L101.0,333.4 L99.9,333.6 L99.4,332.8 L98.6,332.5 L97.7,332.4 L96.9,332.2 L96.4,331.7 L95.6,331.3 L94.7,331.0 L93.4,330.7 L92.7,330.1 L91.8,330.0 L90.6,329.2 L90.2,328.8 L89.5,328.8 L88.3,327.7 L88.1,327.5 L87.9,326.3 L87.9,326.1 L87.4,325.5 L87.5,324.5 Z" fill="none" stroke="#5a5a5a" stroke-width="0.45" opacity="0.9"/>
<path d="M89.2,323.4 L89.2,321.9 L89.8,320.9 L89.8,320.4 L89.8,319.5 L90.0,318.8 L90.6,318.2 L90.9,317.7 L91.4,316.8 L91.8,316.9 L92.2,316.1 L92.8,315.6 L93.5,315.5 L93.8,315.5 L94.8,314.7 L94.9,314.8 L95.3,314.9 L96.8,314.7 L97.2,313.8 L97.4,313.8 L98.3,314.0 L98.7,314.0 L99.6,314.1 L100.4,313.7 L100.3,313.6 L101.4,312.6 L102.1,312.7 L102.8,312.7 L103.3,312.3 L104.7,311.6 L105.5,311.4 L105.8,311.6 L106.8,310.7 L107.4,311.1 L108.2,310.6 L109.2,310.6 L109.8,310.3 L110.9,310.7 L111.0,310.4 L112.8,310.1 L113.8,310.0 L114.7,310.9 L115.6,310.3 L115.8,311.6 L116.3,313.5 L116.5,315.3 L116.1,316.2 L116.4,318.0 L116.7,319.0 L116.0,320.6 L115.6,321.5 L115.3,322.2 L115.6,322.8 L114.5,323.1 L114.0,324.1 L113.5,323.8 L112.9,324.9 L112.1,324.9 L111.6,325.2 L111.2,325.5 L111.1,326.2 L109.9,326.4 L109.8,326.8 L109.6,327.5 L109.2,327.6 L108.5,328.3 L108.1,328.8 L107.5,329.2 L107.4,329.5 L105.9,330.2 L105.4,330.7 L105.1,331.2 L104.0,330.6 L103.5,331.5 L102.6,331.4 L101.4,331.4 L100.3,331.6 L99.9,331.1 L99.4,330.9 L98.8,330.8 L98.5,331.0 L97.4,330.4 L96.5,329.8 L95.2,329.5 L94.6,329.1 L94.0,328.4 L92.8,328.3 L92.2,328.3 L92.2,327.5 L91.0,327.0 L90.4,327.0 L89.9,326.2 L89.5,325.4 L89.6,325.1 L89.6,324.3 L89.4,324.3 Z" fill="none" stroke="#5a5a5a" stroke-width="0.45" opacity="0.9"/>
<path d="M90.9,322.4 L91.5,321.6 L91.1,320.6 L91.5,319.8 L91.5,319.3 L91.5,319.0 L91.9,318.1 L92.4,317.9 L92.6,317.6 L93.6,316.8 L93.3,315.9 L94.0,316.0 L94.7,316.0 L95.2,315.5 L95.7,314.8 L96.4,314.8 L96.2,314.8 L97.1,314.5 L97.7,314.7 L98.4,314.6 L98.7,314.4 L99.7,314.1 L99.9,313.5 L100.6,314.4 L101.3,313.6 L102.0,313.8 L102.7,312.9 L102.7,313.2 L103.8,312.9 L104.0,312.7 L105.5,312.5 L106.4,312.1 L106.5,312.3 L107.4,311.1 L107.5,311.6 L108.4,311.8 L109.7,311.6 L109.9,311.1 L110.9,311.0 L111.7,311.2 L112.6,311.2 L113.0,310.5 L113.6,311.3 L114.6,312.1 L114.7,313.7 L115.2,315.4 L115.2,316.9 L114.9,318.1 L114.7,318.8 L114.9,320.1 L114.5,320.7 L113.9,321.0 L113.3,322.6 L112.8,322.2 L112.3,322.9 L112.2,323.2 L111.5,323.6 L111.0,324.1 L111.3,324.2 L110.6,324.6 L110.0,324.8 L109.7,325.5 L109.6,326.5 L108.7,326.6 L108.3,326.6 L107.9,327.2 L108.1,327.4 L107.3,327.6 L106.6,327.9 L106.0,328.1 L106.0,329.3 L104.6,329.1 L103.9,329.5 L103.2,330.1 L102.3,329.2 L101.8,329.8 L100.9,329.9 L100.4,329.4 L99.8,329.2 L99.1,329.7 L98.9,329.2 L98.0,328.8 L97.0,328.5 L96.4,328.0 L96.3,327.6 L95.1,327.5 L94.6,327.1 L93.8,326.8 L93.0,326.2 L92.1,326.1 L91.7,325.7 L91.9,324.8 L91.0,324.3 L90.9,324.5 L90.8,323.4 L90.5,323.1 Z" fill="none" stroke="#5a5a5a" stroke-width="0.45" opacity="0.9"/>
<path d="M92.8,322.0 L92.8,320.9 L92.9,320.9 L93.4,319.8 L93.1,318.9 L93.3,318.4 L93.7,317.7 L94.3,317.2 L94.3,317.2 L94.8,317.0 L95.0,316.4 L95.7,316.4 L95.8,316.1 L95.9,315.8 L96.1,315.8 L96.9,315.6 L97.7,315.1 L98.3,315.5 L98.3,315.4 L99.1,314.6 L99.4,314.8 L100.1,314.4 L100.4,314.6 L101.0,314.8 L101.7,314.3 L101.8,313.7 L102.3,313.7 L103.3,313.9 L103.9,313.1 L104.3,313.6 L105.0,313.0 L105.2,312.3 L106.0,312.4 L106.9,312.3 L107.0,312.8 L108.1,311.7 L109.0,312.2 L109.2,311.9 L110.0,311.3 L110.8,311.9 L111.5,311.8 L111.9,312.4 L111.8,312.7 L113.4,312.7 L113.4,313.9 L113.5,315.0 L113.3,316.6 L113.6,317.8 L113.8,318.6 L114.0,320.0 L112.8,320.4 L112.8,321.1 L112.3,321.9 L112.0,322.4 L111.4,322.7 L111.3,322.8 L110.9,322.9 L110.2,323.1 L109.9,323.4 L109.6,324.0 L109.4,324.1 L108.6,324.7 L108.5,324.7 L108.4,325.1 L108.0,325.5 L107.2,326.0 L107.2,326.3 L106.9,326.4 L106.7,326.8 L106.1,327.3 L105.4,327.7 L104.8,327.4 L103.9,328.2 L103.3,327.9 L102.7,328.3 L101.8,328.1 L101.4,327.9 L101.1,327.9 L100.4,328.0 L100.0,327.9 L99.5,327.3 L98.1,327.5 L98.6,326.9 L97.6,326.9 L96.7,326.4 L96.1,326.3 L95.6,326.3 L94.8,325.3 L94.1,325.2 L93.8,324.7 L93.6,324.1 L92.7,324.5 L92.8,323.4 L93.0,323.3 L92.4,322.9 L92.9,322.5 Z" fill="none" stroke="#5a5a5a" stroke-width="0.45" opacity="0.9"/>
<path d="M94.3,321.4 L94.2,320.3 L94.6,319.5 L94.8,319.3 L95.0,318.8 L95.4,317.9 L95.0,317.7 L95.3,317.6 L95.3,317.3 L96.2,316.7 L95.9,316.6 L96.7,316.0 L96.8,315.9 L97.0,316.0 L98.0,315.8 L97.9,315.6 L98.5,315.9 L98.8,315.5 L99.2,315.5 L99.5,315.3 L100.0,315.2 L100.2,314.9 L101.2,315.0 L101.1,315.3 L101.9,314.5 L102.2,314.1 L103.1,314.5 L103.6,313.8 L103.3,313.3 L103.9,313.5 L104.5,313.0 L105.4,313.1 L105.9,313.4 L106.2,312.9 L107.2,312.5 L107.3,312.5 L107.9,312.5 L108.5,312.5 L109.3,312.4 L109.6,312.7 L110.0,312.5 L110.9,312.6 L111.6,312.8 L111.5,313.8 L111.9,314.3 L112.2,315.9 L112.5,316.7 L112.4,317.5 L112.6,318.7 L111.9,319.5 L111.6,319.7 L111.5,320.8 L111.8,320.9 L110.8,321.5 L110.4,321.8 L109.9,322.0 L109.6,322.4 L109.6,322.1 L109.2,321.9 L108.9,323.0 L109.2,322.8 L108.6,323.7 L108.2,323.6 L107.7,323.8 L107.5,324.0 L107.0,324.6 L106.6,324.5 L106.4,325.2 L106.2,325.5 L106.0,325.7 L105.4,325.7 L104.7,326.3 L104.4,326.2 L103.9,326.4 L102.7,326.1 L102.5,326.4 L102.0,326.6 L101.6,326.5 L100.7,326.3 L100.4,326.3 L99.8,326.3 L99.0,325.5 L99.2,325.7 L99.0,325.6 L97.7,324.8 L97.3,324.8 L97.0,324.5 L96.1,324.1 L95.8,323.8 L95.3,323.8 L94.9,323.0 L94.8,323.2 L94.2,322.6 L93.9,322.1 L94.0,321.7 L94.1,322.0 Z" fill="none" stroke="#5a5a5a" stroke-width="0.45" opacity="0.9"/>
<path d="M96.1,320.2 L96.0,319.8 L96.0,318.8 L96.1,318.5 L96.1,318.4 L95.4,317.4 L96.6,318.0 L96.9,317.0 L96.8,317.2 L97.1,316.2 L97.7,316.3 L97.7,315.9 L97.8,316.5 L98.3,316.2 L99.1,315.9 L99.0,315.7 L99.6,315.8 L99.8,316.0 L100.2,315.8 L100.2,315.3 L100.9,315.1 L100.7,315.2 L101.3,315.2 L102.2,314.9 L101.9,314.8 L102.4,314.6 L103.2,314.8 L103.4,314.4 L104.0,314.3 L104.6,314.2 L104.6,314.2 L105.6,313.4 L105.7,313.4 L105.6,313.5 L106.6,313.1 L106.8,313.9 L107.6,313.3 L107.9,313.3 L108.1,313.1 L109.0,313.1 L109.2,313.2 L109.4,313.3 L110.7,313.4 L110.5,314.4 L110.9,314.9 L111.0,315.9 L110.9,316.5 L110.8,317.0 L110.9,318.1 L110.6,318.5 L110.5,319.0 L110.5,319.6 L110.3,320.0 L110.0,320.6 L109.7,320.6 L108.7,321.1 L108.7,320.8 L108.3,321.5 L108.5,321.7 L108.3,322.1 L107.8,322.1 L107.5,322.3 L107.3,322.7 L107.0,322.9 L107.1,323.0 L106.8,323.1 L106.1,324.0 L106.0,324.1 L105.2,323.4 L105.3,324.2 L104.3,324.7 L104.6,324.5 L104.1,325.0 L103.5,324.8 L103.2,324.9 L102.4,324.6 L102.2,325.3 L101.6,324.8 L101.0,324.8 L101.2,324.7 L100.7,324.8 L100.0,324.2 L99.9,324.1 L99.1,324.0 L99.0,324.1 L98.2,323.7 L98.1,322.6 L97.7,323.1 L96.7,323.3 L96.8,322.6 L97.0,322.5 L95.9,322.0 L96.4,322.1 L96.2,321.5 L96.1,321.0 L95.7,321.0 Z" fill="none" stroke="#5a5a5a" stroke-width="0.45" opacity="0.9"/>
<path d="M97.3,319.8 L97.4,319.3 L98.0,319.0 L97.9,318.1 L97.5,318.4 L97.4,317.7 L97.8,317.8 L97.6,317.1 L98.2,317.0 L98.0,317.1 L98.9,316.9 L99.1,316.6 L99.1,316.2 L99.1,316.3 L99.4,316.4 L100.1,315.9 L100.3,315.5 L100.2,315.7 L100.4,315.6 L101.0,315.5 L101.1,315.3 L101.1,315.7 L101.8,315.8 L101.9,315.3 L102.7,315.6 L103.0,315.4 L102.8,315.2 L103.9,314.4 L103.9,315.4 L103.9,314.7 L105.0,314.7 L104.9,314.7 L105.2,314.5 L105.6,314.5 L105.7,314.1 L106.4,313.5 L106.9,314.0 L106.9,313.6 L107.4,313.7 L108.0,314.4 L108.1,313.8 L108.7,314.0 L109.2,313.8 L109.5,314.7 L109.4,314.9 L109.8,316.3 L109.7,316.9 L109.9,317.4 L109.8,317.7 L109.7,317.9 L109.7,319.4 L109.5,319.1 L108.9,319.8 L108.5,319.9 L108.4,320.4 L108.1,320.1 L108.1,320.7 L107.7,320.2 L107.2,320.4 L107.4,320.7 L107.1,320.8 L106.8,321.5 L106.4,321.8 L106.5,321.5 L106.2,321.9 L105.9,322.0 L106.0,321.8 L106.3,322.7 L105.7,323.3 L105.2,322.9 L104.7,323.2 L104.7,323.0 L104.4,323.3 L103.3,323.8 L103.1,323.7 L102.5,323.7 L102.4,323.8 L101.8,323.3 L101.6,323.4 L101.3,323.2 L101.2,323.0 L101.0,323.1 L100.2,323.1 L99.9,322.5 L100.3,322.3 L99.4,322.5 L98.9,322.1 L98.6,321.9 L98.1,322.0 L98.1,321.7 L97.8,321.1 L97.9,320.9 L97.7,320.7 L97.2,320.7 L97.9,320.6 L97.4,320.2 Z" fill="none" stroke="#5a5a5a" stroke-width="0.45" opacity="0.9"/>
<path d="M99.2,319.0 L98.4,318.5 L99.0,318.3 L99.0,318.5 L99.0,317.7 L99.2,317.9 L99.7,317.6 L99.3,317.1 L99.3,316.9 L99.9,317.0 L100.0,316.4 L100.1,316.4 L100.6,316.5 L100.4,316.4 L100.7,316.3 L100.7,316.3 L101.1,316.4 L101.4,316.3 L101.4,316.1 L101.2,315.8 L101.8,315.3 L102.5,316.1 L102.4,316.4 L102.2,315.8 L102.9,315.6 L103.5,315.9 L103.4,315.3 L103.6,315.4 L104.0,315.0 L103.9,315.5 L104.4,315.1 L104.7,314.3 L105.3,314.6 L104.9,315.0 L105.9,315.1 L105.7,314.6 L106.2,314.8 L105.9,315.0 L106.2,314.8 L107.0,314.9 L107.3,314.9 L107.7,314.5 L107.8,315.2 L107.6,315.4 L108.1,315.2 L108.1,316.4 L107.7,317.0 L108.7,317.2 L108.2,317.8 L108.5,317.9 L108.0,318.6 L107.6,318.9 L107.8,319.2 L107.4,319.2 L107.5,319.4 L107.0,319.8 L107.0,319.7 L106.9,319.9 L106.8,319.7 L106.8,320.0 L106.4,320.3 L106.0,320.4 L106.2,320.2 L105.9,320.7 L106.0,320.8 L105.7,321.1 L105.2,320.9 L105.2,321.5 L105.4,321.5 L104.8,321.5 L104.6,322.1 L104.2,321.7 L104.4,321.9 L103.6,321.8 L103.7,322.0 L102.6,321.5 L102.9,321.9 L102.7,322.1 L102.7,322.3 L101.8,321.8 L101.7,322.0 L101.2,321.8 L100.9,321.8 L101.4,321.0 L100.8,321.1 L100.1,321.4 L100.0,321.3 L100.0,321.3 L99.5,320.9 L99.5,320.4 L99.5,320.3 L98.9,320.2 L98.6,320.3 L99.3,319.5 L98.9,319.5 L98.7,319.6 Z" fill="none" stroke="#5a5a5a" stroke-width="0.45" opacity="0.9"/>
<path d="M100.8,318.6 L100.3,318.7 L100.3,317.9 L100.3,318.1 L100.5,317.7 L100.4,317.5 L100.6,317.7 L100.7,316.9 L101.2,317.1 L100.9,317.0 L101.1,316.2 L101.2,317.0 L101.6,316.4 L101.4,316.7 L102.1,316.6 L101.8,316.3 L101.8,316.3 L102.1,316.1 L102.1,316.0 L102.7,316.5 L102.5,316.2 L102.9,316.3 L102.7,315.5 L102.5,316.3 L103.1,315.9 L102.9,316.2 L103.2,316.0 L103.7,315.7 L103.6,315.9 L103.7,315.6 L104.3,315.9 L104.4,315.6 L104.8,314.9 L104.7,315.4 L104.9,315.6 L105.2,315.6 L105.7,315.3 L105.8,315.7 L106.1,315.3 L105.7,315.2 L106.3,315.4 L106.6,315.4 L106.5,315.6 L107.2,315.7 L107.1,316.3 L107.0,316.6 L107.4,316.7 L107.1,317.0 L106.8,317.1 L107.1,318.5 L106.9,318.5 L107.1,318.2 L107.0,318.3 L106.1,318.8 L106.4,318.6 L106.5,319.0 L106.2,319.0 L106.2,318.8 L106.2,318.9 L106.0,319.4 L106.0,318.8 L105.4,319.3 L105.3,319.5 L105.4,319.7 L105.9,319.8 L105.2,319.7 L105.0,319.9 L105.1,319.8 L104.7,319.9 L104.2,320.5 L104.4,320.5 L104.6,320.8 L104.0,320.6 L103.7,320.5 L103.2,320.8 L103.4,320.8 L103.6,320.4 L103.1,320.5 L103.1,320.5 L103.1,321.1 L103.0,320.9 L102.4,320.3 L101.8,320.3 L101.5,319.9 L102.0,320.3 L101.2,320.5 L101.0,319.6 L101.5,320.2 L100.9,319.8 L100.3,319.7 L100.5,319.6 L100.3,319.1 L100.6,319.3 L100.3,318.7 L100.4,319.2 L100.5,318.4 Z" fill="none" stroke="#5a5a5a" stroke-width="0.45" opacity="0.9"/>
<path d="M101.8,318.0 L102.2,317.7 L101.8,318.0 L101.5,317.3 L101.7,317.7 L101.7,317.4 L101.8,317.5 L102.1,316.9 L102.2,317.1 L102.2,316.7 L102.7,316.9 L102.2,316.9 L102.4,316.5 L102.7,316.4 L102.8,316.2 L102.3,317.0 L102.4,316.7 L102.9,317.0 L103.4,316.8 L103.2,316.9 L103.4,316.2 L103.4,316.3 L104.0,316.8 L103.2,316.9 L103.3,316.6 L103.3,316.3 L103.8,316.0 L104.0,316.6 L104.3,316.5 L104.2,316.4 L104.0,316.1 L104.6,315.9 L104.3,316.3 L104.5,315.8 L104.5,315.9 L104.5,315.9 L105.1,315.9 L105.1,315.8 L105.1,316.2 L105.4,315.9 L105.4,316.3 L105.5,315.7 L105.9,316.3 L105.8,316.1 L106.2,316.7 L106.0,316.7 L106.1,317.4 L105.7,317.3 L105.4,317.2 L106.0,317.6 L105.5,317.9 L105.9,318.0 L105.6,317.8 L105.5,318.0 L105.5,318.0 L105.6,318.4 L105.4,318.5 L104.8,318.8 L105.0,318.2 L105.2,318.6 L105.1,318.0 L104.9,318.2 L105.1,318.4 L104.2,318.4 L104.8,318.4 L104.8,318.3 L104.6,319.0 L104.6,318.6 L104.3,319.2 L104.5,319.1 L104.4,319.0 L104.1,319.1 L103.9,319.4 L103.6,319.7 L103.9,319.1 L104.0,319.6 L103.6,318.9 L103.4,319.2 L103.1,318.8 L103.0,319.1 L103.0,319.3 L102.7,319.2 L102.7,319.1 L102.8,319.3 L102.8,318.8 L102.5,318.4 L102.4,318.9 L102.3,318.5 L102.2,318.7 L102.1,318.3 L102.1,318.4 L101.6,318.3 L102.1,318.7 L101.7,318.0 L101.7,318.3 L102.1,318.1 Z" fill="none" stroke="#5a5a5a" stroke-width="0.45" opacity="0.9"/>
<path d="M78.2,316.5 L79.8,315.5 L81.4,314.7 L83.1,314.1 L85.0,313.6 L87.0,313.4 L88.9,313.4 L90.6,313.6 L92.2,314.1 L93.8,314.9 L94.9,315.9 L95.6,317.3 L96.0,319.0 L96.0,321.0 L95.6,322.9 L94.9,324.6 L93.8,326.2 L92.2,327.8 L90.6,328.9 L88.9,329.6 L87.0,330.0 L85.0,330.0 L83.2,329.7 L81.6,329.1 L80.1,328.1 L78.9,326.9 L77.9,325.5 L77.1,324.0 L76.6,322.4 L76.4,320.6 L76.6,319.1 L77.2,317.7 Z" fill="none" stroke="#666" stroke-width="0.45" opacity="0.85"/>
<path d="M79.5,317.1 L80.8,316.2 L82.3,315.5 L83.8,315.0 L85.4,314.6 L87.1,314.4 L88.8,314.4 L90.3,314.6 L91.7,315.0 L93.0,315.7 L94.0,316.6 L94.6,317.8 L94.9,319.3 L94.9,321.0 L94.6,322.6 L94.0,324.1 L93.0,325.6 L91.7,326.9 L90.3,327.8 L88.8,328.5 L87.1,328.8 L85.4,328.8 L83.8,328.5 L82.4,328.0 L81.2,327.2 L80.1,326.1 L79.2,324.9 L78.6,323.6 L78.1,322.2 L77.9,320.7 L78.1,319.3 L78.6,318.1 Z" fill="none" stroke="#666" stroke-width="0.45" opacity="0.85"/>
<path d="M80.8,317.7 L82.0,317.0 L83.1,316.4 L84.4,315.9 L85.8,315.6 L87.3,315.4 L88.6,315.4 L89.9,315.6 L91.1,316.0 L92.2,316.5 L93.0,317.3 L93.6,318.3 L93.9,319.5 L93.9,321.0 L93.6,322.4 L93.0,323.7 L92.2,324.9 L91.1,325.9 L89.9,326.8 L88.6,327.3 L87.3,327.6 L85.8,327.6 L84.5,327.4 L83.3,326.9 L82.2,326.2 L81.3,325.3 L80.6,324.3 L80.0,323.2 L79.7,322.0 L79.5,320.7 L79.6,319.6 L80.1,318.6 Z" fill="none" stroke="#666" stroke-width="0.45" opacity="0.85"/>
<path d="M82.2,318.3 L83.0,317.7 L84.0,317.2 L85.1,316.8 L86.2,316.6 L87.4,316.4 L88.5,316.4 L89.6,316.6 L90.5,316.9 L91.5,317.3 L92.1,318.0 L92.6,318.8 L92.8,319.8 L92.8,321.0 L92.6,322.1 L92.1,323.2 L91.5,324.1 L90.5,325.1 L89.6,325.7 L88.5,326.2 L87.4,326.4 L86.2,326.4 L85.1,326.2 L84.1,325.8 L83.3,325.3 L82.5,324.5 L81.9,323.7 L81.5,322.8 L81.2,321.8 L81.0,320.8 L81.1,319.8 L81.5,319.0 Z" fill="none" stroke="#666" stroke-width="0.45" opacity="0.85"/>
<path d="M83.5,318.9 L84.2,318.4 L84.9,318.1 L85.7,317.8 L86.6,317.6 L87.5,317.4 L88.4,317.4 L89.2,317.6 L90.0,317.8 L90.7,318.1 L91.2,318.6 L91.6,319.3 L91.7,320.1 L91.7,321.0 L91.6,321.9 L91.2,322.7 L90.7,323.4 L90.0,324.1 L89.2,324.7 L88.4,325.0 L87.5,325.2 L86.6,325.2 L85.8,325.1 L85.0,324.8 L84.3,324.3 L83.7,323.7 L83.3,323.1 L82.9,322.4 L82.7,321.6 L82.6,320.8 L82.7,320.1 L83.0,319.5 Z" fill="none" stroke="#666" stroke-width="0.45" opacity="0.85"/>
<path d="M84.8,319.5 L85.2,319.2 L85.8,318.9 L86.4,318.7 L87.0,318.5 L87.7,318.5 L88.3,318.5 L88.9,318.5 L89.4,318.7 L89.9,319.0 L90.3,319.3 L90.5,319.8 L90.7,320.3 L90.7,321.0 L90.5,321.6 L90.3,322.2 L89.9,322.8 L89.4,323.2 L88.9,323.6 L88.3,323.9 L87.7,324.0 L87.0,324.0 L86.4,323.9 L85.9,323.7 L85.4,323.4 L85.0,323.0 L84.6,322.5 L84.4,322.0 L84.2,321.5 L84.1,320.9 L84.2,320.4 L84.4,319.9 Z" fill="none" stroke="#666" stroke-width="0.45" opacity="0.85"/>
<path d="M86.0,320.1 L86.3,319.9 L86.7,319.7 L87.0,319.6 L87.4,319.5 L87.8,319.5 L88.2,319.5 L88.5,319.5 L88.8,319.6 L89.2,319.8 L89.4,320.0 L89.5,320.3 L89.6,320.6 L89.6,321.0 L89.5,321.4 L89.4,321.7 L89.2,322.1 L88.8,322.4 L88.5,322.6 L88.2,322.7 L87.8,322.8 L87.4,322.8 L87.0,322.7 L86.7,322.6 L86.4,322.4 L86.2,322.2 L86.0,321.9 L85.8,321.6 L85.7,321.3 L85.7,320.9 L85.7,320.6 L85.8,320.3 Z" fill="none" stroke="#666" stroke-width="0.45" opacity="0.85"/>
<path d="M49.9,350.2 L51.2,347.3 L52.1,345.1 L53.7,343.7 L55.3,342.0 L56.9,340.9 L58.6,339.8 L60.5,338.5 L62.9,337.3 L64.9,336.4 L67.1,334.6 L69.1,333.4 L70.9,332.3 L73.1,331.3 L74.7,330.4 L77.0,329.5 L78.6,329.4 L80.6,328.4 L83.2,328.8 L85.0,327.9 L87.3,328.7 L89.1,329.6 L90.8,330.6 L91.8,332.1 L92.8,333.5 L92.7,335.6 L92.8,337.5 L92.3,340.2 L91.7,342.4 L90.9,345.1 L90.1,347.4 L89.8,350.5 L88.7,353.3 L88.5,355.7 L88.2,358.7 L87.5,361.0 L87.2,362.8 L86.0,365.4 L84.8,367.1 L84.0,369.2 L82.3,370.1 L80.6,371.9 L78.3,372.9 L75.7,373.2 L73.6,374.2 L71.5,373.8 L69.4,373.6 L67.3,372.9 L64.7,371.2 L62.8,370.5 L61.0,369.1 L58.6,367.9 L56.5,366.3 L54.9,365.2 L53.9,363.8 L52.4,361.9 L51.1,359.8 L50.1,357.2 L49.5,355.1 L49.9,353.1 Z" fill="none" stroke="#6464cc" stroke-width="0.55" opacity="0.9"/>
<path d="M54.7,349.6 L55.2,347.3 L56.6,345.1 L57.6,343.5 L58.4,342.3 L60.0,341.3 L61.7,340.4 L63.1,339.7 L65.6,338.1 L67.0,337.0 L69.1,336.0 L70.7,334.5 L72.0,334.2 L73.8,332.7 L75.2,331.9 L76.8,331.8 L78.8,331.2 L80.7,330.3 L82.4,331.0 L84.2,330.4 L86.3,330.9 L87.8,331.8 L88.7,332.4 L89.8,333.2 L90.4,335.1 L90.8,336.2 L90.5,338.8 L90.7,340.2 L90.4,342.5 L88.9,344.8 L88.7,347.4 L88.1,349.2 L87.4,351.3 L87.1,353.7 L86.7,355.7 L86.1,357.9 L85.5,359.8 L84.9,361.7 L84.4,363.6 L82.9,365.2 L81.8,366.7 L80.0,367.5 L78.2,368.4 L76.6,369.0 L74.6,369.3 L72.8,369.3 L70.7,369.0 L68.8,368.2 L67.2,368.0 L65.5,366.4 L63.5,365.5 L62.1,364.4 L60.2,363.1 L58.6,361.8 L57.2,360.5 L55.8,358.8 L55.4,357.2 L54.6,355.2 L54.1,353.6 L53.9,351.3 Z" fill="none" stroke="#6464cc" stroke-width="0.55" opacity="0.9"/>
<path d="M58.0,348.4 L58.0,346.5 L59.0,344.9 L60.2,343.6 L61.1,342.3 L62.2,341.2 L63.8,340.8 L65.4,339.9 L67.2,338.7 L69.1,337.6 L70.1,336.7 L71.9,335.9 L72.9,335.1 L74.7,334.2 L75.8,333.7 L77.5,333.1 L78.7,332.5 L80.6,331.7 L82.4,332.0 L83.7,332.5 L85.3,332.2 L86.8,333.0 L88.1,333.6 L88.6,334.5 L89.1,335.7 L89.4,337.3 L89.4,338.8 L89.0,340.7 L88.6,342.8 L87.8,344.6 L87.4,346.3 L87.1,348.6 L86.1,350.7 L86.4,352.4 L86.2,354.5 L85.2,356.4 L84.9,357.7 L84.0,359.7 L83.6,361.3 L82.8,362.3 L81.4,364.0 L80.3,364.8 L78.4,365.1 L76.8,366.2 L75.4,366.0 L73.4,366.1 L71.8,365.8 L70.4,365.6 L68.7,364.5 L67.0,364.0 L65.5,362.3 L64.2,361.7 L63.2,360.5 L61.2,359.6 L60.1,358.4 L58.7,356.8 L58.1,355.6 L57.4,354.5 L57.3,352.5 L57.1,350.5 Z" fill="none" stroke="#6464cc" stroke-width="0.55" opacity="0.9"/>
<path d="M60.1,347.9 L60.9,346.3 L61.5,344.7 L62.0,343.3 L63.4,342.3 L64.4,341.7 L65.6,340.8 L67.3,340.0 L68.8,339.3 L70.1,338.6 L70.9,337.5 L72.4,336.6 L73.8,336.2 L75.0,335.6 L76.2,334.6 L77.6,334.3 L79.0,333.6 L80.4,333.1 L82.1,333.4 L83.3,333.4 L84.5,333.5 L86.1,333.9 L86.8,335.1 L88.0,335.7 L88.2,336.8 L88.5,338.0 L88.2,339.6 L88.3,341.0 L87.6,342.6 L86.9,344.3 L86.5,346.3 L85.9,347.8 L85.6,349.7 L85.5,351.2 L85.2,352.9 L84.9,354.5 L84.1,356.1 L83.9,357.5 L83.3,359.0 L82.3,360.2 L81.4,361.0 L79.9,362.0 L78.2,362.8 L77.0,363.0 L75.7,363.4 L74.4,363.4 L72.7,363.3 L71.5,362.6 L69.9,362.2 L68.6,361.3 L67.1,360.5 L66.2,359.5 L64.2,358.9 L63.2,357.4 L61.9,356.7 L61.7,355.7 L60.6,354.5 L60.1,352.6 L59.8,351.2 L59.8,349.7 Z" fill="none" stroke="#6464cc" stroke-width="0.55" opacity="0.9"/>
<path d="M62.1,347.6 L62.9,345.9 L63.5,344.5 L64.4,343.0 L65.4,342.6 L66.2,341.4 L67.3,341.0 L68.6,340.4 L70.2,339.8 L71.1,339.0 L71.7,338.0 L73.3,337.5 L74.6,336.9 L75.8,336.1 L76.7,335.6 L77.8,335.3 L79.0,334.9 L80.3,334.8 L81.5,334.6 L83.3,334.7 L84.1,335.0 L84.9,335.3 L86.2,335.8 L86.9,336.7 L87.3,337.4 L87.3,338.5 L87.4,339.9 L86.7,341.3 L86.4,342.9 L86.0,343.8 L85.5,346.0 L85.3,347.2 L85.0,348.9 L85.0,350.5 L84.5,351.7 L84.1,353.3 L83.7,354.7 L83.1,356.0 L82.8,357.1 L82.0,358.0 L81.1,359.1 L79.8,359.7 L78.6,360.3 L77.5,360.4 L76.5,360.7 L75.0,360.6 L73.3,360.8 L72.1,359.8 L71.1,359.4 L69.8,359.3 L68.5,358.2 L67.6,357.4 L66.4,356.9 L65.3,355.9 L64.5,354.7 L63.7,353.9 L63.2,352.9 L62.8,351.1 L62.1,350.1 L62.1,348.8 Z" fill="none" stroke="#6464cc" stroke-width="0.55" opacity="0.9"/>
<path d="M64.7,346.8 L64.9,345.2 L65.8,344.2 L66.3,343.3 L67.2,342.3 L68.5,341.9 L69.2,341.5 L70.3,340.7 L70.9,340.2 L72.3,339.0 L72.8,338.7 L74.2,338.2 L75.3,337.5 L76.6,337.3 L77.3,336.7 L77.6,336.3 L79.0,336.0 L80.2,335.8 L81.1,335.5 L82.3,335.5 L83.3,336.0 L84.8,336.2 L85.3,336.5 L85.6,337.5 L86.2,338.0 L86.3,339.3 L86.4,340.5 L86.1,341.4 L85.7,342.6 L85.0,343.7 L84.6,345.1 L84.5,346.7 L83.9,348.0 L84.1,349.6 L83.7,350.7 L83.4,352.1 L82.9,353.1 L82.4,354.5 L82.5,354.7 L81.5,355.7 L80.5,356.7 L79.7,357.7 L78.7,357.7 L77.7,358.4 L76.8,358.6 L75.3,358.3 L74.4,358.1 L73.5,357.9 L72.2,357.4 L71.1,356.5 L70.5,356.0 L68.9,355.1 L68.1,354.5 L67.3,354.4 L66.6,353.3 L66.0,352.4 L65.2,351.5 L64.7,350.5 L64.3,348.9 L64.8,347.9 Z" fill="none" stroke="#6464cc" stroke-width="0.55" opacity="0.9"/>
<path d="M66.8,346.2 L67.2,344.8 L67.7,343.9 L68.4,343.2 L69.0,342.8 L69.5,341.8 L70.7,341.9 L71.4,341.0 L72.6,340.7 L73.5,339.6 L74.1,339.2 L74.8,339.0 L76.0,338.3 L76.5,338.2 L77.5,337.5 L78.4,337.2 L78.9,336.9 L80.2,336.9 L80.8,336.5 L81.8,336.4 L83.0,337.0 L83.9,336.8 L84.2,338.0 L84.5,337.8 L85.1,339.2 L85.3,339.6 L85.3,340.8 L85.1,341.8 L84.9,343.0 L84.6,344.1 L84.0,344.7 L83.9,345.9 L84.0,347.1 L83.0,348.1 L83.2,349.6 L83.0,350.6 L82.5,351.7 L82.2,352.2 L82.1,353.5 L81.2,354.1 L80.8,355.0 L79.6,355.6 L78.4,355.8 L78.1,356.1 L77.1,355.9 L76.1,356.3 L75.0,356.1 L74.2,355.3 L73.2,355.5 L72.0,354.8 L71.5,354.0 L70.5,353.8 L69.9,352.9 L69.2,352.6 L68.4,352.2 L67.9,351.2 L67.5,350.4 L67.2,349.3 L66.4,348.6 L66.9,347.4 Z" fill="none" stroke="#6464cc" stroke-width="0.55" opacity="0.9"/>
<path d="M69.0,345.6 L69.3,344.5 L69.8,343.9 L70.0,343.3 L70.7,342.7 L71.5,342.8 L71.8,341.9 L72.9,341.5 L73.8,340.9 L74.2,340.5 L74.8,340.2 L75.5,339.7 L76.7,339.0 L77.0,338.7 L78.1,338.5 L78.1,338.4 L79.4,337.5 L79.5,338.3 L80.8,337.3 L81.7,338.0 L81.8,338.2 L83.1,338.1 L83.4,338.6 L83.8,339.0 L84.1,339.5 L84.4,340.5 L84.4,341.2 L84.5,341.7 L83.9,342.8 L83.8,343.3 L83.2,344.7 L83.1,346.1 L82.9,346.6 L82.8,347.8 L82.5,348.8 L82.1,349.6 L82.3,350.4 L82.2,350.9 L81.6,351.7 L80.9,352.2 L80.3,353.0 L79.3,353.1 L79.0,354.0 L78.2,354.2 L77.5,354.0 L76.4,354.1 L76.2,354.0 L74.9,353.8 L74.0,353.1 L73.7,353.0 L72.9,352.4 L72.0,352.0 L71.3,351.7 L70.5,350.6 L70.0,350.6 L69.6,349.3 L69.8,348.9 L68.9,348.4 L68.9,347.4 L68.5,346.7 Z" fill="none" stroke="#6464cc" stroke-width="0.55" opacity="0.9"/>
<path d="M70.7,345.1 L71.4,344.3 L71.2,343.6 L72.0,343.3 L72.1,342.8 L72.9,342.6 L73.5,342.1 L74.0,341.8 L74.8,341.3 L75.2,341.3 L75.9,340.4 L76.6,340.0 L76.8,340.1 L77.5,339.7 L78.2,339.1 L78.8,339.0 L79.3,338.9 L79.9,338.5 L80.6,338.7 L81.3,338.5 L81.8,338.8 L82.2,339.0 L82.7,339.1 L83.0,339.7 L83.4,340.2 L83.6,340.9 L83.4,341.5 L83.0,342.2 L83.3,342.6 L83.1,343.7 L82.6,344.3 L82.4,345.0 L82.2,345.9 L82.1,346.5 L82.1,347.3 L81.9,348.3 L81.6,349.3 L81.5,349.6 L81.1,350.1 L80.5,350.7 L80.2,350.9 L79.8,351.6 L79.0,351.5 L78.1,351.7 L78.0,352.1 L77.0,352.0 L76.8,351.7 L75.8,351.5 L75.4,351.0 L74.6,351.1 L74.0,350.8 L73.6,350.1 L72.7,349.7 L72.5,349.4 L71.9,348.8 L71.8,348.7 L71.3,347.7 L71.4,347.5 L70.6,346.8 L70.8,345.8 Z" fill="none" stroke="#6464cc" stroke-width="0.55" opacity="0.9"/>
<path d="M72.7,344.8 L73.1,344.1 L73.3,343.4 L73.7,343.1 L73.9,342.9 L74.7,342.4 L75.0,342.1 L75.4,342.1 L75.7,341.8 L76.1,341.3 L76.9,341.3 L77.6,340.7 L77.5,340.6 L78.0,340.2 L78.3,340.1 L79.1,339.9 L79.2,339.9 L79.3,339.5 L80.2,339.7 L80.3,339.7 L81.0,340.0 L81.9,339.9 L82.1,339.9 L82.3,340.5 L82.7,340.8 L82.1,341.5 L82.3,341.7 L82.3,342.6 L82.3,343.1 L82.1,343.2 L82.0,344.2 L81.6,344.4 L82.2,345.7 L81.6,346.0 L81.6,346.6 L81.0,346.7 L81.3,347.8 L81.2,348.2 L80.8,348.7 L80.8,349.0 L80.3,349.5 L79.5,349.7 L79.0,349.6 L79.0,349.6 L78.2,350.1 L77.8,349.9 L77.0,350.0 L76.8,349.7 L76.0,349.2 L75.7,349.2 L75.4,348.9 L75.0,348.4 L74.0,348.5 L73.9,347.9 L73.6,347.4 L73.2,347.0 L73.1,346.7 L72.8,346.3 L72.8,345.5 L72.8,345.2 Z" fill="none" stroke="#6464cc" stroke-width="0.55" opacity="0.9"/>
<path d="M74.5,344.2 L75.0,343.9 L75.4,343.3 L75.3,343.5 L75.4,342.7 L75.7,342.6 L76.1,342.5 L76.3,342.1 L76.8,341.8 L77.0,341.9 L77.5,341.5 L77.5,341.3 L77.8,341.4 L78.5,341.1 L78.8,340.8 L79.1,340.8 L79.4,340.6 L79.5,340.7 L80.2,340.4 L80.4,340.6 L80.8,340.4 L80.8,340.5 L81.1,340.8 L81.7,341.0 L82.0,341.5 L81.8,341.8 L81.8,342.2 L81.7,342.6 L81.6,343.0 L81.6,343.4 L81.1,344.1 L81.0,344.3 L81.4,344.5 L80.9,344.9 L80.7,345.6 L80.7,345.9 L80.4,346.3 L80.4,346.2 L80.3,346.6 L80.5,346.9 L80.0,347.3 L79.5,347.4 L79.5,347.6 L78.8,348.0 L78.5,348.1 L78.1,347.7 L77.9,348.2 L77.6,347.7 L77.4,347.8 L76.7,347.6 L76.4,347.3 L76.2,347.2 L75.8,346.8 L75.0,346.5 L75.4,346.2 L75.1,346.0 L74.9,345.8 L75.0,345.5 L74.7,344.8 L74.7,344.4 Z" fill="none" stroke="#6464cc" stroke-width="0.55" opacity="0.9"/>
<path d="M76.8,343.6 L76.5,343.5 L76.6,343.3 L76.9,342.9 L76.9,343.3 L77.4,342.9 L77.5,343.0 L77.5,342.5 L77.8,342.2 L77.9,342.7 L78.3,342.0 L78.4,342.0 L78.6,341.9 L78.5,341.5 L79.0,341.7 L79.0,341.6 L79.3,341.6 L79.6,341.8 L80.1,341.7 L80.1,341.7 L80.4,341.7 L80.6,341.6 L80.8,341.8 L80.8,341.8 L80.7,342.2 L80.7,342.0 L81.2,342.7 L80.7,343.0 L80.3,343.1 L80.8,343.3 L80.5,343.6 L80.6,343.5 L80.3,344.2 L80.5,344.1 L80.1,344.6 L80.1,344.6 L80.1,345.1 L79.8,345.4 L80.0,345.6 L79.7,345.4 L79.9,346.0 L79.6,345.8 L79.6,346.2 L79.2,346.0 L79.2,346.2 L78.6,346.4 L78.7,346.1 L78.4,346.2 L78.0,345.7 L78.1,345.5 L77.3,345.4 L77.5,345.7 L77.1,345.6 L77.4,345.5 L76.6,345.3 L77.2,344.7 L76.3,345.0 L76.7,344.5 L76.5,343.9 L76.3,344.0 Z" fill="none" stroke="#6464cc" stroke-width="0.55" opacity="0.9"/>
<path d="M78.4,343.5 L78.5,343.1 L78.4,343.4 L78.2,343.1 L78.4,343.0 L79.0,343.0 L78.6,342.7 L78.5,342.8 L78.4,342.8 L79.0,342.6 L78.9,342.9 L79.3,343.0 L79.4,342.6 L79.2,342.8 L79.4,342.5 L79.7,342.4 L79.5,342.7 L79.7,342.4 L79.8,343.0 L79.7,342.6 L79.9,342.5 L80.2,342.4 L80.3,342.3 L80.0,342.4 L80.1,342.8 L80.1,342.7 L80.0,342.6 L80.2,342.9 L80.2,342.7 L79.9,342.8 L80.1,343.1 L79.7,343.5 L79.9,343.5 L79.8,343.7 L79.9,343.7 L79.8,343.9 L80.0,343.7 L79.9,343.6 L79.6,343.9 L79.5,344.1 L79.3,343.8 L79.6,344.0 L79.5,344.2 L79.2,344.1 L79.4,344.2 L79.2,344.4 L79.0,344.0 L78.9,344.5 L79.0,344.6 L79.0,344.3 L78.7,343.7 L78.3,344.0 L78.4,343.7 L78.6,343.9 L78.2,343.9 L78.7,343.9 L78.2,343.9 L77.9,343.5 L78.2,343.7 L78.1,343.2 Z" fill="none" stroke="#6464cc" stroke-width="0.55" opacity="0.9"/>
<rect x="93.8" y="293.9" width="37.7" height="31.700000000000045" fill="#be2d2d" opacity="0.33"/>
</g>
<rect x="93.8" y="293.9" width="37.7" height="31.700000000000045" fill="none" stroke="#333" stroke-width="0.6"/>
<text x="110.5" y="303.3" font-size="9.6" text-anchor="middle" fill="#222" stroke="#222" stroke-width="0.45" textLength="23.4" lengthAdjust="spacingAndGlyphs" >10.5%</text>
<rect x="37.5" y="293.9" width="94.0" height="93.70000000000005" fill="none" stroke="#000" stroke-width="1.3"/>
<line x1="32.0" y1="385" x2="32.0" y2="299.1" stroke="#111" stroke-width="1.2"/>
<path d="M32.0,294.5 L29.25,300.3 L32.0,299.1 L34.75,300.3 Z" fill="#111"/>
<text x="26.4" y="340.3" font-size="10.4" text-anchor="middle" fill="#222" stroke="#222" stroke-width="0.25" textLength="48.5" lengthAdjust="spacingAndGlyphs" transform="rotate(-90 26.4 340.3)" >cKit-APC-Cy7</text>
<line x1="38" y1="394.0" x2="126.20000000000002" y2="394.0" stroke="#111" stroke-width="1.2"/>
<path d="M130.8,394.0 L125.00000000000001,391.25 L126.20000000000002,394.0 L125.00000000000001,396.75 Z" fill="#111"/>
<text x="86.0" y="406.5" font-size="10.4" text-anchor="middle" fill="#222" stroke="#222" stroke-width="0.25" textLength="47.5" lengthAdjust="spacingAndGlyphs" >Sca1-PE-Cy7</text>
<line x1="131.9" y1="308.5" x2="153.01484711972296" y2="214.39083976051072" stroke="#111" stroke-width="1.0"/>
<path d="M154.00,210.00 L155.05,215.36 L150.76,214.40 Z" fill="#111"/>
<line x1="131.9" y1="314" x2="148.1731536631399" y2="339.4104859338869" stroke="#111" stroke-width="1.0"/>
<path d="M150.60,343.20 L146.05,340.18 L149.76,337.80 Z" fill="#111"/>
<g style="isolation:isolate">
<path d="M175.00,254.6 L175.00,254.60 C175.50,254.22 176.83,253.65 178.00,252.30 C179.17,250.95 180.67,248.47 182.00,246.50 C183.33,244.53 184.92,242.92 186.00,240.50 C187.08,238.08 187.83,235.08 188.50,232.00 C189.17,228.92 189.58,226.50 190.00,222.00 C190.42,217.50 190.63,210.00 191.00,205.00 C191.37,200.00 191.83,195.17 192.20,192.00 C192.57,188.83 192.87,186.33 193.20,186.00 C193.53,185.67 193.87,188.50 194.20,190.00 C194.53,191.50 194.87,194.08 195.20,195.00 C195.53,195.92 195.87,194.83 196.20,195.50 C196.53,196.17 196.82,196.92 197.20,199.00 C197.58,201.08 198.03,204.17 198.50,208.00 C198.97,211.83 199.38,217.27 200.00,222.00 C200.62,226.73 201.50,233.23 202.20,236.40 C202.90,239.57 203.52,238.65 204.20,241.00 C204.88,243.35 205.45,248.23 206.30,250.50 C207.15,252.77 208.80,253.92 209.30,254.60 L209.30,254.6 Z" fill="#cde4be" style="mix-blend-mode:multiply"/>
<path d="M240.50,254.6 L240.50,254.60 C241.25,254.25 243.58,253.27 245.00,252.50 C246.42,251.73 247.83,250.75 249.00,250.00 C250.17,249.25 251.12,248.50 252.00,248.00 C252.88,247.50 253.55,246.83 254.30,247.00 C255.05,247.17 255.80,248.08 256.50,249.00 C257.20,249.92 257.83,251.57 258.50,252.50 C259.17,253.43 260.17,254.25 260.50,254.60 L260.50,254.6 Z" fill="#cde4be" style="mix-blend-mode:multiply"/>
<path d="M177.00,254.6 L177.00,254.60 C177.83,253.75 180.67,250.93 182.00,249.50 C183.33,248.07 184.08,247.08 185.00,246.00 C185.92,244.92 186.73,244.17 187.50,243.00 C188.27,241.83 189.02,241.00 189.60,239.00 C190.18,237.00 190.63,234.42 191.00,231.00 C191.37,227.58 191.47,220.92 191.80,218.50 C192.13,216.08 192.58,216.53 193.00,216.50 C193.42,216.47 193.80,219.55 194.30,218.30 C194.80,217.05 195.47,211.83 196.00,209.00 C196.53,206.17 197.05,201.97 197.50,201.30 C197.95,200.63 198.28,201.88 198.70,205.00 C199.12,208.12 199.53,214.50 200.00,220.00 C200.47,225.50 201.00,233.17 201.50,238.00 C202.00,242.83 202.42,246.40 203.00,249.00 C203.58,251.60 204.33,252.67 205.00,253.60 C205.67,254.53 206.67,254.43 207.00,254.60 L207.00,254.6 Z" fill="#c3cde2" style="mix-blend-mode:multiply"/>
</g>
<path d="M175.00,254.60 C175.50,254.22 176.83,253.65 178.00,252.30 C179.17,250.95 180.67,248.47 182.00,246.50 C183.33,244.53 184.92,242.92 186.00,240.50 C187.08,238.08 187.83,235.08 188.50,232.00 C189.17,228.92 189.58,226.50 190.00,222.00 C190.42,217.50 190.63,210.00 191.00,205.00 C191.37,200.00 191.83,195.17 192.20,192.00 C192.57,188.83 192.87,186.33 193.20,186.00 C193.53,185.67 193.87,188.50 194.20,190.00 C194.53,191.50 194.87,194.08 195.20,195.00 C195.53,195.92 195.87,194.83 196.20,195.50 C196.53,196.17 196.82,196.92 197.20,199.00 C197.58,201.08 198.03,204.17 198.50,208.00 C198.97,211.83 199.38,217.27 200.00,222.00 C200.62,226.73 201.50,233.23 202.20,236.40 C202.90,239.57 203.52,238.65 204.20,241.00 C204.88,243.35 205.45,248.23 206.30,250.50 C207.15,252.77 208.80,253.92 209.30,254.60" fill="none" stroke="#a6cc8c" stroke-width="0.8" stroke-linejoin="round" stroke-linecap="round"/>
<path d="M240.50,254.60 C241.25,254.25 243.58,253.27 245.00,252.50 C246.42,251.73 247.83,250.75 249.00,250.00 C250.17,249.25 251.12,248.50 252.00,248.00 C252.88,247.50 253.55,246.83 254.30,247.00 C255.05,247.17 255.80,248.08 256.50,249.00 C257.20,249.92 257.83,251.57 258.50,252.50 C259.17,253.43 260.17,254.25 260.50,254.60" fill="none" stroke="#a6cc8c" stroke-width="0.8" stroke-linejoin="round" stroke-linecap="round"/>
<path d="M177.00,254.60 C177.83,253.75 180.67,250.93 182.00,249.50 C183.33,248.07 184.08,247.08 185.00,246.00 C185.92,244.92 186.73,244.17 187.50,243.00 C188.27,241.83 189.02,241.00 189.60,239.00 C190.18,237.00 190.63,234.42 191.00,231.00 C191.37,227.58 191.47,220.92 191.80,218.50 C192.13,216.08 192.58,216.53 193.00,216.50 C193.42,216.47 193.80,219.55 194.30,218.30 C194.80,217.05 195.47,211.83 196.00,209.00 C196.53,206.17 197.05,201.97 197.50,201.30 C197.95,200.63 198.28,201.88 198.70,205.00 C199.12,208.12 199.53,214.50 200.00,220.00 C200.47,225.50 201.00,233.17 201.50,238.00 C202.00,242.83 202.42,246.40 203.00,249.00 C203.58,251.60 204.33,252.67 205.00,253.60 C205.67,254.53 206.67,254.43 207.00,254.60" fill="none" stroke="#27478a" stroke-width="1.2" stroke-linejoin="round" stroke-linecap="round"/>
<path d="M172.60,213.00 C172.70,216.17 172.97,226.17 173.20,232.00 C173.43,237.83 173.70,244.23 174.00,248.00 C174.30,251.77 174.83,253.50 175.00,254.60" fill="none" stroke="#27478a" stroke-width="1.0" stroke-linejoin="round" stroke-linecap="round"/>
<line x1="224.2" y1="214.6" x2="266.70000000000005" y2="214.6" stroke="#333" stroke-width="1.1"/>
<line x1="224.2" y1="212.9" x2="224.2" y2="216.29999999999998" stroke="#333" stroke-width="1.0"/>
<text x="245.2" y="210.6" font-size="8.4" text-anchor="middle" fill="#1e1e1e" stroke="#1e1e1e" stroke-width="0.25" textLength="22.5" lengthAdjust="spacingAndGlyphs" >11.4%</text>
<rect x="172.3" y="161.3" width="94.4" height="93.29999999999998" fill="none" stroke="#000" stroke-width="1.4"/>
<text x="180.20000000000002" y="172.70000000000002" font-size="7.6" text-anchor="middle" fill="#222" stroke="#222" stroke-width="0.25" textLength="1.5" lengthAdjust="spacingAndGlyphs" >I</text>
<g style="isolation:isolate">
<path d="M291.90,254.6 L291.90,254.60 C292.00,253.17 292.15,247.68 292.50,246.00 C292.85,244.32 293.42,244.70 294.00,244.50 C294.58,244.30 295.25,245.88 296.00,244.80 C296.75,243.72 297.72,240.38 298.50,238.00 C299.28,235.62 299.83,232.23 300.70,230.50 C301.57,228.77 302.90,227.52 303.70,227.60 C304.50,227.68 305.02,230.18 305.50,231.00 C305.98,231.82 306.18,235.17 306.60,232.50 C307.02,229.83 307.50,221.22 308.00,215.00 C308.50,208.78 309.10,200.70 309.60,195.20 C310.10,189.70 310.52,185.65 311.00,182.00 C311.48,178.35 312.00,173.30 312.50,173.30 C313.00,173.30 313.52,179.33 314.00,182.00 C314.48,184.67 314.90,186.97 315.40,189.30 C315.90,191.63 316.50,193.70 317.00,196.00 C317.50,198.30 317.85,200.62 318.40,203.10 C318.95,205.58 319.78,207.75 320.30,210.90 C320.82,214.05 321.17,218.07 321.50,222.00 C321.83,225.93 321.97,230.67 322.30,234.50 C322.63,238.33 323.17,242.07 323.50,245.00 C323.83,247.93 323.85,250.50 324.30,252.10 C324.75,253.70 325.88,254.18 326.20,254.60 L326.20,254.6 Z" fill="#cde4be" style="mix-blend-mode:multiply"/>
<path d="M357.50,254.6 L357.50,254.60 C357.92,253.83 359.08,251.52 360.00,250.00 C360.92,248.48 362.08,246.78 363.00,245.50 C363.92,244.22 364.67,243.72 365.50,242.30 C366.33,240.88 367.25,238.55 368.00,237.00 C368.75,235.45 369.47,233.75 370.00,233.00 C370.53,232.25 370.78,232.25 371.20,232.50 C371.62,232.75 372.03,233.92 372.50,234.50 C372.97,235.08 373.37,235.68 374.00,236.00 C374.63,236.32 375.72,235.40 376.30,236.40 C376.88,237.40 377.13,239.90 377.50,242.00 C377.87,244.10 378.17,246.90 378.50,249.00 C378.83,251.10 379.33,253.67 379.50,254.60 L379.50,254.6 Z" fill="#cde4be" style="mix-blend-mode:multiply"/>
<path d="M294.00,254.6 L294.00,254.60 C294.67,254.08 296.83,252.60 298.00,251.50 C299.17,250.40 300.00,249.17 301.00,248.00 C302.00,246.83 303.07,246.10 304.00,244.50 C304.93,242.90 305.88,241.15 306.60,238.40 C307.32,235.65 307.82,231.57 308.30,228.00 C308.78,224.43 309.08,219.20 309.50,217.00 C309.92,214.80 310.30,214.83 310.80,214.80 C311.30,214.77 311.88,217.93 312.50,216.80 C313.12,215.67 313.88,210.68 314.50,208.00 C315.12,205.32 315.72,201.37 316.20,200.70 C316.68,200.03 316.97,200.98 317.40,204.00 C317.83,207.02 318.33,213.47 318.80,218.80 C319.27,224.13 319.78,231.10 320.20,236.00 C320.62,240.90 320.78,245.27 321.30,248.20 C321.82,251.13 322.68,252.53 323.30,253.60 C323.92,254.67 324.72,254.43 325.00,254.60 L325.00,254.6 Z" fill="#c3cde2" style="mix-blend-mode:multiply"/>
</g>
<path d="M291.90,254.60 C292.00,253.17 292.15,247.68 292.50,246.00 C292.85,244.32 293.42,244.70 294.00,244.50 C294.58,244.30 295.25,245.88 296.00,244.80 C296.75,243.72 297.72,240.38 298.50,238.00 C299.28,235.62 299.83,232.23 300.70,230.50 C301.57,228.77 302.90,227.52 303.70,227.60 C304.50,227.68 305.02,230.18 305.50,231.00 C305.98,231.82 306.18,235.17 306.60,232.50 C307.02,229.83 307.50,221.22 308.00,215.00 C308.50,208.78 309.10,200.70 309.60,195.20 C310.10,189.70 310.52,185.65 311.00,182.00 C311.48,178.35 312.00,173.30 312.50,173.30 C313.00,173.30 313.52,179.33 314.00,182.00 C314.48,184.67 314.90,186.97 315.40,189.30 C315.90,191.63 316.50,193.70 317.00,196.00 C317.50,198.30 317.85,200.62 318.40,203.10 C318.95,205.58 319.78,207.75 320.30,210.90 C320.82,214.05 321.17,218.07 321.50,222.00 C321.83,225.93 321.97,230.67 322.30,234.50 C322.63,238.33 323.17,242.07 323.50,245.00 C323.83,247.93 323.85,250.50 324.30,252.10 C324.75,253.70 325.88,254.18 326.20,254.60" fill="none" stroke="#a6cc8c" stroke-width="0.8" stroke-linejoin="round" stroke-linecap="round"/>
<path d="M357.50,254.60 C357.92,253.83 359.08,251.52 360.00,250.00 C360.92,248.48 362.08,246.78 363.00,245.50 C363.92,244.22 364.67,243.72 365.50,242.30 C366.33,240.88 367.25,238.55 368.00,237.00 C368.75,235.45 369.47,233.75 370.00,233.00 C370.53,232.25 370.78,232.25 371.20,232.50 C371.62,232.75 372.03,233.92 372.50,234.50 C372.97,235.08 373.37,235.68 374.00,236.00 C374.63,236.32 375.72,235.40 376.30,236.40 C376.88,237.40 377.13,239.90 377.50,242.00 C377.87,244.10 378.17,246.90 378.50,249.00 C378.83,251.10 379.33,253.67 379.50,254.60" fill="none" stroke="#a6cc8c" stroke-width="0.8" stroke-linejoin="round" stroke-linecap="round"/>
<path d="M294.00,254.60 C294.67,254.08 296.83,252.60 298.00,251.50 C299.17,250.40 300.00,249.17 301.00,248.00 C302.00,246.83 303.07,246.10 304.00,244.50 C304.93,242.90 305.88,241.15 306.60,238.40 C307.32,235.65 307.82,231.57 308.30,228.00 C308.78,224.43 309.08,219.20 309.50,217.00 C309.92,214.80 310.30,214.83 310.80,214.80 C311.30,214.77 311.88,217.93 312.50,216.80 C313.12,215.67 313.88,210.68 314.50,208.00 C315.12,205.32 315.72,201.37 316.20,200.70 C316.68,200.03 316.97,200.98 317.40,204.00 C317.83,207.02 318.33,213.47 318.80,218.80 C319.27,224.13 319.78,231.10 320.20,236.00 C320.62,240.90 320.78,245.27 321.30,248.20 C321.82,251.13 322.68,252.53 323.30,253.60 C323.92,254.67 324.72,254.43 325.00,254.60" fill="none" stroke="#27478a" stroke-width="1.2" stroke-linejoin="round" stroke-linecap="round"/>
<path d="M291.10,216.00 C291.20,219.00 291.47,228.50 291.70,234.00 C291.93,239.50 292.20,245.57 292.50,249.00 C292.80,252.43 293.33,253.67 293.50,254.60" fill="none" stroke="#27478a" stroke-width="1.0" stroke-linejoin="round" stroke-linecap="round"/>
<line x1="342.9" y1="214.6" x2="385.20000000000005" y2="214.6" stroke="#333" stroke-width="1.1"/>
<line x1="342.9" y1="212.9" x2="342.9" y2="216.29999999999998" stroke="#333" stroke-width="1.0"/>
<text x="363.7" y="210.0" font-size="8.4" text-anchor="middle" fill="#1e1e1e" stroke="#1e1e1e" stroke-width="0.25" textLength="24" lengthAdjust="spacingAndGlyphs" >29.0%</text>
<rect x="290.8" y="161.3" width="94.4" height="93.29999999999998" fill="none" stroke="#000" stroke-width="1.4"/>
<text x="299.40000000000003" y="172.70000000000002" font-size="7.6" text-anchor="middle" fill="#222" stroke="#222" stroke-width="0.25" textLength="3.9" lengthAdjust="spacingAndGlyphs" >II</text>
<g style="isolation:isolate">
<path d="M413.30,254.6 L413.30,254.60 C413.83,254.08 415.63,252.63 416.50,251.50 C417.37,250.37 417.67,248.97 418.50,247.80 C419.33,246.63 420.58,245.75 421.50,244.50 C422.42,243.25 423.25,242.55 424.00,240.30 C424.75,238.05 425.33,234.30 426.00,231.00 C426.67,227.70 427.37,223.17 428.00,220.50 C428.63,217.83 429.07,215.58 429.80,215.00 C430.53,214.42 431.62,218.25 432.40,217.00 C433.18,215.75 433.93,209.92 434.50,207.50 C435.07,205.08 435.38,202.83 435.80,202.50 C436.22,202.17 436.58,203.42 437.00,205.50 C437.42,207.58 437.83,211.42 438.30,215.00 C438.77,218.58 439.30,223.00 439.80,227.00 C440.30,231.00 440.80,235.50 441.30,239.00 C441.80,242.50 442.27,245.67 442.80,248.00 C443.33,250.33 443.88,251.90 444.50,253.00 C445.12,254.10 446.17,254.33 446.50,254.60 L446.50,254.6 Z" fill="#cde4be" style="mix-blend-mode:multiply"/>
<path d="M486.00,254.6 L486.00,254.60 C486.42,254.22 487.62,252.88 488.50,252.30 C489.38,251.72 490.38,251.12 491.30,251.10 C492.22,251.08 493.02,251.62 494.00,252.20 C494.98,252.78 496.67,254.20 497.20,254.60 L497.20,254.6 Z" fill="#cde4be" style="mix-blend-mode:multiply"/>
<path d="M413.00,254.6 L413.00,254.60 C413.50,254.17 415.17,253.07 416.00,252.00 C416.83,250.93 417.17,249.37 418.00,248.20 C418.83,247.03 420.05,246.32 421.00,245.00 C421.95,243.68 422.95,242.47 423.70,240.30 C424.45,238.13 424.85,235.27 425.50,232.00 C426.15,228.73 426.93,223.57 427.60,220.70 C428.27,217.83 428.93,215.58 429.50,214.80 C430.07,214.02 430.57,215.67 431.00,216.00 C431.43,216.33 431.60,218.30 432.10,216.80 C432.60,215.30 433.45,209.62 434.00,207.00 C434.55,204.38 434.97,201.60 435.40,201.10 C435.83,200.60 436.20,201.72 436.60,204.00 C437.00,206.28 437.40,211.13 437.80,214.80 C438.20,218.47 438.58,222.07 439.00,226.00 C439.42,229.93 439.83,234.73 440.30,238.40 C440.77,242.07 441.30,245.55 441.80,248.00 C442.30,250.45 442.73,252.00 443.30,253.10 C443.87,254.20 444.88,254.35 445.20,254.60 L445.20,254.6 Z" fill="#c3cde2" style="mix-blend-mode:multiply"/>
</g>
<path d="M413.30,254.60 C413.83,254.08 415.63,252.63 416.50,251.50 C417.37,250.37 417.67,248.97 418.50,247.80 C419.33,246.63 420.58,245.75 421.50,244.50 C422.42,243.25 423.25,242.55 424.00,240.30 C424.75,238.05 425.33,234.30 426.00,231.00 C426.67,227.70 427.37,223.17 428.00,220.50 C428.63,217.83 429.07,215.58 429.80,215.00 C430.53,214.42 431.62,218.25 432.40,217.00 C433.18,215.75 433.93,209.92 434.50,207.50 C435.07,205.08 435.38,202.83 435.80,202.50 C436.22,202.17 436.58,203.42 437.00,205.50 C437.42,207.58 437.83,211.42 438.30,215.00 C438.77,218.58 439.30,223.00 439.80,227.00 C440.30,231.00 440.80,235.50 441.30,239.00 C441.80,242.50 442.27,245.67 442.80,248.00 C443.33,250.33 443.88,251.90 444.50,253.00 C445.12,254.10 446.17,254.33 446.50,254.60" fill="none" stroke="#a6cc8c" stroke-width="0.8" stroke-linejoin="round" stroke-linecap="round"/>
<path d="M486.00,254.60 C486.42,254.22 487.62,252.88 488.50,252.30 C489.38,251.72 490.38,251.12 491.30,251.10 C492.22,251.08 493.02,251.62 494.00,252.20 C494.98,252.78 496.67,254.20 497.20,254.60" fill="none" stroke="#a6cc8c" stroke-width="0.8" stroke-linejoin="round" stroke-linecap="round"/>
<path d="M413.00,254.60 C413.50,254.17 415.17,253.07 416.00,252.00 C416.83,250.93 417.17,249.37 418.00,248.20 C418.83,247.03 420.05,246.32 421.00,245.00 C421.95,243.68 422.95,242.47 423.70,240.30 C424.45,238.13 424.85,235.27 425.50,232.00 C426.15,228.73 426.93,223.57 427.60,220.70 C428.27,217.83 428.93,215.58 429.50,214.80 C430.07,214.02 430.57,215.67 431.00,216.00 C431.43,216.33 431.60,218.30 432.10,216.80 C432.60,215.30 433.45,209.62 434.00,207.00 C434.55,204.38 434.97,201.60 435.40,201.10 C435.83,200.60 436.20,201.72 436.60,204.00 C437.00,206.28 437.40,211.13 437.80,214.80 C438.20,218.47 438.58,222.07 439.00,226.00 C439.42,229.93 439.83,234.73 440.30,238.40 C440.77,242.07 441.30,245.55 441.80,248.00 C442.30,250.45 442.73,252.00 443.30,253.10 C443.87,254.20 444.88,254.35 445.20,254.60" fill="none" stroke="#27478a" stroke-width="1.2" stroke-linejoin="round" stroke-linecap="round"/>
<path d="M410.10,213.00 C410.20,216.17 410.47,226.17 410.70,232.00 C410.93,237.83 411.20,244.23 411.50,248.00 C411.80,251.77 412.33,253.50 412.50,254.60" fill="none" stroke="#27478a" stroke-width="1.0" stroke-linejoin="round" stroke-linecap="round"/>
<line x1="461.9" y1="214.6" x2="504.20000000000005" y2="214.6" stroke="#333" stroke-width="1.1"/>
<line x1="461.9" y1="212.9" x2="461.9" y2="216.29999999999998" stroke="#333" stroke-width="1.0"/>
<text x="482.8" y="210.6" font-size="8.4" text-anchor="middle" fill="#1e1e1e" stroke="#1e1e1e" stroke-width="0.25" textLength="18.2" lengthAdjust="spacingAndGlyphs" >6.5%</text>
<rect x="409.8" y="161.3" width="94.4" height="93.29999999999998" fill="none" stroke="#000" stroke-width="1.4"/>
<text x="420.6" y="172.70000000000002" font-size="7.6" text-anchor="middle" fill="#222" stroke="#222" stroke-width="0.25" textLength="6.2" lengthAdjust="spacingAndGlyphs" >III</text>
<g style="isolation:isolate">
<path d="M173.30,387.3 L173.30,387.30 C173.97,387.08 176.13,386.53 177.30,386.00 C178.47,385.47 179.17,385.27 180.30,384.10 C181.43,382.93 183.02,380.85 184.10,379.00 C185.18,377.15 186.02,375.00 186.80,373.00 C187.58,371.00 188.10,369.67 188.80,367.00 C189.50,364.33 190.38,360.67 191.00,357.00 C191.62,353.33 192.07,348.83 192.50,345.00 C192.93,341.17 193.20,337.00 193.60,334.00 C194.00,331.00 194.42,328.92 194.90,327.00 C195.38,325.08 195.93,323.58 196.50,322.50 C197.07,321.42 197.78,321.52 198.30,320.50 C198.82,319.48 199.22,316.48 199.60,316.40 C199.98,316.32 200.27,317.90 200.60,320.00 C200.93,322.10 201.23,325.17 201.60,329.00 C201.97,332.83 202.38,337.83 202.80,343.00 C203.22,348.17 203.62,355.17 204.10,360.00 C204.58,364.83 205.12,368.42 205.70,372.00 C206.28,375.58 206.92,379.17 207.60,381.50 C208.28,383.83 209.02,385.03 209.80,386.00 C210.58,386.97 211.88,387.08 212.30,387.30 L212.30,387.3 Z" fill="#c3cde2" style="mix-blend-mode:multiply"/>
<path d="M175.80,387.3 L175.80,387.30 C176.67,386.97 179.63,385.88 181.00,385.30 C182.37,384.72 183.00,384.85 184.00,383.80 C185.00,382.75 186.00,380.72 187.00,379.00 C188.00,377.28 189.08,375.67 190.00,373.50 C190.92,371.33 191.75,368.92 192.50,366.00 C193.25,363.08 193.83,359.33 194.50,356.00 C195.17,352.67 195.83,349.67 196.50,346.00 C197.17,342.33 197.92,337.25 198.50,334.00 C199.08,330.75 199.58,328.12 200.00,326.50 C200.42,324.88 200.63,324.22 201.00,324.30 C201.37,324.38 201.82,325.20 202.20,327.00 C202.58,328.80 202.87,331.77 203.30,335.10 C203.73,338.43 204.30,343.08 204.80,347.00 C205.30,350.92 205.77,355.10 206.30,358.60 C206.83,362.10 207.47,365.27 208.00,368.00 C208.53,370.73 209.00,373.00 209.50,375.00 C210.00,377.00 210.50,378.65 211.00,380.00 C211.50,381.35 211.83,382.47 212.50,383.10 C213.17,383.73 214.08,383.73 215.00,383.80 C215.92,383.87 217.25,383.97 218.00,383.50 C218.75,383.03 218.93,382.53 219.50,381.00 C220.07,379.47 220.77,376.72 221.40,374.30 C222.03,371.88 222.73,367.05 223.30,366.50 C223.87,365.95 224.35,369.37 224.80,371.00 C225.25,372.63 225.47,374.72 226.00,376.30 C226.53,377.88 227.20,379.22 228.00,380.50 C228.80,381.78 229.88,383.58 230.80,384.00 C231.72,384.42 232.52,383.37 233.50,383.00 C234.48,382.63 235.68,381.68 236.70,381.80 C237.72,381.92 238.72,383.67 239.60,383.70 C240.48,383.73 241.18,382.65 242.00,382.00 C242.82,381.35 243.75,379.80 244.50,379.80 C245.25,379.80 245.85,381.45 246.50,382.00 C247.15,382.55 247.58,383.13 248.40,383.10 C249.22,383.07 250.47,381.90 251.40,381.80 C252.33,381.70 253.23,382.13 254.00,382.50 C254.77,382.87 255.13,383.20 256.00,384.00 C256.87,384.80 258.67,386.75 259.20,387.30 L259.20,387.3 Z" fill="#dfb487" style="mix-blend-mode:multiply"/>
</g>
<path d="M173.30,387.30 C173.97,387.08 176.13,386.53 177.30,386.00 C178.47,385.47 179.17,385.27 180.30,384.10 C181.43,382.93 183.02,380.85 184.10,379.00 C185.18,377.15 186.02,375.00 186.80,373.00 C187.58,371.00 188.10,369.67 188.80,367.00 C189.50,364.33 190.38,360.67 191.00,357.00 C191.62,353.33 192.07,348.83 192.50,345.00 C192.93,341.17 193.20,337.00 193.60,334.00 C194.00,331.00 194.42,328.92 194.90,327.00 C195.38,325.08 195.93,323.58 196.50,322.50 C197.07,321.42 197.78,321.52 198.30,320.50 C198.82,319.48 199.22,316.48 199.60,316.40 C199.98,316.32 200.27,317.90 200.60,320.00 C200.93,322.10 201.23,325.17 201.60,329.00 C201.97,332.83 202.38,337.83 202.80,343.00 C203.22,348.17 203.62,355.17 204.10,360.00 C204.58,364.83 205.12,368.42 205.70,372.00 C206.28,375.58 206.92,379.17 207.60,381.50 C208.28,383.83 209.02,385.03 209.80,386.00 C210.58,386.97 211.88,387.08 212.30,387.30" fill="none" stroke="#27478a" stroke-width="1.1" stroke-linejoin="round" stroke-linecap="round"/>
<path d="M175.80,387.30 C176.67,386.97 179.63,385.88 181.00,385.30 C182.37,384.72 183.00,384.85 184.00,383.80 C185.00,382.75 186.00,380.72 187.00,379.00 C188.00,377.28 189.08,375.67 190.00,373.50 C190.92,371.33 191.75,368.92 192.50,366.00 C193.25,363.08 193.83,359.33 194.50,356.00 C195.17,352.67 195.83,349.67 196.50,346.00 C197.17,342.33 197.92,337.25 198.50,334.00 C199.08,330.75 199.58,328.12 200.00,326.50 C200.42,324.88 200.63,324.22 201.00,324.30 C201.37,324.38 201.82,325.20 202.20,327.00 C202.58,328.80 202.87,331.77 203.30,335.10 C203.73,338.43 204.30,343.08 204.80,347.00 C205.30,350.92 205.77,355.10 206.30,358.60 C206.83,362.10 207.47,365.27 208.00,368.00 C208.53,370.73 209.00,373.00 209.50,375.00 C210.00,377.00 210.50,378.65 211.00,380.00 C211.50,381.35 211.83,382.47 212.50,383.10 C213.17,383.73 214.08,383.73 215.00,383.80 C215.92,383.87 217.25,383.97 218.00,383.50 C218.75,383.03 218.93,382.53 219.50,381.00 C220.07,379.47 220.77,376.72 221.40,374.30 C222.03,371.88 222.73,367.05 223.30,366.50 C223.87,365.95 224.35,369.37 224.80,371.00 C225.25,372.63 225.47,374.72 226.00,376.30 C226.53,377.88 227.20,379.22 228.00,380.50 C228.80,381.78 229.88,383.58 230.80,384.00 C231.72,384.42 232.52,383.37 233.50,383.00 C234.48,382.63 235.68,381.68 236.70,381.80 C237.72,381.92 238.72,383.67 239.60,383.70 C240.48,383.73 241.18,382.65 242.00,382.00 C242.82,381.35 243.75,379.80 244.50,379.80 C245.25,379.80 245.85,381.45 246.50,382.00 C247.15,382.55 247.58,383.13 248.40,383.10 C249.22,383.07 250.47,381.90 251.40,381.80 C252.33,381.70 253.23,382.13 254.00,382.50 C254.77,382.87 255.13,383.20 256.00,384.00 C256.87,384.80 258.67,386.75 259.20,387.30" fill="none" stroke="#ad6a24" stroke-width="1.0" stroke-linejoin="round" stroke-linecap="round"/>
<line x1="220.0" y1="358.2" x2="266.70000000000005" y2="358.2" stroke="#333" stroke-width="1.1"/>
<line x1="220.0" y1="356.5" x2="220.0" y2="359.9" stroke="#333" stroke-width="1.0"/>
<text x="243.0" y="352.6" font-size="8.4" text-anchor="middle" fill="#1e1e1e" stroke="#1e1e1e" stroke-width="0.25" textLength="22.5" lengthAdjust="spacingAndGlyphs" >12.5%</text>
<rect x="172.3" y="293.9" width="94.4" height="93.40000000000003" fill="none" stroke="#000" stroke-width="1.4"/>
<text x="180.20000000000002" y="305.29999999999995" font-size="7.6" text-anchor="middle" fill="#222" stroke="#222" stroke-width="0.25" textLength="1.5" lengthAdjust="spacingAndGlyphs" >I</text>
<g style="isolation:isolate">
<path d="M291.80,387.3 L291.80,387.30 C292.47,387.08 294.63,386.53 295.80,386.00 C296.97,385.47 297.67,385.27 298.80,384.10 C299.93,382.93 301.52,380.85 302.60,379.00 C303.68,377.15 304.52,375.00 305.30,373.00 C306.08,371.00 306.60,369.67 307.30,367.00 C308.00,364.33 308.88,360.67 309.50,357.00 C310.12,353.33 310.57,348.83 311.00,345.00 C311.43,341.17 311.70,337.00 312.10,334.00 C312.50,331.00 312.92,328.92 313.40,327.00 C313.88,325.08 314.43,323.58 315.00,322.50 C315.57,321.42 316.28,321.52 316.80,320.50 C317.32,319.48 317.72,316.48 318.10,316.40 C318.48,316.32 318.77,317.90 319.10,320.00 C319.43,322.10 319.73,325.17 320.10,329.00 C320.47,332.83 320.88,337.83 321.30,343.00 C321.72,348.17 322.12,355.17 322.60,360.00 C323.08,364.83 323.62,368.42 324.20,372.00 C324.78,375.58 325.42,379.17 326.10,381.50 C326.78,383.83 327.52,385.03 328.30,386.00 C329.08,386.97 330.38,387.08 330.80,387.30 L330.80,387.3 Z" fill="#c3cde2" style="mix-blend-mode:multiply"/>
<path d="M294.50,387.3 L294.50,387.30 C295.25,387.00 297.58,386.08 299.00,385.50 C300.42,384.92 301.83,384.88 303.00,383.80 C304.17,382.72 305.00,380.80 306.00,379.00 C307.00,377.20 308.08,375.33 309.00,373.00 C309.92,370.67 310.75,368.00 311.50,365.00 C312.25,362.00 312.83,358.67 313.50,355.00 C314.17,351.33 314.83,346.83 315.50,343.00 C316.17,339.17 316.83,335.17 317.50,332.00 C318.17,328.83 319.00,325.83 319.50,324.00 C320.00,322.17 320.10,321.60 320.50,321.00 C320.90,320.40 321.48,320.23 321.90,320.40 C322.32,320.57 322.65,320.73 323.00,322.00 C323.35,323.27 323.62,325.17 324.00,328.00 C324.38,330.83 324.88,335.00 325.30,339.00 C325.72,343.00 326.02,347.42 326.50,352.00 C326.98,356.58 327.62,362.67 328.20,366.50 C328.78,370.33 329.35,372.72 330.00,375.00 C330.65,377.28 331.27,379.28 332.10,380.20 C332.93,381.12 333.85,380.50 335.00,380.50 C336.15,380.50 338.03,380.70 339.00,380.20 C339.97,379.70 340.22,378.22 340.80,377.50 C341.38,376.78 341.97,375.57 342.50,375.90 C343.03,376.23 343.45,378.13 344.00,379.50 C344.55,380.87 344.80,383.27 345.80,384.10 C346.80,384.93 348.47,384.52 350.00,384.50 C351.53,384.48 353.33,384.03 355.00,384.00 C356.67,383.97 358.50,384.47 360.00,384.30 C361.50,384.13 362.67,383.17 364.00,383.00 C365.33,382.83 366.67,383.30 368.00,383.30 C369.33,383.30 370.83,382.80 372.00,383.00 C373.17,383.20 374.08,383.78 375.00,384.50 C375.92,385.22 377.08,386.83 377.50,387.30 L377.50,387.3 Z" fill="#dfb487" style="mix-blend-mode:multiply"/>
</g>
<path d="M291.80,387.30 C292.47,387.08 294.63,386.53 295.80,386.00 C296.97,385.47 297.67,385.27 298.80,384.10 C299.93,382.93 301.52,380.85 302.60,379.00 C303.68,377.15 304.52,375.00 305.30,373.00 C306.08,371.00 306.60,369.67 307.30,367.00 C308.00,364.33 308.88,360.67 309.50,357.00 C310.12,353.33 310.57,348.83 311.00,345.00 C311.43,341.17 311.70,337.00 312.10,334.00 C312.50,331.00 312.92,328.92 313.40,327.00 C313.88,325.08 314.43,323.58 315.00,322.50 C315.57,321.42 316.28,321.52 316.80,320.50 C317.32,319.48 317.72,316.48 318.10,316.40 C318.48,316.32 318.77,317.90 319.10,320.00 C319.43,322.10 319.73,325.17 320.10,329.00 C320.47,332.83 320.88,337.83 321.30,343.00 C321.72,348.17 322.12,355.17 322.60,360.00 C323.08,364.83 323.62,368.42 324.20,372.00 C324.78,375.58 325.42,379.17 326.10,381.50 C326.78,383.83 327.52,385.03 328.30,386.00 C329.08,386.97 330.38,387.08 330.80,387.30" fill="none" stroke="#27478a" stroke-width="1.1" stroke-linejoin="round" stroke-linecap="round"/>
<path d="M294.50,387.30 C295.25,387.00 297.58,386.08 299.00,385.50 C300.42,384.92 301.83,384.88 303.00,383.80 C304.17,382.72 305.00,380.80 306.00,379.00 C307.00,377.20 308.08,375.33 309.00,373.00 C309.92,370.67 310.75,368.00 311.50,365.00 C312.25,362.00 312.83,358.67 313.50,355.00 C314.17,351.33 314.83,346.83 315.50,343.00 C316.17,339.17 316.83,335.17 317.50,332.00 C318.17,328.83 319.00,325.83 319.50,324.00 C320.00,322.17 320.10,321.60 320.50,321.00 C320.90,320.40 321.48,320.23 321.90,320.40 C322.32,320.57 322.65,320.73 323.00,322.00 C323.35,323.27 323.62,325.17 324.00,328.00 C324.38,330.83 324.88,335.00 325.30,339.00 C325.72,343.00 326.02,347.42 326.50,352.00 C326.98,356.58 327.62,362.67 328.20,366.50 C328.78,370.33 329.35,372.72 330.00,375.00 C330.65,377.28 331.27,379.28 332.10,380.20 C332.93,381.12 333.85,380.50 335.00,380.50 C336.15,380.50 338.03,380.70 339.00,380.20 C339.97,379.70 340.22,378.22 340.80,377.50 C341.38,376.78 341.97,375.57 342.50,375.90 C343.03,376.23 343.45,378.13 344.00,379.50 C344.55,380.87 344.80,383.27 345.80,384.10 C346.80,384.93 348.47,384.52 350.00,384.50 C351.53,384.48 353.33,384.03 355.00,384.00 C356.67,383.97 358.50,384.47 360.00,384.30 C361.50,384.13 362.67,383.17 364.00,383.00 C365.33,382.83 366.67,383.30 368.00,383.30 C369.33,383.30 370.83,382.80 372.00,383.00 C373.17,383.20 374.08,383.78 375.00,384.50 C375.92,385.22 377.08,386.83 377.50,387.30" fill="none" stroke="#ad6a24" stroke-width="1.0" stroke-linejoin="round" stroke-linecap="round"/>
<line x1="338.4" y1="356.7" x2="385.20000000000005" y2="356.7" stroke="#333" stroke-width="1.1"/>
<line x1="338.4" y1="355.0" x2="338.4" y2="358.4" stroke="#333" stroke-width="1.0"/>
<text x="362.0" y="352.8" font-size="8.4" text-anchor="middle" fill="#1e1e1e" stroke="#1e1e1e" stroke-width="0.25" textLength="18.3" lengthAdjust="spacingAndGlyphs" >7.8%</text>
<rect x="290.8" y="293.9" width="94.4" height="93.40000000000003" fill="none" stroke="#000" stroke-width="1.4"/>
<text x="299.40000000000003" y="305.29999999999995" font-size="7.6" text-anchor="middle" fill="#222" stroke="#222" stroke-width="0.25" textLength="3.9" lengthAdjust="spacingAndGlyphs" >II</text>
<g style="isolation:isolate">
<path d="M410.80,387.3 L410.80,387.30 C411.47,387.08 413.63,386.53 414.80,386.00 C415.97,385.47 416.67,385.27 417.80,384.10 C418.93,382.93 420.52,380.85 421.60,379.00 C422.68,377.15 423.52,375.00 424.30,373.00 C425.08,371.00 425.60,369.67 426.30,367.00 C427.00,364.33 427.88,360.67 428.50,357.00 C429.12,353.33 429.57,348.83 430.00,345.00 C430.43,341.17 430.70,337.00 431.10,334.00 C431.50,331.00 431.92,328.92 432.40,327.00 C432.88,325.08 433.43,323.58 434.00,322.50 C434.57,321.42 435.28,321.42 435.80,320.50 C436.32,319.58 436.72,317.08 437.10,317.00 C437.48,316.92 437.77,318.00 438.10,320.00 C438.43,322.00 438.73,325.17 439.10,329.00 C439.47,332.83 439.88,337.83 440.30,343.00 C440.72,348.17 441.12,355.17 441.60,360.00 C442.08,364.83 442.62,368.42 443.20,372.00 C443.78,375.58 444.42,379.17 445.10,381.50 C445.78,383.83 446.52,385.03 447.30,386.00 C448.08,386.97 449.38,387.08 449.80,387.30 L449.80,387.3 Z" fill="#c3cde2" style="mix-blend-mode:multiply"/>
<path d="M413.80,387.3 L413.80,387.30 C414.50,387.00 416.63,386.08 418.00,385.50 C419.37,384.92 420.75,384.88 422.00,383.80 C423.25,382.72 424.42,380.97 425.50,379.00 C426.58,377.03 427.58,374.83 428.50,372.00 C429.42,369.17 430.17,365.67 431.00,362.00 C431.83,358.33 432.75,354.00 433.50,350.00 C434.25,346.00 434.88,341.17 435.50,338.00 C436.12,334.83 436.72,332.47 437.20,331.00 C437.68,329.53 437.98,329.03 438.40,329.20 C438.82,329.37 439.28,330.53 439.70,332.00 C440.12,333.47 440.50,338.17 440.90,338.00 C441.30,337.83 441.70,332.47 442.10,331.00 C442.50,329.53 442.88,328.20 443.30,329.20 C443.72,330.20 444.12,333.08 444.60,337.00 C445.08,340.92 445.67,347.87 446.20,352.70 C446.73,357.53 447.30,362.40 447.80,366.00 C448.30,369.60 448.58,371.97 449.20,374.30 C449.82,376.63 450.68,378.68 451.50,380.00 C452.32,381.32 453.35,381.95 454.10,382.20 C454.85,382.45 455.45,382.20 456.00,381.50 C456.55,380.80 456.95,380.58 457.40,378.00 C457.85,375.42 458.28,369.55 458.70,366.00 C459.12,362.45 459.48,359.03 459.90,356.70 C460.32,354.37 460.77,352.98 461.20,352.00 C461.63,351.02 462.08,350.63 462.50,350.80 C462.92,350.97 463.32,351.70 463.70,353.00 C464.08,354.30 464.37,356.43 464.80,358.60 C465.23,360.77 465.80,363.72 466.30,366.00 C466.80,368.28 467.07,370.92 467.80,372.30 C468.53,373.68 469.55,373.32 470.70,374.30 C471.85,375.28 473.38,377.22 474.70,378.20 C476.02,379.18 477.47,379.78 478.60,380.20 C479.73,380.62 480.52,380.70 481.50,380.70 C482.48,380.70 483.58,380.40 484.50,380.20 C485.42,380.00 486.18,379.83 487.00,379.50 C487.82,379.17 488.77,377.95 489.40,378.20 C490.03,378.45 490.32,380.02 490.80,381.00 C491.28,381.98 491.68,383.27 492.30,384.10 C492.92,384.93 493.68,385.47 494.50,386.00 C495.32,386.53 496.75,387.08 497.20,387.30 L497.20,387.3 Z" fill="#dfb487" style="mix-blend-mode:multiply"/>
</g>
<path d="M410.80,387.30 C411.47,387.08 413.63,386.53 414.80,386.00 C415.97,385.47 416.67,385.27 417.80,384.10 C418.93,382.93 420.52,380.85 421.60,379.00 C422.68,377.15 423.52,375.00 424.30,373.00 C425.08,371.00 425.60,369.67 426.30,367.00 C427.00,364.33 427.88,360.67 428.50,357.00 C429.12,353.33 429.57,348.83 430.00,345.00 C430.43,341.17 430.70,337.00 431.10,334.00 C431.50,331.00 431.92,328.92 432.40,327.00 C432.88,325.08 433.43,323.58 434.00,322.50 C434.57,321.42 435.28,321.42 435.80,320.50 C436.32,319.58 436.72,317.08 437.10,317.00 C437.48,316.92 437.77,318.00 438.10,320.00 C438.43,322.00 438.73,325.17 439.10,329.00 C439.47,332.83 439.88,337.83 440.30,343.00 C440.72,348.17 441.12,355.17 441.60,360.00 C442.08,364.83 442.62,368.42 443.20,372.00 C443.78,375.58 444.42,379.17 445.10,381.50 C445.78,383.83 446.52,385.03 447.30,386.00 C448.08,386.97 449.38,387.08 449.80,387.30" fill="none" stroke="#27478a" stroke-width="1.1" stroke-linejoin="round" stroke-linecap="round"/>
<path d="M413.80,387.30 C414.50,387.00 416.63,386.08 418.00,385.50 C419.37,384.92 420.75,384.88 422.00,383.80 C423.25,382.72 424.42,380.97 425.50,379.00 C426.58,377.03 427.58,374.83 428.50,372.00 C429.42,369.17 430.17,365.67 431.00,362.00 C431.83,358.33 432.75,354.00 433.50,350.00 C434.25,346.00 434.88,341.17 435.50,338.00 C436.12,334.83 436.72,332.47 437.20,331.00 C437.68,329.53 437.98,329.03 438.40,329.20 C438.82,329.37 439.28,330.53 439.70,332.00 C440.12,333.47 440.50,338.17 440.90,338.00 C441.30,337.83 441.70,332.47 442.10,331.00 C442.50,329.53 442.88,328.20 443.30,329.20 C443.72,330.20 444.12,333.08 444.60,337.00 C445.08,340.92 445.67,347.87 446.20,352.70 C446.73,357.53 447.30,362.40 447.80,366.00 C448.30,369.60 448.58,371.97 449.20,374.30 C449.82,376.63 450.68,378.68 451.50,380.00 C452.32,381.32 453.35,381.95 454.10,382.20 C454.85,382.45 455.45,382.20 456.00,381.50 C456.55,380.80 456.95,380.58 457.40,378.00 C457.85,375.42 458.28,369.55 458.70,366.00 C459.12,362.45 459.48,359.03 459.90,356.70 C460.32,354.37 460.77,352.98 461.20,352.00 C461.63,351.02 462.08,350.63 462.50,350.80 C462.92,350.97 463.32,351.70 463.70,353.00 C464.08,354.30 464.37,356.43 464.80,358.60 C465.23,360.77 465.80,363.72 466.30,366.00 C466.80,368.28 467.07,370.92 467.80,372.30 C468.53,373.68 469.55,373.32 470.70,374.30 C471.85,375.28 473.38,377.22 474.70,378.20 C476.02,379.18 477.47,379.78 478.60,380.20 C479.73,380.62 480.52,380.70 481.50,380.70 C482.48,380.70 483.58,380.40 484.50,380.20 C485.42,380.00 486.18,379.83 487.00,379.50 C487.82,379.17 488.77,377.95 489.40,378.20 C490.03,378.45 490.32,380.02 490.80,381.00 C491.28,381.98 491.68,383.27 492.30,384.10 C492.92,384.93 493.68,385.47 494.50,386.00 C495.32,386.53 496.75,387.08 497.20,387.30" fill="none" stroke="#ad6a24" stroke-width="1.0" stroke-linejoin="round" stroke-linecap="round"/>
<line x1="457.4" y1="356.7" x2="504.20000000000005" y2="356.7" stroke="#333" stroke-width="1.1"/>
<line x1="457.4" y1="355.0" x2="457.4" y2="358.4" stroke="#333" stroke-width="1.0"/>
<text x="481.0" y="349.8" font-size="8.4" text-anchor="middle" fill="#1e1e1e" stroke="#1e1e1e" stroke-width="0.25" textLength="23" lengthAdjust="spacingAndGlyphs" >27.3%</text>
<rect x="409.8" y="293.9" width="94.4" height="93.40000000000003" fill="none" stroke="#000" stroke-width="1.4"/>
<text x="420.6" y="305.29999999999995" font-size="7.6" text-anchor="middle" fill="#222" stroke="#222" stroke-width="0.25" textLength="6.2" lengthAdjust="spacingAndGlyphs" >III</text>
<line x1="166.6" y1="253.5" x2="166.6" y2="164.20000000000002" stroke="#111" stroke-width="1.2"/>
<path d="M166.6,159.6 L163.85,165.4 L166.6,164.20000000000002 L169.35,165.4 Z" fill="#111"/>
<line x1="166.6" y1="385.5" x2="166.6" y2="296.6" stroke="#111" stroke-width="1.2"/>
<path d="M166.6,292.0 L163.85,297.8 L166.6,296.6 L169.35,297.8 Z" fill="#111"/>
<text x="164.1" y="206.2" font-size="10.4" text-anchor="middle" fill="#222" stroke="#222" stroke-width="0.25" textLength="38.7" lengthAdjust="spacingAndGlyphs" transform="rotate(-90 164.1 206.2)" >Cell count</text>
<text x="163.4" y="338" font-size="10.4" text-anchor="middle" fill="#222" stroke="#222" stroke-width="0.25" textLength="38.6" lengthAdjust="spacingAndGlyphs" transform="rotate(-90 163.4 338)" >Cell count</text>
<line x1="173.7" y1="260.8" x2="498.7" y2="260.8" stroke="#111" stroke-width="1.2"/>
<path d="M503.3,260.8 L497.5,258.05 L498.7,260.8 L497.5,263.55 Z" fill="#111"/>
<text x="339.45" y="272.7" font-size="10.4" text-anchor="middle" fill="#222" stroke="#222" stroke-width="0.25" textLength="16.3" lengthAdjust="spacingAndGlyphs" >GFP</text>
<line x1="173.7" y1="392.3" x2="498.7" y2="392.3" stroke="#111" stroke-width="1.2"/>
<path d="M503.3,392.3 L497.5,389.55 L498.7,392.3 L497.5,395.05 Z" fill="#111"/>
<text x="338.85" y="405" font-size="10.4" text-anchor="middle" fill="#222" stroke="#222" stroke-width="0.25" textLength="41.1" lengthAdjust="spacingAndGlyphs" >CD45.1-PE</text>
<text x="172.3" y="60.3" font-size="9.9" text-anchor="start" fill="#222" stroke="#222" stroke-width="0.25" textLength="86.6" lengthAdjust="spacingAndGlyphs" >Experimental Groups</text>
<text x="172.3" y="73.3" font-size="9.9" text-anchor="start" fill="#222" stroke="#222" stroke-width="0.25" >I:</text>
<text x="184.2" y="73.3" font-size="9.9" text-anchor="start" fill="#222" stroke="#222" stroke-width="0.25" textLength="58.9" lengthAdjust="spacingAndGlyphs" >GFP + CD45.1</text>
<text x="172.3" y="86.5" font-size="9.9" text-anchor="start" fill="#222" stroke="#222" stroke-width="0.25" >II:</text>
<text x="184.2" y="86.5" font-size="9.9" text-anchor="start" fill="#222" stroke="#222" stroke-width="0.25" textLength="128.2" lengthAdjust="spacingAndGlyphs" >GFP-MLV-CHIR99021 + CD45.1</text>
<text x="172.3" y="99.5" font-size="9.9" text-anchor="start" fill="#222" stroke="#222" stroke-width="0.25" textLength="9.8" lengthAdjust="spacingAndGlyphs" >III:</text>
<text x="184.2" y="99.5" font-size="9.9" text-anchor="start" fill="#222" stroke="#222" stroke-width="0.25" textLength="127.1" lengthAdjust="spacingAndGlyphs" >GFP + CD45.1-MLV-CHIR99021</text>
<line x1="53.5" y1="442.7" x2="53.5" y2="559.1" stroke="#111" stroke-width="1.1"/>
<line x1="50.2" y1="445.3" x2="53.5" y2="445.3" stroke="#111" stroke-width="1.1"/>
<text x="46.9" y="448.2" font-size="9.2" text-anchor="end" fill="#222" stroke="#222" stroke-width="0.25" >4</text>
<line x1="50.2" y1="473.9" x2="53.5" y2="473.9" stroke="#111" stroke-width="1.1"/>
<text x="46.9" y="476.79999999999995" font-size="9.2" text-anchor="end" fill="#222" stroke="#222" stroke-width="0.25" >3</text>
<line x1="50.2" y1="502" x2="53.5" y2="502" stroke="#111" stroke-width="1.1"/>
<text x="46.9" y="504.9" font-size="9.2" text-anchor="end" fill="#222" stroke="#222" stroke-width="0.25" >2</text>
<line x1="50.2" y1="530.3" x2="53.5" y2="530.3" stroke="#111" stroke-width="1.1"/>
<text x="46.9" y="533.1999999999999" font-size="9.2" text-anchor="end" fill="#222" stroke="#222" stroke-width="0.25" >1</text>
<line x1="50.2" y1="558.5" x2="53.5" y2="558.5" stroke="#111" stroke-width="1.1"/>
<text x="46.9" y="561.4" font-size="9.2" text-anchor="end" fill="#222" stroke="#222" stroke-width="0.25" >0</text>
<line x1="50" y1="558.5" x2="116.4" y2="558.5" stroke="#111" stroke-width="1.1"/>
<rect x="57.2" y="478.5" width="13.799999999999997" height="80.0" fill="#a3002a" />
<line x1="64.1" y1="478.5" x2="64.1" y2="472.5" stroke="#111" stroke-width="1.0"/>
<line x1="60.699999999999996" y1="472.5" x2="67.5" y2="472.5" stroke="#111" stroke-width="1.0"/>
<rect x="77.9" y="471.3" width="13.799999999999997" height="87.19999999999999" fill="#2e4b7e" />
<line x1="84.80000000000001" y1="471.3" x2="84.80000000000001" y2="463.5" stroke="#111" stroke-width="1.0"/>
<line x1="81.4" y1="463.5" x2="88.20000000000002" y2="463.5" stroke="#111" stroke-width="1.0"/>
<rect x="98.4" y="466.5" width="14.099999999999994" height="92.0" fill="#6aa843" />
<line x1="105.45" y1="466.5" x2="105.45" y2="454.5" stroke="#111" stroke-width="1.0"/>
<line x1="102.05" y1="454.5" x2="108.85000000000001" y2="454.5" stroke="#111" stroke-width="1.0"/>
<text x="64" y="569.6" font-size="9.2" text-anchor="middle" fill="#222" stroke="#222" stroke-width="0.25" textLength="1.7" lengthAdjust="spacingAndGlyphs" >I</text>
<text x="84.8" y="569.6" font-size="9.2" text-anchor="middle" fill="#222" stroke="#222" stroke-width="0.25" textLength="4.5" lengthAdjust="spacingAndGlyphs" >II</text>
<text x="105.7" y="569.6" font-size="9.2" text-anchor="middle" fill="#222" stroke="#222" stroke-width="0.25" textLength="7.0" lengthAdjust="spacingAndGlyphs" >III</text>
<text x="36.1" y="499.7" font-size="10.4" text-anchor="middle" fill="#222" stroke="#222" stroke-width="0.25" textLength="115" lengthAdjust="spacingAndGlyphs" transform="rotate(-90 36.1 499.7)" >Donor Lin- cells  (% of CD45+)</text>
<line x1="190.5" y1="444" x2="190.5" y2="559.1" stroke="#111" stroke-width="1.1"/>
<line x1="187.2" y1="445.7" x2="190.5" y2="445.7" stroke="#111" stroke-width="1.1"/>
<text x="183.9" y="448.7" font-size="8.6" text-anchor="end" fill="#222" stroke="#222" stroke-width="0.25">3×10<tspan font-size="6" dy="-3.7">5</tspan></text>
<line x1="187.2" y1="483.3" x2="190.5" y2="483.3" stroke="#111" stroke-width="1.1"/>
<text x="183.9" y="486.3" font-size="8.6" text-anchor="end" fill="#222" stroke="#222" stroke-width="0.25">2×10<tspan font-size="6" dy="-3.7">5</tspan></text>
<line x1="187.2" y1="520.9" x2="190.5" y2="520.9" stroke="#111" stroke-width="1.1"/>
<text x="183.9" y="523.9" font-size="8.6" text-anchor="end" fill="#222" stroke="#222" stroke-width="0.25">1×10<tspan font-size="6" dy="-3.7">5</tspan></text>
<line x1="187.2" y1="558.5" x2="190.5" y2="558.5" stroke="#111" stroke-width="1.1"/>
<text x="183.9" y="561.4" font-size="9.2" text-anchor="end" fill="#222" stroke="#222" stroke-width="0.25" >0</text>
<line x1="187.5" y1="558.5" x2="310" y2="558.5" stroke="#111" stroke-width="1.1"/>
<rect x="198.2" y="548.9" width="10.400000000000006" height="9.399999999999977" fill="#3b6a50" />
<line x1="203.39999999999998" y1="548.9" x2="203.39999999999998" y2="547.5" stroke="#111" stroke-width="1.0"/>
<line x1="200.59999999999997" y1="547.5" x2="206.2" y2="547.5" stroke="#111" stroke-width="1.0"/>
<rect x="213.8" y="540" width="10.099999999999994" height="18.299999999999955" fill="#a8661f" />
<line x1="218.85000000000002" y1="540" x2="218.85000000000002" y2="538.5" stroke="#111" stroke-width="1.0"/>
<line x1="216.05" y1="538.5" x2="221.65000000000003" y2="538.5" stroke="#111" stroke-width="1.0"/>
<rect x="239.8" y="495.5" width="10.299999999999983" height="62.799999999999955" fill="#3b6a50" />
<line x1="244.95" y1="495.5" x2="244.95" y2="488.5" stroke="#111" stroke-width="1.0"/>
<line x1="242.14999999999998" y1="488.5" x2="247.75" y2="488.5" stroke="#111" stroke-width="1.0"/>
<rect x="255.7" y="536.9" width="10.300000000000011" height="21.399999999999977" fill="#a8661f" />
<line x1="260.85" y1="536.9" x2="260.85" y2="530.5" stroke="#111" stroke-width="1.0"/>
<line x1="258.05" y1="530.5" x2="263.65000000000003" y2="530.5" stroke="#111" stroke-width="1.0"/>
<rect x="281.6" y="548.9" width="10.399999999999977" height="9.399999999999977" fill="#3b6a50" />
<line x1="286.8" y1="548.9" x2="286.8" y2="547.5" stroke="#111" stroke-width="1.0"/>
<line x1="284.0" y1="547.5" x2="289.6" y2="547.5" stroke="#111" stroke-width="1.0"/>
<rect x="297.5" y="478.5" width="10.300000000000011" height="79.79999999999995" fill="#a8661f" />
<line x1="302.65" y1="478.5" x2="302.65" y2="458.5" stroke="#111" stroke-width="1.0"/>
<line x1="299.84999999999997" y1="458.5" x2="305.45" y2="458.5" stroke="#111" stroke-width="1.0"/>
<path d="M261.00,526.90 L261.00,525.30 M261.00,526.90 L262.52,526.41 M261.00,526.90 L259.48,526.41 M261.00,526.90 L260.06,528.19 M261.00,526.90 L261.94,528.19 " stroke="#111" stroke-width="0.85" stroke-linecap="round" fill="none"/>
<path d="M283.40,543.20 L283.40,541.60 M283.40,543.20 L284.92,542.71 M283.40,543.20 L281.88,542.71 M283.40,543.20 L282.46,544.49 M283.40,543.20 L284.34,544.49 M287.00,543.20 L287.00,541.60 M287.00,543.20 L288.52,542.71 M287.00,543.20 L285.48,542.71 M287.00,543.20 L286.06,544.49 M287.00,543.20 L287.94,544.49 M290.60,543.20 L290.60,541.60 M290.60,543.20 L292.12,542.71 M290.60,543.20 L289.08,542.71 M290.60,543.20 L289.66,544.49 M290.60,543.20 L291.54,544.49 " stroke="#111" stroke-width="0.85" stroke-linecap="round" fill="none"/>
<text x="211" y="569.6" font-size="9.2" text-anchor="middle" fill="#222" stroke="#222" stroke-width="0.25" textLength="1.7" lengthAdjust="spacingAndGlyphs" >I</text>
<text x="253" y="569.6" font-size="9.2" text-anchor="middle" fill="#222" stroke="#222" stroke-width="0.25" textLength="4.5" lengthAdjust="spacingAndGlyphs" >II</text>
<text x="294.4" y="569.6" font-size="9.2" text-anchor="middle" fill="#222" stroke="#222" stroke-width="0.25" textLength="7.0" lengthAdjust="spacingAndGlyphs" >III</text>
<rect x="194.2" y="445.9" width="7.8" height="4.6" fill="#3b6a50" />
<text x="205" y="450.5" font-size="9" text-anchor="start" fill="#222" stroke="#222" stroke-width="0.25" textLength="21" lengthAdjust="spacingAndGlyphs" >GFP+</text>
<rect x="194.2" y="458.3" width="7.8" height="4.6" fill="#a8661f" />
<text x="205" y="463.0" font-size="9" text-anchor="start" fill="#222" stroke="#222" stroke-width="0.25" textLength="33" lengthAdjust="spacingAndGlyphs" >CD45.1+</text>
<text x="139.5" y="500" font-size="10.4" text-anchor="middle" fill="#222" stroke="#222" stroke-width="0.25" textLength="59.2" lengthAdjust="spacingAndGlyphs" transform="rotate(-90 139.5 500)" >Donor Lin- cells</text>
<text x="151.8" y="500.4" font-size="10.4" text-anchor="middle" fill="#222" stroke="#222" stroke-width="0.25" textLength="113.8" lengthAdjust="spacingAndGlyphs" transform="rotate(-90 151.8 500.4)" >(No. per hind limb long bone)</text>
<line x1="380.5" y1="440" x2="380.5" y2="559.0" stroke="#111" stroke-width="1.1"/>
<line x1="377.2" y1="442.5" x2="380.5" y2="442.5" stroke="#111" stroke-width="1.1"/>
<text x="373.9" y="445.4" font-size="9.2" text-anchor="end" fill="#222" stroke="#222" stroke-width="0.25" >1.0</text>
<line x1="377.2" y1="471.5" x2="380.5" y2="471.5" stroke="#111" stroke-width="1.1"/>
<text x="373.9" y="474.4" font-size="9.2" text-anchor="end" fill="#222" stroke="#222" stroke-width="0.25" >0.5</text>
<line x1="377.2" y1="500.5" x2="380.5" y2="500.5" stroke="#111" stroke-width="1.1"/>
<text x="373.9" y="503.4" font-size="9.2" text-anchor="end" fill="#222" stroke="#222" stroke-width="0.25" >0.0</text>
<line x1="377.2" y1="529.5" x2="380.5" y2="529.5" stroke="#111" stroke-width="1.1"/>
<text x="373.9" y="532.4" font-size="9.2" text-anchor="end" fill="#222" stroke="#222" stroke-width="0.25" >-0.5</text>
<line x1="377.2" y1="558.5" x2="380.5" y2="558.5" stroke="#111" stroke-width="1.1"/>
<text x="373.9" y="561.4" font-size="9.2" text-anchor="end" fill="#222" stroke="#222" stroke-width="0.25" >-1.0</text>
<rect x="384" y="500.9" width="14.699999999999989" height="17.5" fill="#a3002a" />
<rect x="404.9" y="470.9" width="14.600000000000023" height="30.0" fill="#2e4b7e" />
<rect x="425.7" y="500.9" width="13.900000000000034" height="51.10000000000002" fill="#6aa843" />
<line x1="391.35" y1="518.4" x2="391.35" y2="520.5" stroke="#111" stroke-width="1.0"/>
<line x1="387.95000000000005" y1="520.5" x2="394.75" y2="520.5" stroke="#111" stroke-width="1.0"/>
<line x1="412.2" y1="470.9" x2="412.2" y2="465.5" stroke="#111" stroke-width="1.0"/>
<line x1="408.8" y1="465.5" x2="415.59999999999997" y2="465.5" stroke="#111" stroke-width="1.0"/>
<line x1="432.65" y1="552" x2="432.65" y2="554.5" stroke="#111" stroke-width="1.0"/>
<line x1="429.25" y1="554.5" x2="436.04999999999995" y2="554.5" stroke="#111" stroke-width="1.0"/>
<line x1="377.5" y1="500.5" x2="443.3" y2="500.5" stroke="#111" stroke-width="1.1"/>
<path d="M408.60,458.30 L408.60,456.70 M408.60,458.30 L410.12,457.81 M408.60,458.30 L407.08,457.81 M408.60,458.30 L407.66,459.59 M408.60,458.30 L409.54,459.59 M412.20,458.30 L412.20,456.70 M412.20,458.30 L413.72,457.81 M412.20,458.30 L410.68,457.81 M412.20,458.30 L411.26,459.59 M412.20,458.30 L413.14,459.59 M415.80,458.30 L415.80,456.70 M415.80,458.30 L417.32,457.81 M415.80,458.30 L414.28,457.81 M415.80,458.30 L414.86,459.59 M415.80,458.30 L416.74,459.59 " stroke="#111" stroke-width="0.85" stroke-linecap="round" fill="none"/>
<path d="M429.05,559.70 L429.05,558.10 M429.05,559.70 L430.57,559.21 M429.05,559.70 L427.53,559.21 M429.05,559.70 L428.11,560.99 M429.05,559.70 L429.99,560.99 M432.65,559.70 L432.65,558.10 M432.65,559.70 L434.17,559.21 M432.65,559.70 L431.13,559.21 M432.65,559.70 L431.71,560.99 M432.65,559.70 L433.59,560.99 M436.25,559.70 L436.25,558.10 M436.25,559.70 L437.77,559.21 M436.25,559.70 L434.73,559.21 M436.25,559.70 L435.31,560.99 M436.25,559.70 L437.19,560.99 " stroke="#111" stroke-width="0.85" stroke-linecap="round" fill="none"/>
<text x="391.4" y="575.3" font-size="9.2" text-anchor="middle" fill="#222" stroke="#222" stroke-width="0.25" textLength="1.7" lengthAdjust="spacingAndGlyphs" >I</text>
<text x="412.2" y="575.3" font-size="9.2" text-anchor="middle" fill="#222" stroke="#222" stroke-width="0.25" textLength="4.5" lengthAdjust="spacingAndGlyphs" >II</text>
<text x="433" y="575.3" font-size="9.2" text-anchor="middle" fill="#222" stroke="#222" stroke-width="0.25" textLength="7.0" lengthAdjust="spacingAndGlyphs" >III</text>
<text x="342.2" y="500" font-size="10.4" text-anchor="middle" fill="#222" stroke="#222" stroke-width="0.25" textLength="111.6" lengthAdjust="spacingAndGlyphs" transform="rotate(-90 342.2 500)" >Ratio of GFP+ / CD45.1+ Lin-</text>
<text x="354.7" y="498.6" font-size="10.4" text-anchor="middle" fill="#222" stroke="#222" stroke-width="0.25" textLength="49.8" lengthAdjust="spacingAndGlyphs" transform="rotate(-90 354.7 498.6)" >cells (Log10)</text>
<g>
<polygon points="457.8,438.6 511.8,554.7 457.8,554.7" fill="url(#gO)"/>
<polygon points="457.8,438.6 511.8,438.6 457.8,554.7" fill="url(#gG)" style="mix-blend-mode:multiply"/>
</g>
<text x="484.8" y="446.20000000000005" font-size="9.2" text-anchor="middle" fill="#f2f2ee" textLength="15.5" lengthAdjust="spacingAndGlyphs" >GFP</text>
<text x="484.8" y="456.6" font-size="9.2" text-anchor="middle" fill="#f2f2ee" textLength="36" lengthAdjust="spacingAndGlyphs" >Dominant</text>
<text x="484.8" y="541.7" font-size="9.2" text-anchor="middle" fill="#f8f0e6" textLength="28" lengthAdjust="spacingAndGlyphs" >CD45.1</text>
<text x="484.8" y="551.5" font-size="9.2" text-anchor="middle" fill="#f8f0e6" textLength="36" lengthAdjust="spacingAndGlyphs" >Dominant</text>
<line x1="53.5" y1="615" x2="53.5" y2="731.4" stroke="#111" stroke-width="1.1"/>
<line x1="50.2" y1="617.6999999999999" x2="53.5" y2="617.6999999999999" stroke="#111" stroke-width="1.1"/>
<text x="46.9" y="620.5999999999999" font-size="9.2" text-anchor="end" fill="#222" stroke="#222" stroke-width="0.25" >15</text>
<line x1="50.2" y1="655.4" x2="53.5" y2="655.4" stroke="#111" stroke-width="1.1"/>
<text x="46.9" y="658.3" font-size="9.2" text-anchor="end" fill="#222" stroke="#222" stroke-width="0.25" >10</text>
<line x1="50.2" y1="693.0999999999999" x2="53.5" y2="693.0999999999999" stroke="#111" stroke-width="1.1"/>
<text x="46.9" y="695.9999999999999" font-size="9.2" text-anchor="end" fill="#222" stroke="#222" stroke-width="0.25" >5</text>
<line x1="50.2" y1="730.8" x2="53.5" y2="730.8" stroke="#111" stroke-width="1.1"/>
<text x="46.9" y="733.6999999999999" font-size="9.2" text-anchor="end" fill="#222" stroke="#222" stroke-width="0.25" >0</text>
<line x1="50.5" y1="730.8" x2="115.8" y2="730.8" stroke="#111" stroke-width="1.3"/>
<rect x="57.1" y="646.8" width="13.699999999999996" height="84.0" fill="#a3002a" />
<line x1="63.95" y1="646.8" x2="63.95" y2="641.5" stroke="#111" stroke-width="1.0"/>
<line x1="60.550000000000004" y1="641.5" x2="67.35000000000001" y2="641.5" stroke="#111" stroke-width="1.0"/>
<rect x="78.0" y="657.5" width="13.5" height="73.29999999999995" fill="#2e4b7e" />
<line x1="84.75" y1="657.5" x2="84.75" y2="646.5" stroke="#111" stroke-width="1.0"/>
<line x1="81.35" y1="646.5" x2="88.15" y2="646.5" stroke="#111" stroke-width="1.0"/>
<rect x="98.6" y="664.3" width="13.900000000000006" height="66.5" fill="#6aa843" />
<line x1="105.55" y1="664.3" x2="105.55" y2="653.5" stroke="#111" stroke-width="1.0"/>
<line x1="102.14999999999999" y1="653.5" x2="108.95" y2="653.5" stroke="#111" stroke-width="1.0"/>
<text x="64" y="742.2" font-size="9.2" text-anchor="middle" fill="#222" stroke="#222" stroke-width="0.25" textLength="1.7" lengthAdjust="spacingAndGlyphs" >I</text>
<text x="84.8" y="742.2" font-size="9.2" text-anchor="middle" fill="#222" stroke="#222" stroke-width="0.25" textLength="4.5" lengthAdjust="spacingAndGlyphs" >II</text>
<text x="105.8" y="742.2" font-size="9.2" text-anchor="middle" fill="#222" stroke="#222" stroke-width="0.25" textLength="7.0" lengthAdjust="spacingAndGlyphs" >III</text>
<text x="17.6" y="672.3" font-size="10.4" text-anchor="middle" fill="#222" stroke="#222" stroke-width="0.25" textLength="58.6" lengthAdjust="spacingAndGlyphs" transform="rotate(-90 17.6 672.3)" >Donor LSK cells</text>
<text x="29.7" y="672.7" font-size="10.4" text-anchor="middle" fill="#222" stroke="#222" stroke-width="0.25" textLength="69.8" lengthAdjust="spacingAndGlyphs" transform="rotate(-90 29.7 672.7)" >(% of CD45+/Lin-)</text>
<line x1="190.5" y1="615" x2="190.5" y2="731.5" stroke="#111" stroke-width="1.1"/>
<line x1="187.2" y1="617.71" x2="190.5" y2="617.71" stroke="#111" stroke-width="1.1"/>
<text x="183.9" y="620.71" font-size="8.6" text-anchor="end" fill="#222" stroke="#222" stroke-width="0.25">3×10<tspan font-size="6" dy="-3.7">4</tspan></text>
<line x1="187.2" y1="655.4399999999999" x2="190.5" y2="655.4399999999999" stroke="#111" stroke-width="1.1"/>
<text x="183.9" y="658.4399999999999" font-size="8.6" text-anchor="end" fill="#222" stroke="#222" stroke-width="0.25">2×10<tspan font-size="6" dy="-3.7">4</tspan></text>
<line x1="187.2" y1="693.17" x2="190.5" y2="693.17" stroke="#111" stroke-width="1.1"/>
<text x="183.9" y="696.17" font-size="8.6" text-anchor="end" fill="#222" stroke="#222" stroke-width="0.25">1×10<tspan font-size="6" dy="-3.7">4</tspan></text>
<line x1="187.2" y1="730.9" x2="190.5" y2="730.9" stroke="#111" stroke-width="1.1"/>
<text x="183.9" y="733.8" font-size="9.2" text-anchor="end" fill="#222" stroke="#222" stroke-width="0.25" >0</text>
<line x1="187.5" y1="730.9" x2="310" y2="730.9" stroke="#111" stroke-width="1.3"/>
<rect x="198.2" y="719.4" width="10.400000000000006" height="11.5" fill="#3b6a50" />
<line x1="203.39999999999998" y1="719.4" x2="203.39999999999998" y2="716.5" stroke="#111" stroke-width="1.0"/>
<line x1="200.59999999999997" y1="716.5" x2="206.2" y2="716.5" stroke="#111" stroke-width="1.0"/>
<rect x="213.8" y="712.2" width="10.099999999999994" height="18.699999999999932" fill="#a8661f" />
<line x1="218.85000000000002" y1="712.2" x2="218.85000000000002" y2="709.5" stroke="#111" stroke-width="1.0"/>
<line x1="216.05" y1="709.5" x2="221.65000000000003" y2="709.5" stroke="#111" stroke-width="1.0"/>
<rect x="239.8" y="670.6" width="10.299999999999983" height="60.299999999999955" fill="#3b6a50" />
<line x1="244.95" y1="670.6" x2="244.95" y2="664.5" stroke="#111" stroke-width="1.0"/>
<line x1="242.14999999999998" y1="664.5" x2="247.75" y2="664.5" stroke="#111" stroke-width="1.0"/>
<rect x="255.7" y="708.1" width="10.300000000000011" height="22.799999999999955" fill="#a8661f" />
<line x1="260.85" y1="708.1" x2="260.85" y2="700.5" stroke="#111" stroke-width="1.0"/>
<line x1="258.05" y1="700.5" x2="263.65000000000003" y2="700.5" stroke="#111" stroke-width="1.0"/>
<rect x="281.6" y="721.8" width="10.399999999999977" height="9.100000000000023" fill="#3b6a50" />
<line x1="286.8" y1="721.8" x2="286.8" y2="718.5" stroke="#111" stroke-width="1.0"/>
<line x1="284.0" y1="718.5" x2="289.6" y2="718.5" stroke="#111" stroke-width="1.0"/>
<rect x="297.5" y="659.8" width="10.300000000000011" height="71.10000000000002" fill="#a8661f" />
<line x1="302.65" y1="659.8" x2="302.65" y2="635.5" stroke="#111" stroke-width="1.0"/>
<line x1="299.84999999999997" y1="635.5" x2="305.45" y2="635.5" stroke="#111" stroke-width="1.0"/>
<path d="M261.00,696.00 L261.00,694.40 M261.00,696.00 L262.52,695.51 M261.00,696.00 L259.48,695.51 M261.00,696.00 L260.06,697.29 M261.00,696.00 L261.94,697.29 " stroke="#111" stroke-width="0.85" stroke-linecap="round" fill="none"/>
<path d="M283.40,715.20 L283.40,713.60 M283.40,715.20 L284.92,714.71 M283.40,715.20 L281.88,714.71 M283.40,715.20 L282.46,716.49 M283.40,715.20 L284.34,716.49 M287.00,715.20 L287.00,713.60 M287.00,715.20 L288.52,714.71 M287.00,715.20 L285.48,714.71 M287.00,715.20 L286.06,716.49 M287.00,715.20 L287.94,716.49 M290.60,715.20 L290.60,713.60 M290.60,715.20 L292.12,714.71 M290.60,715.20 L289.08,714.71 M290.60,715.20 L289.66,716.49 M290.60,715.20 L291.54,716.49 " stroke="#111" stroke-width="0.85" stroke-linecap="round" fill="none"/>
<text x="211" y="743.0" font-size="9.2" text-anchor="middle" fill="#222" stroke="#222" stroke-width="0.25" textLength="1.7" lengthAdjust="spacingAndGlyphs" >I</text>
<text x="253" y="743.0" font-size="9.2" text-anchor="middle" fill="#222" stroke="#222" stroke-width="0.25" textLength="4.5" lengthAdjust="spacingAndGlyphs" >II</text>
<text x="294.4" y="743.0" font-size="9.2" text-anchor="middle" fill="#222" stroke="#222" stroke-width="0.25" textLength="7.0" lengthAdjust="spacingAndGlyphs" >III</text>
<rect x="194.4" y="618.0" width="7.8" height="4.6" fill="#3b6a50" />
<text x="205.6" y="623.1" font-size="9" text-anchor="start" fill="#222" stroke="#222" stroke-width="0.25" textLength="21" lengthAdjust="spacingAndGlyphs" >GFP+</text>
<rect x="194.4" y="630.8" width="7.8" height="4.6" fill="#a8661f" />
<text x="205.6" y="635.8" font-size="9" text-anchor="start" fill="#222" stroke="#222" stroke-width="0.25" textLength="33" lengthAdjust="spacingAndGlyphs" >CD45.1+</text>
<text x="139.5" y="672" font-size="10.4" text-anchor="middle" fill="#222" stroke="#222" stroke-width="0.25" textLength="58.8" lengthAdjust="spacingAndGlyphs" transform="rotate(-90 139.5 672)" >Donor LSK cells</text>
<text x="151.8" y="672.4" font-size="10.4" text-anchor="middle" fill="#222" stroke="#222" stroke-width="0.25" textLength="113.8" lengthAdjust="spacingAndGlyphs" transform="rotate(-90 151.8 672.4)" >(No. per hind limb long bone)</text>
<line x1="380.5" y1="612.5" x2="380.5" y2="731.2" stroke="#111" stroke-width="1.1"/>
<line x1="377.2" y1="614.8" x2="380.5" y2="614.8" stroke="#111" stroke-width="1.1"/>
<text x="373.9" y="617.6999999999999" font-size="9.2" text-anchor="end" fill="#222" stroke="#222" stroke-width="0.25" >1.0</text>
<line x1="377.2" y1="643.65" x2="380.5" y2="643.65" stroke="#111" stroke-width="1.1"/>
<text x="373.9" y="646.55" font-size="9.2" text-anchor="end" fill="#222" stroke="#222" stroke-width="0.25" >0.5</text>
<line x1="377.2" y1="672.5" x2="380.5" y2="672.5" stroke="#111" stroke-width="1.1"/>
<text x="373.9" y="675.4" font-size="9.2" text-anchor="end" fill="#222" stroke="#222" stroke-width="0.25" >0.0</text>
<line x1="377.2" y1="701.35" x2="380.5" y2="701.35" stroke="#111" stroke-width="1.1"/>
<text x="373.9" y="704.25" font-size="9.2" text-anchor="end" fill="#222" stroke="#222" stroke-width="0.25" >-0.5</text>
<line x1="377.2" y1="730.2" x2="380.5" y2="730.2" stroke="#111" stroke-width="1.1"/>
<text x="373.9" y="733.1" font-size="9.2" text-anchor="end" fill="#222" stroke="#222" stroke-width="0.25" >-1.0</text>
<rect x="384" y="672.7" width="14.699999999999989" height="12.0" fill="#a3002a" />
<rect x="404.9" y="640.9" width="14.600000000000023" height="31.800000000000068" fill="#2e4b7e" />
<rect x="425.7" y="672.7" width="13.900000000000034" height="50.0" fill="#6aa843" />
<line x1="391.35" y1="684.7" x2="391.35" y2="688.5" stroke="#111" stroke-width="1.0"/>
<line x1="387.95000000000005" y1="688.5" x2="394.75" y2="688.5" stroke="#111" stroke-width="1.0"/>
<line x1="412.2" y1="640.9" x2="412.2" y2="628.5" stroke="#111" stroke-width="1.0"/>
<line x1="408.8" y1="628.5" x2="415.59999999999997" y2="628.5" stroke="#111" stroke-width="1.0"/>
<line x1="432.65" y1="722.7" x2="432.65" y2="724.5" stroke="#111" stroke-width="1.0"/>
<line x1="429.25" y1="724.5" x2="436.04999999999995" y2="724.5" stroke="#111" stroke-width="1.0"/>
<line x1="377.5" y1="672.5" x2="443.3" y2="672.5" stroke="#111" stroke-width="1.1"/>
<path d="M410.40,621.60 L410.40,620.00 M410.40,621.60 L411.92,621.11 M410.40,621.60 L408.88,621.11 M410.40,621.60 L409.46,622.89 M410.40,621.60 L411.34,622.89 M414.00,621.60 L414.00,620.00 M414.00,621.60 L415.52,621.11 M414.00,621.60 L412.48,621.11 M414.00,621.60 L413.06,622.89 M414.00,621.60 L414.94,622.89 " stroke="#111" stroke-width="0.85" stroke-linecap="round" fill="none"/>
<path d="M430.85,729.50 L430.85,727.90 M430.85,729.50 L432.37,729.01 M430.85,729.50 L429.33,729.01 M430.85,729.50 L429.91,730.79 M430.85,729.50 L431.79,730.79 M434.45,729.50 L434.45,727.90 M434.45,729.50 L435.97,729.01 M434.45,729.50 L432.93,729.01 M434.45,729.50 L433.51,730.79 M434.45,729.50 L435.39,730.79 " stroke="#111" stroke-width="0.85" stroke-linecap="round" fill="none"/>
<text x="391.4" y="747.2" font-size="9.2" text-anchor="middle" fill="#222" stroke="#222" stroke-width="0.25" textLength="1.7" lengthAdjust="spacingAndGlyphs" >I</text>
<text x="412.2" y="747.2" font-size="9.2" text-anchor="middle" fill="#222" stroke="#222" stroke-width="0.25" textLength="4.5" lengthAdjust="spacingAndGlyphs" >II</text>
<text x="433" y="747.2" font-size="9.2" text-anchor="middle" fill="#222" stroke="#222" stroke-width="0.25" textLength="7.0" lengthAdjust="spacingAndGlyphs" >III</text>
<text x="339.5" y="673.4" font-size="10.4" text-anchor="middle" fill="#222" stroke="#222" stroke-width="0.25" textLength="112.2" lengthAdjust="spacingAndGlyphs" transform="rotate(-90 339.5 673.4)" >Ratio of GFP+ / CD45.1+ LSK</text>
<text x="352.6" y="672.3" font-size="10.4" text-anchor="middle" fill="#222" stroke="#222" stroke-width="0.25" textLength="49.8" lengthAdjust="spacingAndGlyphs" transform="rotate(-90 352.6 672.3)" >cells (Log10)</text>
<g>
<polygon points="457.8,611.3 511.6,726.8 457.8,726.8" fill="url(#gO)"/>
<polygon points="457.8,611.3 511.6,611.3 457.8,726.8" fill="url(#gG)" style="mix-blend-mode:multiply"/>
</g>
<text x="484.70000000000005" y="618.9" font-size="9.2" text-anchor="middle" fill="#f2f2ee" textLength="15.5" lengthAdjust="spacingAndGlyphs" >GFP</text>
<text x="484.70000000000005" y="629.3" font-size="9.2" text-anchor="middle" fill="#f2f2ee" textLength="36" lengthAdjust="spacingAndGlyphs" >Dominant</text>
<text x="484.70000000000005" y="713.8" font-size="9.2" text-anchor="middle" fill="#f8f0e6" textLength="28" lengthAdjust="spacingAndGlyphs" >CD45.1</text>
<text x="484.70000000000005" y="723.5999999999999" font-size="9.2" text-anchor="middle" fill="#f8f0e6" textLength="36" lengthAdjust="spacingAndGlyphs" >Dominant</text>
<rect x="0.5" y="0.5" width="519" height="754" fill="none" stroke="#000" stroke-width="1.2"/>
</svg></body></html>
